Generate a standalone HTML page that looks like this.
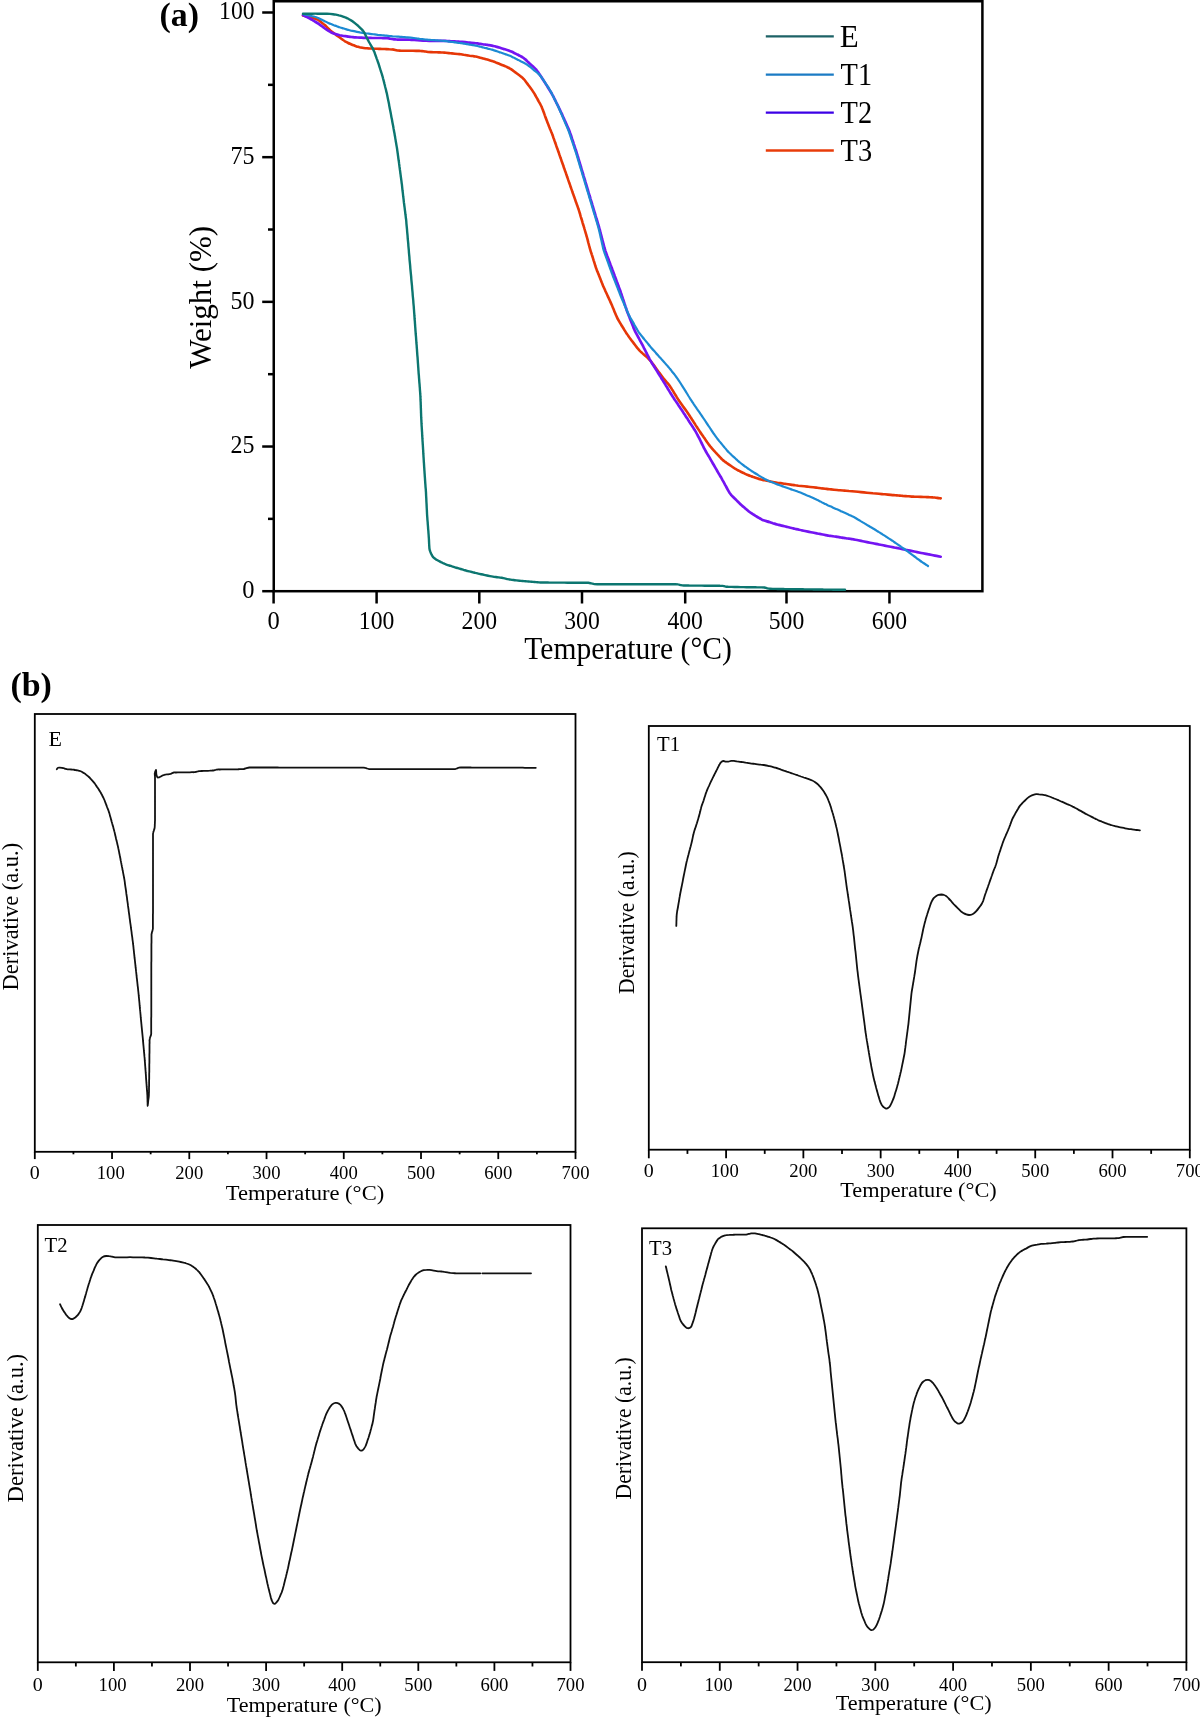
<!DOCTYPE html>
<html><head><meta charset="utf-8"><style>
html,body{margin:0;padding:0;background:#fff;}
svg{display:block;will-change:transform;filter:blur(0.45px);}
text{font-family:"Liberation Serif",serif;fill:#000;}
</style></head><body>
<svg width="1200" height="1718" viewBox="0 0 1200 1718">
<rect width="1200" height="1718" fill="#fff"/>
<rect x="273.75" y="1.25" width="708.65" height="589.95" fill="none" stroke="#000" stroke-width="2.5"/>
<line x1="262.20" y1="591.20" x2="273.75" y2="591.20" stroke="#000" stroke-width="2.5"/>
<text x="254.60" y="598.00" font-size="24.5" text-anchor="end">0</text>
<line x1="262.20" y1="446.53" x2="273.75" y2="446.53" stroke="#000" stroke-width="2.5"/>
<text x="254.60" y="453.33" font-size="24.5" text-anchor="end" textLength="24" lengthAdjust="spacingAndGlyphs">25</text>
<line x1="262.20" y1="301.85" x2="273.75" y2="301.85" stroke="#000" stroke-width="2.5"/>
<text x="254.60" y="308.65" font-size="24.5" text-anchor="end" textLength="24" lengthAdjust="spacingAndGlyphs">50</text>
<line x1="262.20" y1="157.18" x2="273.75" y2="157.18" stroke="#000" stroke-width="2.5"/>
<text x="254.60" y="163.98" font-size="24.5" text-anchor="end" textLength="24" lengthAdjust="spacingAndGlyphs">75</text>
<line x1="262.20" y1="12.50" x2="273.75" y2="12.50" stroke="#000" stroke-width="2.5"/>
<text x="254.60" y="19.30" font-size="24.5" text-anchor="end" textLength="35.5" lengthAdjust="spacingAndGlyphs">100</text>
<line x1="268.00" y1="518.86" x2="273.75" y2="518.86" stroke="#000" stroke-width="2.5"/>
<line x1="268.00" y1="374.19" x2="273.75" y2="374.19" stroke="#000" stroke-width="2.5"/>
<line x1="268.00" y1="229.51" x2="273.75" y2="229.51" stroke="#000" stroke-width="2.5"/>
<line x1="268.00" y1="84.84" x2="273.75" y2="84.84" stroke="#000" stroke-width="2.5"/>
<line x1="273.60" y1="591.20" x2="273.60" y2="603.50" stroke="#000" stroke-width="2.5"/>
<text x="273.60" y="629.00" font-size="24.5" text-anchor="middle">0</text>
<line x1="376.60" y1="591.20" x2="376.60" y2="603.50" stroke="#000" stroke-width="2.5"/>
<text x="376.60" y="629.00" font-size="24.5" text-anchor="middle" textLength="35.5" lengthAdjust="spacingAndGlyphs">100</text>
<line x1="479.30" y1="591.20" x2="479.30" y2="603.50" stroke="#000" stroke-width="2.5"/>
<text x="479.30" y="629.00" font-size="24.5" text-anchor="middle" textLength="35.5" lengthAdjust="spacingAndGlyphs">200</text>
<line x1="582.00" y1="591.20" x2="582.00" y2="603.50" stroke="#000" stroke-width="2.5"/>
<text x="582.00" y="629.00" font-size="24.5" text-anchor="middle" textLength="35.5" lengthAdjust="spacingAndGlyphs">300</text>
<line x1="685.20" y1="591.20" x2="685.20" y2="603.50" stroke="#000" stroke-width="2.5"/>
<text x="685.20" y="629.00" font-size="24.5" text-anchor="middle" textLength="35.5" lengthAdjust="spacingAndGlyphs">400</text>
<line x1="786.50" y1="591.20" x2="786.50" y2="603.50" stroke="#000" stroke-width="2.5"/>
<text x="786.50" y="629.00" font-size="24.5" text-anchor="middle" textLength="35.5" lengthAdjust="spacingAndGlyphs">500</text>
<line x1="889.45" y1="591.20" x2="889.45" y2="603.50" stroke="#000" stroke-width="2.5"/>
<text x="889.45" y="629.00" font-size="24.5" text-anchor="middle" textLength="35.5" lengthAdjust="spacingAndGlyphs">600</text>
<text x="524.30" y="659.00" font-size="31" textLength="207.5" lengthAdjust="spacingAndGlyphs">Temperature (°C)</text>
<text transform="translate(211.40,368.80) rotate(-90)" font-size="31" textLength="143" lengthAdjust="spacingAndGlyphs">Weight (%)</text>
<text x="159.60" y="26.10" font-size="34" font-weight="bold" textLength="39.5" lengthAdjust="spacingAndGlyphs">(a)</text>
<line x1="765.80" y1="36.40" x2="833.80" y2="36.40" stroke="#1d6266" stroke-width="2.3"/>
<text x="839.80" y="46.60" font-size="31">E</text>
<line x1="765.80" y1="74.70" x2="833.80" y2="74.70" stroke="#1b7bc4" stroke-width="2.3"/>
<text x="840.60" y="84.90" font-size="31" textLength="31.5" lengthAdjust="spacingAndGlyphs">T1</text>
<line x1="765.80" y1="112.60" x2="833.80" y2="112.60" stroke="#3c00e6" stroke-width="2.3"/>
<text x="840.60" y="122.80" font-size="31" textLength="31.5" lengthAdjust="spacingAndGlyphs">T2</text>
<line x1="765.80" y1="150.50" x2="833.80" y2="150.50" stroke="#e83c0a" stroke-width="2.3"/>
<text x="840.60" y="160.70" font-size="31" textLength="31.5" lengthAdjust="spacingAndGlyphs">T3</text>
<text x="10.40" y="695.60" font-size="34" font-weight="bold" textLength="41.5" lengthAdjust="spacingAndGlyphs">(b)</text>
<rect x="34.8" y="714.0" width="540.70" height="437.80" fill="none" stroke="#000" stroke-width="1.8"/>
<line x1="34.80" y1="1151.80" x2="34.80" y2="1159.10" stroke="#000" stroke-width="1.8"/>
<text x="34.80" y="1178.80" font-size="19.5" text-anchor="middle" textLength="10" lengthAdjust="spacingAndGlyphs">0</text>
<line x1="73.42" y1="1151.80" x2="73.42" y2="1154.30" stroke="#000" stroke-width="1.8"/>
<line x1="112.04" y1="1151.80" x2="112.04" y2="1159.10" stroke="#000" stroke-width="1.8"/>
<text x="110.74" y="1178.80" font-size="19.5" text-anchor="middle" textLength="28" lengthAdjust="spacingAndGlyphs">100</text>
<line x1="150.66" y1="1151.80" x2="150.66" y2="1154.30" stroke="#000" stroke-width="1.8"/>
<line x1="189.29" y1="1151.80" x2="189.29" y2="1159.10" stroke="#000" stroke-width="1.8"/>
<text x="189.29" y="1178.80" font-size="19.5" text-anchor="middle" textLength="28" lengthAdjust="spacingAndGlyphs">200</text>
<line x1="227.91" y1="1151.80" x2="227.91" y2="1154.30" stroke="#000" stroke-width="1.8"/>
<line x1="266.53" y1="1151.80" x2="266.53" y2="1159.10" stroke="#000" stroke-width="1.8"/>
<text x="266.53" y="1178.80" font-size="19.5" text-anchor="middle" textLength="28" lengthAdjust="spacingAndGlyphs">300</text>
<line x1="305.15" y1="1151.80" x2="305.15" y2="1154.30" stroke="#000" stroke-width="1.8"/>
<line x1="343.77" y1="1151.80" x2="343.77" y2="1159.10" stroke="#000" stroke-width="1.8"/>
<text x="343.77" y="1178.80" font-size="19.5" text-anchor="middle" textLength="28" lengthAdjust="spacingAndGlyphs">400</text>
<line x1="382.39" y1="1151.80" x2="382.39" y2="1154.30" stroke="#000" stroke-width="1.8"/>
<line x1="421.01" y1="1151.80" x2="421.01" y2="1159.10" stroke="#000" stroke-width="1.8"/>
<text x="421.01" y="1178.80" font-size="19.5" text-anchor="middle" textLength="28" lengthAdjust="spacingAndGlyphs">500</text>
<line x1="459.64" y1="1151.80" x2="459.64" y2="1154.30" stroke="#000" stroke-width="1.8"/>
<line x1="498.26" y1="1151.80" x2="498.26" y2="1159.10" stroke="#000" stroke-width="1.8"/>
<text x="498.26" y="1178.80" font-size="19.5" text-anchor="middle" textLength="28" lengthAdjust="spacingAndGlyphs">600</text>
<line x1="536.88" y1="1151.80" x2="536.88" y2="1154.30" stroke="#000" stroke-width="1.8"/>
<line x1="575.50" y1="1151.80" x2="575.50" y2="1159.10" stroke="#000" stroke-width="1.8"/>
<text x="575.50" y="1178.80" font-size="19.5" text-anchor="middle" textLength="28" lengthAdjust="spacingAndGlyphs">700</text>
<text x="48.50" y="745.80" font-size="22">E</text>
<text x="225.80" y="1200.00" font-size="20" textLength="158.4" lengthAdjust="spacingAndGlyphs">Temperature (°C)</text>
<text transform="translate(17.80,990.40) rotate(-90)" font-size="23" textLength="147.5" lengthAdjust="spacingAndGlyphs">Derivative (a.u.)</text>
<rect x="648.8" y="726.0" width="541.00" height="423.70" fill="none" stroke="#000" stroke-width="1.8"/>
<line x1="648.80" y1="1149.70" x2="648.80" y2="1158.30" stroke="#000" stroke-width="1.8"/>
<text x="648.80" y="1177.00" font-size="19.5" text-anchor="middle" textLength="10" lengthAdjust="spacingAndGlyphs">0</text>
<line x1="687.44" y1="1149.70" x2="687.44" y2="1153.90" stroke="#000" stroke-width="1.8"/>
<line x1="726.09" y1="1149.70" x2="726.09" y2="1158.30" stroke="#000" stroke-width="1.8"/>
<text x="724.79" y="1177.00" font-size="19.5" text-anchor="middle" textLength="28" lengthAdjust="spacingAndGlyphs">100</text>
<line x1="764.73" y1="1149.70" x2="764.73" y2="1153.90" stroke="#000" stroke-width="1.8"/>
<line x1="803.37" y1="1149.70" x2="803.37" y2="1158.30" stroke="#000" stroke-width="1.8"/>
<text x="803.37" y="1177.00" font-size="19.5" text-anchor="middle" textLength="28" lengthAdjust="spacingAndGlyphs">200</text>
<line x1="842.01" y1="1149.70" x2="842.01" y2="1153.90" stroke="#000" stroke-width="1.8"/>
<line x1="880.66" y1="1149.70" x2="880.66" y2="1158.30" stroke="#000" stroke-width="1.8"/>
<text x="880.66" y="1177.00" font-size="19.5" text-anchor="middle" textLength="28" lengthAdjust="spacingAndGlyphs">300</text>
<line x1="919.30" y1="1149.70" x2="919.30" y2="1153.90" stroke="#000" stroke-width="1.8"/>
<line x1="957.94" y1="1149.70" x2="957.94" y2="1158.30" stroke="#000" stroke-width="1.8"/>
<text x="957.94" y="1177.00" font-size="19.5" text-anchor="middle" textLength="28" lengthAdjust="spacingAndGlyphs">400</text>
<line x1="996.59" y1="1149.70" x2="996.59" y2="1153.90" stroke="#000" stroke-width="1.8"/>
<line x1="1035.23" y1="1149.70" x2="1035.23" y2="1158.30" stroke="#000" stroke-width="1.8"/>
<text x="1035.23" y="1177.00" font-size="19.5" text-anchor="middle" textLength="28" lengthAdjust="spacingAndGlyphs">500</text>
<line x1="1073.87" y1="1149.70" x2="1073.87" y2="1153.90" stroke="#000" stroke-width="1.8"/>
<line x1="1112.51" y1="1149.70" x2="1112.51" y2="1158.30" stroke="#000" stroke-width="1.8"/>
<text x="1112.51" y="1177.00" font-size="19.5" text-anchor="middle" textLength="28" lengthAdjust="spacingAndGlyphs">600</text>
<line x1="1151.16" y1="1149.70" x2="1151.16" y2="1153.90" stroke="#000" stroke-width="1.8"/>
<line x1="1189.80" y1="1149.70" x2="1189.80" y2="1158.30" stroke="#000" stroke-width="1.8"/>
<text x="1189.80" y="1177.00" font-size="19.5" text-anchor="middle" textLength="28" lengthAdjust="spacingAndGlyphs">700</text>
<text x="657.00" y="750.80" font-size="22" textLength="23" lengthAdjust="spacingAndGlyphs">T1</text>
<text x="840.30" y="1197.00" font-size="20" textLength="156.4" lengthAdjust="spacingAndGlyphs">Temperature (°C)</text>
<text transform="translate(633.80,994.00) rotate(-90)" font-size="23" textLength="142.6" lengthAdjust="spacingAndGlyphs">Derivative (a.u.)</text>
<rect x="37.8" y="1225.0" width="532.70" height="437.30" fill="none" stroke="#000" stroke-width="1.8"/>
<line x1="37.80" y1="1662.30" x2="37.80" y2="1670.90" stroke="#000" stroke-width="1.8"/>
<text x="37.80" y="1690.80" font-size="19.5" text-anchor="middle" textLength="10" lengthAdjust="spacingAndGlyphs">0</text>
<line x1="75.85" y1="1662.30" x2="75.85" y2="1666.50" stroke="#000" stroke-width="1.8"/>
<line x1="113.90" y1="1662.30" x2="113.90" y2="1670.90" stroke="#000" stroke-width="1.8"/>
<text x="112.60" y="1690.80" font-size="19.5" text-anchor="middle" textLength="28" lengthAdjust="spacingAndGlyphs">100</text>
<line x1="151.95" y1="1662.30" x2="151.95" y2="1666.50" stroke="#000" stroke-width="1.8"/>
<line x1="190.00" y1="1662.30" x2="190.00" y2="1670.90" stroke="#000" stroke-width="1.8"/>
<text x="190.00" y="1690.80" font-size="19.5" text-anchor="middle" textLength="28" lengthAdjust="spacingAndGlyphs">200</text>
<line x1="228.05" y1="1662.30" x2="228.05" y2="1666.50" stroke="#000" stroke-width="1.8"/>
<line x1="266.10" y1="1662.30" x2="266.10" y2="1670.90" stroke="#000" stroke-width="1.8"/>
<text x="266.10" y="1690.80" font-size="19.5" text-anchor="middle" textLength="28" lengthAdjust="spacingAndGlyphs">300</text>
<line x1="304.15" y1="1662.30" x2="304.15" y2="1666.50" stroke="#000" stroke-width="1.8"/>
<line x1="342.20" y1="1662.30" x2="342.20" y2="1670.90" stroke="#000" stroke-width="1.8"/>
<text x="342.20" y="1690.80" font-size="19.5" text-anchor="middle" textLength="28" lengthAdjust="spacingAndGlyphs">400</text>
<line x1="380.25" y1="1662.30" x2="380.25" y2="1666.50" stroke="#000" stroke-width="1.8"/>
<line x1="418.30" y1="1662.30" x2="418.30" y2="1670.90" stroke="#000" stroke-width="1.8"/>
<text x="418.30" y="1690.80" font-size="19.5" text-anchor="middle" textLength="28" lengthAdjust="spacingAndGlyphs">500</text>
<line x1="456.35" y1="1662.30" x2="456.35" y2="1666.50" stroke="#000" stroke-width="1.8"/>
<line x1="494.40" y1="1662.30" x2="494.40" y2="1670.90" stroke="#000" stroke-width="1.8"/>
<text x="494.40" y="1690.80" font-size="19.5" text-anchor="middle" textLength="28" lengthAdjust="spacingAndGlyphs">600</text>
<line x1="532.45" y1="1662.30" x2="532.45" y2="1666.50" stroke="#000" stroke-width="1.8"/>
<line x1="570.50" y1="1662.30" x2="570.50" y2="1670.90" stroke="#000" stroke-width="1.8"/>
<text x="570.50" y="1690.80" font-size="19.5" text-anchor="middle" textLength="28" lengthAdjust="spacingAndGlyphs">700</text>
<text x="44.50" y="1251.80" font-size="22" textLength="23" lengthAdjust="spacingAndGlyphs">T2</text>
<text x="226.70" y="1711.70" font-size="20" textLength="155" lengthAdjust="spacingAndGlyphs">Temperature (°C)</text>
<text transform="translate(23.30,1502.40) rotate(-90)" font-size="23" textLength="148.5" lengthAdjust="spacingAndGlyphs">Derivative (a.u.)</text>
<rect x="642.0" y="1228.3" width="544.40" height="433.90" fill="none" stroke="#000" stroke-width="1.8"/>
<line x1="642.00" y1="1662.20" x2="642.00" y2="1670.80" stroke="#000" stroke-width="1.8"/>
<text x="642.00" y="1690.80" font-size="19.5" text-anchor="middle" textLength="10" lengthAdjust="spacingAndGlyphs">0</text>
<line x1="680.89" y1="1662.20" x2="680.89" y2="1666.40" stroke="#000" stroke-width="1.8"/>
<line x1="719.77" y1="1662.20" x2="719.77" y2="1670.80" stroke="#000" stroke-width="1.8"/>
<text x="718.47" y="1690.80" font-size="19.5" text-anchor="middle" textLength="28" lengthAdjust="spacingAndGlyphs">100</text>
<line x1="758.66" y1="1662.20" x2="758.66" y2="1666.40" stroke="#000" stroke-width="1.8"/>
<line x1="797.54" y1="1662.20" x2="797.54" y2="1670.80" stroke="#000" stroke-width="1.8"/>
<text x="797.54" y="1690.80" font-size="19.5" text-anchor="middle" textLength="28" lengthAdjust="spacingAndGlyphs">200</text>
<line x1="836.43" y1="1662.20" x2="836.43" y2="1666.40" stroke="#000" stroke-width="1.8"/>
<line x1="875.31" y1="1662.20" x2="875.31" y2="1670.80" stroke="#000" stroke-width="1.8"/>
<text x="875.31" y="1690.80" font-size="19.5" text-anchor="middle" textLength="28" lengthAdjust="spacingAndGlyphs">300</text>
<line x1="914.20" y1="1662.20" x2="914.20" y2="1666.40" stroke="#000" stroke-width="1.8"/>
<line x1="953.09" y1="1662.20" x2="953.09" y2="1670.80" stroke="#000" stroke-width="1.8"/>
<text x="953.09" y="1690.80" font-size="19.5" text-anchor="middle" textLength="28" lengthAdjust="spacingAndGlyphs">400</text>
<line x1="991.97" y1="1662.20" x2="991.97" y2="1666.40" stroke="#000" stroke-width="1.8"/>
<line x1="1030.86" y1="1662.20" x2="1030.86" y2="1670.80" stroke="#000" stroke-width="1.8"/>
<text x="1030.86" y="1690.80" font-size="19.5" text-anchor="middle" textLength="28" lengthAdjust="spacingAndGlyphs">500</text>
<line x1="1069.74" y1="1662.20" x2="1069.74" y2="1666.40" stroke="#000" stroke-width="1.8"/>
<line x1="1108.63" y1="1662.20" x2="1108.63" y2="1670.80" stroke="#000" stroke-width="1.8"/>
<text x="1108.63" y="1690.80" font-size="19.5" text-anchor="middle" textLength="28" lengthAdjust="spacingAndGlyphs">600</text>
<line x1="1147.51" y1="1662.20" x2="1147.51" y2="1666.40" stroke="#000" stroke-width="1.8"/>
<line x1="1186.40" y1="1662.20" x2="1186.40" y2="1670.80" stroke="#000" stroke-width="1.8"/>
<text x="1186.40" y="1690.80" font-size="19.5" text-anchor="middle" textLength="28" lengthAdjust="spacingAndGlyphs">700</text>
<text x="649.00" y="1255.00" font-size="22" textLength="23" lengthAdjust="spacingAndGlyphs">T3</text>
<text x="835.80" y="1710.00" font-size="20" textLength="155.9" lengthAdjust="spacingAndGlyphs">Temperature (°C)</text>
<text transform="translate(630.80,1499.40) rotate(-90)" font-size="23" textLength="142" lengthAdjust="spacingAndGlyphs">Derivative (a.u.)</text>
<path d="M303.0,15.5C304.0,15.7 304.9,16.0 305.9,16.2C306.9,16.5 307.9,16.7 308.8,16.9C309.8,17.2 310.8,17.4 311.7,17.7C312.7,17.9 313.7,18.1 314.6,18.4C315.6,18.7 316.5,19.1 317.4,19.5C318.2,20.0 319.0,20.6 319.8,21.1C320.7,21.7 321.4,22.4 322.2,23.0C323.0,23.6 323.8,24.2 324.5,24.9C325.3,25.5 326.0,26.2 326.7,26.9C327.4,27.6 328.1,28.3 328.9,29.0C329.6,29.7 330.3,30.4 331.0,31.1C331.8,31.7 332.6,32.3 333.4,32.9C334.2,33.5 335.0,34.1 335.8,34.7C336.6,35.3 337.5,35.8 338.3,36.4C339.1,37.0 339.9,37.6 340.7,38.2C341.5,38.8 342.3,39.4 343.1,40.0C343.9,40.5 344.7,41.1 345.6,41.7C346.4,42.2 347.3,42.6 348.2,43.0C349.1,43.5 350.1,43.8 351.0,44.2C351.9,44.6 352.8,45.0 353.8,45.3C354.7,45.7 355.6,46.1 356.6,46.4C357.5,46.7 358.5,46.9 359.5,47.2C360.4,47.4 361.4,47.6 362.4,47.8C363.4,48.0 364.4,48.1 365.4,48.2C366.4,48.3 367.4,48.3 368.4,48.4C369.3,48.4 370.3,48.5 371.3,48.5C372.3,48.6 373.3,48.6 374.3,48.7C375.3,48.7 376.3,48.8 377.3,48.8C378.3,48.8 379.3,48.9 380.3,48.9C381.3,48.9 382.3,49.0 383.3,49.0C384.3,49.0 385.3,49.1 386.3,49.1C387.3,49.1 388.3,49.1 389.3,49.2C390.3,49.2 391.3,49.2 392.3,49.4C393.3,49.5 394.3,49.7 395.2,49.9C396.2,50.1 397.2,50.4 398.1,50.5C399.1,50.6 400.1,50.6 401.1,50.7C402.1,50.7 403.1,50.7 404.1,50.7C405.1,50.7 406.1,50.7 407.1,50.8C408.1,50.8 409.1,50.8 410.1,50.8C411.1,50.8 412.1,50.8 413.1,50.8C414.1,50.9 415.1,50.9 416.1,50.9C417.1,50.9 418.1,50.9 419.1,50.9C420.1,51.0 421.1,51.0 422.1,51.1C423.1,51.2 424.0,51.4 425.0,51.5C426.0,51.7 426.9,51.9 427.9,52.0C428.9,52.1 429.9,52.1 430.9,52.1C431.9,52.2 432.9,52.2 433.9,52.2C434.9,52.3 435.9,52.3 436.9,52.3C437.9,52.3 438.9,52.4 439.9,52.4C440.9,52.4 441.9,52.5 442.9,52.5C443.9,52.6 444.9,52.7 445.9,52.8C446.9,52.9 447.9,53.0 448.9,53.1C449.9,53.2 450.9,53.3 451.9,53.4C452.9,53.5 453.9,53.6 454.9,53.7C455.8,53.8 456.8,53.9 457.8,54.0C458.8,54.1 459.8,54.2 460.8,54.3C461.8,54.5 462.8,54.6 463.8,54.8C464.8,54.9 465.8,55.1 466.8,55.2C467.7,55.4 468.7,55.5 469.7,55.7C470.7,55.8 471.7,55.9 472.7,56.1C473.7,56.3 474.7,56.4 475.7,56.6C476.6,56.8 477.6,57.0 478.6,57.2C479.5,57.5 480.5,57.8 481.5,58.0C482.4,58.3 483.4,58.6 484.4,58.8C485.3,59.1 486.3,59.4 487.3,59.6C488.2,59.9 489.2,60.2 490.1,60.4C491.1,60.7 492.1,61.0 493.0,61.3C494.0,61.6 494.9,62.0 495.8,62.4C496.7,62.7 497.7,63.1 498.6,63.5C499.5,63.9 500.4,64.3 501.4,64.7C502.3,65.1 503.2,65.4 504.1,65.8C505.0,66.2 506.0,66.6 506.9,67.0C507.8,67.4 508.7,67.8 509.6,68.3C510.5,68.8 511.3,69.3 512.1,69.9C512.9,70.5 513.7,71.1 514.5,71.7C515.3,72.3 516.1,72.9 516.9,73.5C517.7,74.1 518.5,74.7 519.3,75.3C520.1,75.9 520.9,76.5 521.7,77.1C522.4,77.8 523.2,78.4 523.8,79.2C524.5,79.9 525.1,80.7 525.7,81.5C526.3,82.3 526.9,83.1 527.5,83.9C528.1,84.7 528.7,85.5 529.3,86.3C529.9,87.1 530.5,87.9 531.1,88.7C531.7,89.5 532.3,90.3 532.8,91.2C533.4,92.0 533.9,92.8 534.4,93.7C534.9,94.6 535.4,95.4 535.9,96.3C536.4,97.2 536.9,98.1 537.4,98.9C537.8,99.8 538.3,100.7 538.8,101.6C539.3,102.4 539.8,103.3 540.3,104.2C540.7,105.1 541.2,105.9 541.6,106.8C542.0,107.8 542.4,108.7 542.7,109.6C543.1,110.6 543.4,111.5 543.8,112.4C544.1,113.4 544.5,114.3 544.8,115.3C545.1,116.2 545.5,117.2 545.8,118.1C546.2,119.0 546.5,120.0 546.9,120.9C547.2,121.8 547.6,122.8 548.0,123.7C548.3,124.6 548.7,125.5 549.1,126.5C549.5,127.4 549.8,128.3 550.2,129.3C550.6,130.2 551.0,131.1 551.3,132.0C551.7,133.0 552.1,133.9 552.4,134.8C552.8,135.8 553.1,136.7 553.4,137.7C553.8,138.6 554.1,139.6 554.4,140.5C554.8,141.4 555.1,142.4 555.4,143.3C555.8,144.3 556.1,145.2 556.4,146.2C556.8,147.1 557.1,148.0 557.4,149.0C557.8,149.9 558.1,150.9 558.4,151.8C558.8,152.8 559.1,153.7 559.4,154.7C559.7,155.6 560.1,156.5 560.4,157.5C560.7,158.4 561.1,159.4 561.4,160.3C561.7,161.3 562.1,162.2 562.4,163.1C562.7,164.1 563.1,165.0 563.4,166.0C563.7,166.9 564.0,167.9 564.4,168.8C564.7,169.8 565.0,170.7 565.4,171.7C565.7,172.6 566.0,173.5 566.3,174.5C566.7,175.4 567.0,176.4 567.3,177.3C567.7,178.3 568.0,179.2 568.3,180.2C568.6,181.1 569.0,182.0 569.3,183.0C569.6,183.9 570.0,184.9 570.3,185.8C570.6,186.8 571.0,187.7 571.3,188.7C571.6,189.6 572.0,190.5 572.3,191.5C572.6,192.4 572.9,193.4 573.3,194.3C573.6,195.3 573.9,196.2 574.3,197.1C574.6,198.1 574.9,199.0 575.3,200.0C575.6,200.9 575.9,201.9 576.3,202.8C576.6,203.8 576.9,204.7 577.3,205.6C577.6,206.6 577.9,207.5 578.3,208.5C578.6,209.4 578.9,210.4 579.2,211.3C579.5,212.3 579.8,213.2 580.1,214.2C580.3,215.2 580.6,216.1 580.9,217.1C581.2,218.0 581.5,219.0 581.8,219.9C582.1,220.9 582.4,221.9 582.6,222.8C582.9,223.8 583.2,224.7 583.5,225.7C583.8,226.7 584.1,227.6 584.4,228.6C584.7,229.5 584.9,230.5 585.2,231.4C585.5,232.4 585.8,233.4 586.1,234.3C586.4,235.3 586.6,236.3 586.9,237.2C587.2,238.2 587.4,239.1 587.7,240.1C587.9,241.1 588.2,242.0 588.4,243.0C588.7,244.0 589.0,245.0 589.2,245.9C589.5,246.9 589.7,247.8 590.0,248.8C590.3,249.8 590.6,250.7 590.8,251.7C591.1,252.6 591.5,253.6 591.8,254.6C592.1,255.5 592.4,256.5 592.7,257.4C593.0,258.4 593.3,259.3 593.6,260.3C593.9,261.2 594.2,262.2 594.5,263.1C594.8,264.1 595.1,265.0 595.4,266.0C595.7,266.9 596.0,267.9 596.4,268.8C596.7,269.8 597.1,270.7 597.4,271.6C597.8,272.6 598.2,273.5 598.6,274.4C598.9,275.3 599.3,276.3 599.7,277.2C600.0,278.1 600.4,279.1 600.8,280.0C601.2,280.9 601.5,281.8 601.9,282.8C602.3,283.7 602.6,284.6 603.0,285.6C603.4,286.5 603.8,287.4 604.2,288.3C604.6,289.2 605.0,290.1 605.4,291.1C605.9,292.0 606.3,292.9 606.7,293.8C607.1,294.7 607.5,295.6 607.9,296.5C608.4,297.4 608.8,298.3 609.2,299.2C609.6,300.1 610.0,301.1 610.4,302.0C610.9,302.9 611.3,303.8 611.7,304.7C612.1,305.6 612.4,306.6 612.8,307.5C613.2,308.4 613.6,309.3 614.0,310.3C614.3,311.2 614.7,312.1 615.1,313.0C615.5,313.9 615.9,314.9 616.3,315.8C616.7,316.7 617.1,317.6 617.5,318.5C618.0,319.4 618.5,320.3 619.0,321.1C619.5,322.0 620.0,322.8 620.5,323.7C621.0,324.6 621.6,325.4 622.1,326.3C622.6,327.1 623.2,328.0 623.7,328.8C624.2,329.7 624.7,330.5 625.3,331.4C625.8,332.2 626.3,333.1 626.9,333.9C627.4,334.7 628.0,335.6 628.6,336.4C629.1,337.2 629.7,338.0 630.3,338.8C630.9,339.6 631.5,340.4 632.1,341.2C632.8,342.0 633.4,342.8 634.0,343.6C634.6,344.4 635.2,345.2 635.8,346.0C636.4,346.8 637.0,347.6 637.6,348.3C638.2,349.1 638.9,349.9 639.6,350.6C640.3,351.3 641.0,352.0 641.8,352.6C642.5,353.3 643.2,354.0 644.0,354.6C644.7,355.3 645.5,356.0 646.2,356.6C647.0,357.3 647.7,358.0 648.4,358.7C649.2,359.4 649.8,360.1 650.5,360.8C651.1,361.6 651.7,362.4 652.3,363.2C652.9,364.0 653.5,364.8 654.1,365.6C654.7,366.4 655.3,367.2 655.8,368.1C656.4,368.9 657.0,369.7 657.6,370.5C658.2,371.3 658.8,372.1 659.4,372.9C660.0,373.7 660.6,374.5 661.2,375.3C661.8,376.1 662.4,376.9 663.0,377.7C663.6,378.5 664.2,379.3 664.9,380.0C665.5,380.8 666.2,381.6 666.8,382.3C667.5,383.1 668.1,383.8 668.8,384.6C669.4,385.4 670.0,386.2 670.5,387.0C671.1,387.8 671.6,388.7 672.1,389.5C672.7,390.4 673.2,391.2 673.7,392.1C674.2,393.0 674.7,393.8 675.3,394.7C675.8,395.5 676.3,396.4 676.8,397.2C677.4,398.1 677.9,398.9 678.4,399.8C679.0,400.6 679.5,401.4 680.1,402.2C680.7,403.1 681.3,403.9 681.9,404.7C682.5,405.5 683.0,406.3 683.6,407.1C684.2,407.9 684.8,408.7 685.4,409.6C686.0,410.4 686.5,411.2 687.1,412.0C687.7,412.8 688.2,413.7 688.8,414.5C689.3,415.3 689.9,416.2 690.4,417.0C691.0,417.9 691.5,418.7 692.0,419.5C692.6,420.4 693.1,421.2 693.7,422.1C694.2,422.9 694.8,423.7 695.3,424.6C695.8,425.4 696.4,426.3 696.9,427.1C697.5,427.9 698.0,428.8 698.6,429.6C699.1,430.4 699.7,431.3 700.2,432.1C700.8,432.9 701.4,433.8 701.9,434.6C702.5,435.4 703.1,436.2 703.6,437.0C704.2,437.9 704.8,438.7 705.3,439.5C705.9,440.3 706.5,441.2 707.0,442.0C707.6,442.8 708.2,443.7 708.8,444.5C709.3,445.3 709.9,446.1 710.6,446.8C711.2,447.6 711.9,448.3 712.6,449.1C713.2,449.8 713.9,450.6 714.6,451.3C715.2,452.1 715.9,452.8 716.6,453.5C717.3,454.3 717.9,455.0 718.6,455.7C719.3,456.5 720.0,457.2 720.7,457.9C721.3,458.7 722.0,459.4 722.8,460.0C723.5,460.7 724.4,461.3 725.2,461.9C726.0,462.5 726.8,463.0 727.6,463.6C728.4,464.2 729.2,464.7 730.1,465.3C730.9,465.9 731.7,466.5 732.5,467.0C733.3,467.6 734.2,468.2 735.0,468.7C735.9,469.2 736.8,469.6 737.7,470.1C738.5,470.6 739.4,471.0 740.3,471.5C741.2,471.9 742.1,472.3 743.0,472.8C743.9,473.2 744.8,473.7 745.7,474.1C746.6,474.5 747.6,474.9 748.5,475.3C749.4,475.7 750.4,476.0 751.3,476.3C752.2,476.7 753.2,477.0 754.1,477.3C755.1,477.7 756.0,478.0 757.0,478.3C757.9,478.6 758.8,479.0 759.8,479.2C760.8,479.5 761.7,479.7 762.7,479.9C763.7,480.2 764.7,480.3 765.7,480.5C766.6,480.7 767.6,480.9 768.6,481.1C769.6,481.3 770.6,481.5 771.6,481.7C772.5,481.9 773.5,482.0 774.5,482.2C775.5,482.4 776.5,482.5 777.5,482.7C778.5,482.8 779.5,483.0 780.4,483.1C781.4,483.3 782.4,483.4 783.4,483.6C784.4,483.7 785.4,483.9 786.4,484.0C787.4,484.1 788.4,484.3 789.3,484.4C790.3,484.6 791.3,484.7 792.3,484.9C793.3,485.0 794.3,485.1 795.3,485.3C796.3,485.4 797.3,485.5 798.3,485.7C799.3,485.8 800.3,485.9 801.2,486.0C802.2,486.1 803.2,486.2 804.2,486.3C805.2,486.4 806.2,486.5 807.2,486.6C808.2,486.8 809.2,486.9 810.2,487.0C811.2,487.1 812.2,487.2 813.2,487.3C814.2,487.4 815.2,487.5 816.2,487.6C817.2,487.8 818.2,487.9 819.1,488.0C820.1,488.1 821.1,488.2 822.1,488.4C823.1,488.5 824.1,488.6 825.1,488.7C826.1,488.8 827.1,489.0 828.1,489.1C829.1,489.2 830.1,489.3 831.1,489.4C832.1,489.5 833.1,489.6 834.0,489.7C835.0,489.8 836.0,489.9 837.0,490.0C838.0,490.1 839.0,490.2 840.0,490.2C841.0,490.3 842.0,490.4 843.0,490.5C844.0,490.6 845.0,490.6 846.0,490.7C847.0,490.8 848.0,490.9 849.0,491.0C850.0,491.0 851.0,491.1 852.0,491.2C853.0,491.3 854.0,491.4 855.0,491.5C856.0,491.6 857.0,491.7 858.0,491.8C859.0,491.9 860.0,492.0 861.0,492.1C862.0,492.2 863.0,492.3 863.9,492.4C864.9,492.5 865.9,492.6 866.9,492.7C867.9,492.8 868.9,492.9 869.9,493.0C870.9,493.1 871.9,493.2 872.9,493.3C873.9,493.3 874.9,493.4 875.9,493.5C876.9,493.6 877.9,493.7 878.9,493.8C879.9,493.9 880.9,494.0 881.9,494.1C882.9,494.2 883.9,494.3 884.9,494.3C885.9,494.4 886.9,494.5 887.9,494.6C888.8,494.7 889.8,494.8 890.8,494.9C891.8,495.0 892.8,495.1 893.8,495.1C894.8,495.2 895.8,495.3 896.8,495.4C897.8,495.5 898.8,495.5 899.8,495.6C900.8,495.7 901.8,495.8 902.8,495.9C903.8,495.9 904.8,496.0 905.8,496.1C906.8,496.2 907.8,496.3 908.8,496.3C909.8,496.4 910.8,496.5 911.8,496.6C912.8,496.6 913.8,496.7 914.8,496.7C915.8,496.8 916.8,496.8 917.8,496.8C918.8,496.9 919.8,496.9 920.8,496.9C921.8,497.0 922.8,497.0 923.8,497.0C924.8,497.0 925.8,497.1 926.8,497.1C927.8,497.1 928.8,497.2 929.8,497.2C930.8,497.2 931.8,497.3 932.8,497.4C933.8,497.4 934.8,497.6 935.8,497.7C936.7,497.8 937.8,498.0 938.7,498.1C939.4,498.2 940.0,498.3 940.7,498.4" fill="none" stroke="#e63707" stroke-width="2.6" stroke-linejoin="round" stroke-linecap="round"/>
<path d="M303.0,15.0C303.9,15.5 304.8,15.9 305.7,16.4C306.6,16.8 307.4,17.3 308.3,17.8C309.2,18.2 310.1,18.7 311.0,19.2C311.9,19.7 312.7,20.2 313.6,20.7C314.4,21.2 315.3,21.7 316.1,22.3C317.0,22.8 317.8,23.3 318.7,23.9C319.5,24.4 320.3,25.0 321.1,25.6C321.9,26.2 322.7,26.8 323.5,27.4C324.3,28.0 325.1,28.7 325.9,29.2C326.7,29.8 327.6,30.3 328.4,30.8C329.3,31.3 330.2,31.8 331.0,32.3C331.9,32.7 332.8,33.2 333.7,33.5C334.7,33.9 335.6,34.2 336.6,34.4C337.6,34.7 338.5,34.9 339.5,35.2C340.5,35.4 341.5,35.6 342.4,35.8C343.4,36.0 344.4,36.1 345.4,36.2C346.4,36.3 347.4,36.5 348.4,36.6C349.4,36.7 350.4,36.8 351.4,37.0C352.4,37.1 353.4,37.2 354.4,37.3C355.3,37.4 356.3,37.4 357.3,37.5C358.3,37.6 359.3,37.6 360.3,37.6C361.3,37.7 362.3,37.7 363.3,37.8C364.3,37.8 365.3,37.9 366.3,37.9C367.3,37.9 368.3,37.9 369.3,37.9C370.3,37.9 371.3,38.0 372.3,38.0C373.3,38.0 374.4,38.0 375.4,38.0C376.4,38.0 377.4,38.0 378.4,38.0C379.4,38.0 380.4,38.0 381.4,38.0C382.4,38.1 383.4,38.0 384.4,38.1C385.4,38.1 386.4,38.1 387.3,38.2C388.3,38.4 389.3,38.5 390.3,38.7C391.3,38.9 392.3,39.1 393.2,39.2C394.2,39.4 395.2,39.4 396.2,39.5C397.2,39.6 398.2,39.5 399.2,39.6C400.2,39.6 401.2,39.6 402.2,39.6C403.2,39.6 404.2,39.6 405.2,39.6C406.2,39.7 407.2,39.7 408.2,39.7C409.2,39.7 410.2,39.8 411.2,39.8C412.2,39.8 413.2,39.9 414.2,40.0C415.2,40.0 416.2,40.1 417.2,40.2C418.2,40.2 419.2,40.3 420.2,40.4C421.2,40.4 422.2,40.5 423.2,40.6C424.2,40.6 425.2,40.7 426.2,40.7C427.2,40.8 428.2,40.8 429.2,40.8C430.2,40.8 431.2,40.8 432.2,40.8C433.2,40.8 434.2,40.8 435.2,40.8C436.2,40.8 437.2,40.8 438.2,40.8C439.2,40.8 440.2,40.8 441.2,40.8C442.2,40.8 443.2,40.8 444.2,40.9C445.2,40.9 446.2,41.0 447.2,41.0C448.2,41.1 449.2,41.1 450.2,41.2C451.2,41.2 452.2,41.3 453.2,41.3C454.2,41.4 455.2,41.4 456.2,41.5C457.2,41.6 458.2,41.6 459.2,41.7C460.2,41.7 461.2,41.8 462.2,41.9C463.2,42.0 464.2,42.1 465.2,42.2C466.2,42.3 467.2,42.4 468.2,42.5C469.2,42.6 470.2,42.7 471.2,42.8C472.2,42.9 473.2,43.0 474.2,43.1C475.2,43.2 476.2,43.3 477.2,43.4C478.1,43.5 479.1,43.7 480.1,43.8C481.1,44.0 482.1,44.1 483.1,44.3C484.1,44.4 485.1,44.6 486.1,44.7C487.1,44.9 488.0,45.0 489.0,45.2C490.0,45.3 491.0,45.5 492.0,45.6C493.0,45.8 493.9,46.1 494.9,46.3C495.9,46.6 496.8,46.9 497.8,47.1C498.8,47.4 499.7,47.7 500.7,48.0C501.6,48.3 502.6,48.6 503.5,48.9C504.5,49.2 505.5,49.4 506.4,49.7C507.4,50.0 508.3,50.3 509.3,50.7C510.2,51.0 511.1,51.4 512.0,51.8C512.9,52.3 513.8,52.7 514.7,53.2C515.6,53.6 516.5,54.1 517.4,54.5C518.3,55.0 519.2,55.4 520.1,55.9C520.9,56.4 521.8,56.8 522.7,57.4C523.5,57.9 524.3,58.5 525.0,59.2C525.8,59.8 526.5,60.5 527.2,61.2C528.0,61.9 528.7,62.5 529.4,63.2C530.2,63.9 530.9,64.6 531.6,65.3C532.4,66.0 533.1,66.6 533.8,67.3C534.6,68.0 535.3,68.7 536.0,69.4C536.6,70.2 537.2,71.0 537.8,71.8C538.4,72.6 538.9,73.4 539.5,74.2C540.1,75.1 540.6,75.9 541.2,76.8C541.7,77.6 542.3,78.4 542.8,79.3C543.3,80.1 543.9,80.9 544.4,81.8C545.0,82.6 545.5,83.5 546.0,84.3C546.6,85.2 547.1,86.0 547.6,86.9C548.2,87.7 548.7,88.6 549.2,89.4C549.8,90.3 550.3,91.1 550.8,92.0C551.3,92.8 551.8,93.7 552.3,94.6C552.8,95.4 553.2,96.3 553.7,97.2C554.1,98.1 554.6,99.0 555.0,99.9C555.4,100.8 555.9,101.7 556.3,102.6C556.8,103.5 557.2,104.4 557.7,105.3C558.1,106.2 558.6,107.1 559.0,108.0C559.4,108.9 559.9,109.8 560.3,110.7C560.7,111.6 561.1,112.5 561.6,113.4C562.0,114.3 562.4,115.3 562.8,116.2C563.2,117.1 563.6,118.0 564.0,118.9C564.4,119.8 564.9,120.7 565.3,121.6C565.7,122.6 566.1,123.5 566.5,124.4C566.9,125.3 567.3,126.2 567.7,127.1C568.1,128.0 568.6,128.9 568.9,129.9C569.3,130.8 569.7,131.7 570.0,132.7C570.4,133.6 570.7,134.6 571.0,135.5C571.3,136.5 571.6,137.4 571.9,138.4C572.2,139.3 572.5,140.3 572.9,141.2C573.2,142.2 573.5,143.1 573.8,144.1C574.1,145.0 574.4,146.0 574.7,146.9C575.0,147.9 575.4,148.8 575.7,149.8C576.0,150.7 576.3,151.7 576.6,152.6C576.9,153.6 577.2,154.5 577.5,155.5C577.8,156.4 578.1,157.4 578.4,158.4C578.7,159.3 578.9,160.3 579.2,161.2C579.5,162.2 579.8,163.2 580.1,164.1C580.4,165.1 580.7,166.0 581.0,167.0C581.2,168.0 581.5,168.9 581.8,169.9C582.1,170.8 582.4,171.8 582.7,172.7C583.0,173.7 583.3,174.7 583.5,175.6C583.8,176.6 584.1,177.5 584.4,178.5C584.7,179.5 585.0,180.4 585.3,181.4C585.6,182.3 585.8,183.3 586.1,184.3C586.4,185.2 586.7,186.2 587.0,187.1C587.3,188.1 587.6,189.0 587.9,190.0C588.1,191.0 588.4,191.9 588.7,192.9C589.0,193.8 589.3,194.8 589.6,195.8C589.9,196.7 590.2,197.7 590.4,198.6C590.7,199.6 591.0,200.5 591.3,201.5C591.6,202.5 591.9,203.4 592.2,204.4C592.5,205.3 592.8,206.3 593.0,207.3C593.3,208.2 593.6,209.2 593.9,210.1C594.2,211.1 594.5,212.1 594.8,213.0C595.1,214.0 595.3,214.9 595.6,215.9C595.9,216.8 596.2,217.8 596.5,218.8C596.8,219.7 597.1,220.7 597.4,221.6C597.6,222.6 597.9,223.6 598.2,224.5C598.5,225.5 598.8,226.4 599.1,227.4C599.3,228.4 599.6,229.3 599.9,230.3C600.1,231.3 600.4,232.2 600.6,233.2C600.9,234.2 601.1,235.1 601.4,236.1C601.6,237.1 601.9,238.0 602.1,239.0C602.4,240.0 602.7,240.9 602.9,241.9C603.2,242.9 603.4,243.8 603.7,244.8C603.9,245.8 604.2,246.8 604.4,247.7C604.7,248.7 605.0,249.6 605.3,250.6C605.6,251.5 605.9,252.5 606.3,253.4C606.6,254.4 607.0,255.3 607.3,256.2C607.7,257.2 608.0,258.1 608.4,259.0C608.7,260.0 609.1,260.9 609.4,261.9C609.8,262.8 610.1,263.7 610.5,264.7C610.9,265.6 611.2,266.5 611.6,267.5C611.9,268.4 612.3,269.4 612.6,270.3C613.0,271.2 613.3,272.2 613.7,273.1C614.0,274.0 614.4,275.0 614.7,275.9C615.1,276.9 615.4,277.8 615.8,278.7C616.1,279.7 616.5,280.6 616.8,281.5C617.2,282.5 617.5,283.4 617.9,284.4C618.2,285.3 618.6,286.2 618.9,287.2C619.3,288.1 619.6,289.0 620.0,290.0C620.3,290.9 620.6,291.9 620.9,292.8C621.3,293.8 621.6,294.7 621.9,295.7C622.2,296.6 622.5,297.6 622.8,298.5C623.2,299.5 623.5,300.4 623.8,301.4C624.1,302.3 624.4,303.3 624.7,304.2C625.1,305.2 625.4,306.1 625.7,307.1C626.0,308.0 626.3,309.0 626.6,309.9C627.0,310.9 627.3,311.8 627.6,312.7C628.0,313.7 628.4,314.6 628.7,315.5C629.1,316.5 629.5,317.4 629.8,318.3C630.2,319.3 630.6,320.2 630.9,321.1C631.3,322.1 631.7,323.0 632.1,323.9C632.4,324.8 632.8,325.8 633.2,326.7C633.5,327.6 633.9,328.6 634.3,329.5C634.7,330.4 635.1,331.3 635.5,332.2C636.0,333.1 636.5,334.0 637.0,334.9C637.4,335.7 637.9,336.6 638.4,337.5C638.9,338.4 639.4,339.2 639.8,340.1C640.3,341.0 640.8,341.9 641.3,342.8C641.7,343.6 642.2,344.5 642.7,345.4C643.1,346.3 643.6,347.2 644.0,348.1C644.5,349.0 644.9,349.9 645.4,350.8C645.8,351.7 646.3,352.6 646.7,353.5C647.2,354.4 647.6,355.3 648.1,356.1C648.5,357.0 649.0,357.9 649.4,358.8C649.9,359.7 650.4,360.6 650.9,361.4C651.4,362.3 652.0,363.1 652.5,364.0C653.0,364.8 653.6,365.7 654.1,366.5C654.6,367.4 655.2,368.2 655.7,369.1C656.2,369.9 656.8,370.8 657.3,371.6C657.8,372.5 658.4,373.3 658.9,374.2C659.4,375.0 659.9,375.9 660.5,376.7C661.0,377.6 661.5,378.4 662.0,379.3C662.6,380.1 663.1,381.0 663.6,381.8C664.1,382.7 664.7,383.5 665.2,384.4C665.7,385.2 666.2,386.1 666.8,386.9C667.3,387.8 667.8,388.6 668.3,389.5C668.9,390.4 669.4,391.2 669.9,392.1C670.4,392.9 670.9,393.8 671.5,394.6C672.0,395.5 672.5,396.3 673.1,397.1C673.6,398.0 674.2,398.8 674.7,399.7C675.3,400.5 675.9,401.3 676.4,402.1C677.0,403.0 677.5,403.8 678.1,404.6C678.6,405.5 679.2,406.3 679.7,407.1C680.3,408.0 680.9,408.8 681.4,409.6C682.0,410.5 682.5,411.3 683.1,412.1C683.6,413.0 684.2,413.8 684.7,414.6C685.3,415.5 685.8,416.3 686.4,417.2C686.9,418.0 687.5,418.8 688.0,419.7C688.6,420.5 689.1,421.4 689.6,422.2C690.2,423.0 690.7,423.9 691.3,424.7C691.8,425.6 692.4,426.4 692.9,427.2C693.4,428.1 694.0,428.9 694.5,429.8C695.1,430.6 695.6,431.5 696.1,432.3C696.6,433.2 697.1,434.1 697.5,435.0C698.0,435.9 698.4,436.8 698.9,437.6C699.3,438.5 699.8,439.4 700.2,440.3C700.6,441.2 701.1,442.1 701.5,443.0C702.0,443.9 702.4,444.8 702.9,445.7C703.3,446.6 703.8,447.5 704.2,448.4C704.7,449.3 705.2,450.2 705.6,451.0C706.1,451.9 706.6,452.8 707.1,453.6C707.6,454.5 708.2,455.4 708.7,456.2C709.2,457.1 709.7,458.0 710.2,458.8C710.7,459.7 711.2,460.5 711.7,461.4C712.2,462.3 712.7,463.1 713.2,464.0C713.7,464.9 714.2,465.7 714.7,466.6C715.2,467.5 715.7,468.3 716.2,469.2C716.7,470.1 717.2,470.9 717.7,471.8C718.2,472.7 718.7,473.5 719.2,474.4C719.7,475.3 720.3,476.1 720.8,477.0C721.3,477.9 721.8,478.7 722.2,479.6C722.7,480.5 723.2,481.3 723.7,482.2C724.2,483.1 724.7,484.0 725.1,484.9C725.6,485.7 726.1,486.6 726.6,487.5C727.1,488.4 727.5,489.3 728.0,490.1C728.5,491.0 729.0,491.9 729.5,492.7C730.1,493.5 730.7,494.3 731.3,495.1C732.0,495.8 732.7,496.5 733.4,497.2C734.1,497.9 734.8,498.6 735.5,499.3C736.2,500.0 737.0,500.8 737.7,501.5C738.4,502.2 739.1,502.9 739.8,503.6C740.5,504.2 741.3,504.9 742.0,505.6C742.8,506.2 743.6,506.9 744.3,507.5C745.1,508.2 745.8,508.9 746.6,509.5C747.3,510.2 748.1,510.8 748.9,511.5C749.6,512.1 750.5,512.7 751.3,513.2C752.1,513.8 753.0,514.3 753.8,514.8C754.7,515.3 755.5,515.8 756.4,516.3C757.3,516.9 758.1,517.4 759.0,517.9C759.8,518.4 760.7,518.9 761.6,519.4C762.5,519.8 763.4,520.2 764.3,520.5C765.3,520.9 766.2,521.1 767.2,521.4C768.1,521.7 769.1,522.0 770.1,522.3C771.0,522.6 772.0,522.9 772.9,523.2C773.9,523.5 774.8,523.8 775.8,524.1C776.8,524.4 777.7,524.6 778.7,524.9C779.6,525.2 780.6,525.4 781.6,525.6C782.6,525.9 783.5,526.1 784.5,526.3C785.5,526.6 786.5,526.8 787.4,527.0C788.4,527.3 789.4,527.5 790.4,527.7C791.3,527.9 792.3,528.2 793.3,528.4C794.3,528.6 795.2,528.9 796.2,529.1C797.2,529.3 798.2,529.5 799.1,529.7C800.1,529.9 801.1,530.1 802.1,530.4C803.1,530.6 804.0,530.8 805.0,531.0C806.0,531.2 807.0,531.4 808.0,531.6C808.9,531.8 809.9,532.0 810.9,532.2C811.9,532.4 812.9,532.6 813.8,532.8C814.8,533.0 815.8,533.2 816.8,533.4C817.8,533.6 818.7,533.8 819.7,533.9C820.7,534.1 821.7,534.3 822.7,534.5C823.7,534.7 824.6,534.9 825.6,535.1C826.6,535.3 827.6,535.4 828.6,535.6C829.6,535.7 830.6,535.9 831.6,536.0C832.5,536.2 833.5,536.3 834.5,536.5C835.5,536.6 836.5,536.8 837.5,536.9C838.5,537.1 839.5,537.2 840.5,537.4C841.5,537.5 842.4,537.7 843.4,537.8C844.4,538.0 845.4,538.1 846.4,538.3C847.4,538.4 848.4,538.6 849.4,538.7C850.4,538.9 851.4,539.0 852.3,539.2C853.3,539.3 854.3,539.5 855.3,539.7C856.3,539.9 857.3,540.1 858.2,540.3C859.2,540.5 860.2,540.7 861.2,540.9C862.2,541.1 863.1,541.3 864.1,541.5C865.1,541.7 866.1,541.9 867.1,542.1C868.0,542.3 869.0,542.5 870.0,542.7C871.0,542.9 872.0,543.1 873.0,543.3C873.9,543.5 874.9,543.7 875.9,543.9C876.9,544.1 877.9,544.3 878.8,544.5C879.8,544.7 880.8,544.9 881.8,545.0C882.8,545.2 883.7,545.4 884.7,545.6C885.7,545.8 886.7,546.0 887.7,546.2C888.7,546.4 889.6,546.6 890.6,546.8C891.6,547.0 892.6,547.2 893.6,547.4C894.6,547.6 895.5,547.8 896.5,547.9C897.5,548.1 898.5,548.3 899.5,548.5C900.4,548.7 901.4,548.9 902.4,549.1C903.4,549.3 904.4,549.5 905.3,549.7C906.3,549.9 907.3,550.1 908.3,550.3C909.3,550.5 910.3,550.7 911.2,550.9C912.2,551.1 913.2,551.3 914.2,551.5C915.2,551.7 916.1,551.9 917.1,552.1C918.1,552.3 919.1,552.5 920.1,552.7C921.0,552.9 922.0,553.1 923.0,553.3C924.0,553.5 925.0,553.7 926.0,553.9C926.9,554.1 927.9,554.2 928.9,554.4C929.9,554.6 930.9,554.8 931.9,555.0C932.8,555.2 933.8,555.4 934.8,555.6C935.8,555.8 936.8,556.0 937.7,556.1C938.7,556.3 939.7,556.5 940.7,556.7" fill="none" stroke="#7414f2" stroke-width="2.7" stroke-linejoin="round" stroke-linecap="round"/>
<path d="M303.0,14.0C304.0,14.2 304.9,14.5 305.9,14.7C306.9,14.9 307.9,15.1 308.8,15.4C309.8,15.6 310.8,15.8 311.8,16.1C312.7,16.3 313.7,16.5 314.7,16.8C315.6,17.0 316.6,17.3 317.5,17.7C318.4,18.0 319.3,18.5 320.2,18.9C321.1,19.3 322.0,19.8 322.9,20.3C323.8,20.7 324.7,21.2 325.6,21.6C326.5,22.1 327.4,22.5 328.3,22.9C329.2,23.3 330.2,23.7 331.1,24.0C332.0,24.4 332.9,24.8 333.9,25.2C334.8,25.5 335.7,25.9 336.7,26.2C337.6,26.6 338.5,26.9 339.5,27.3C340.4,27.6 341.4,27.9 342.4,28.1C343.3,28.4 344.3,28.7 345.2,29.0C346.2,29.3 347.1,29.6 348.1,29.8C349.1,30.1 350.0,30.3 351.0,30.6C352.0,30.8 353.0,31.0 354.0,31.2C354.9,31.4 355.9,31.6 356.9,31.8C357.9,32.0 358.9,32.2 359.8,32.4C360.8,32.5 361.8,32.7 362.8,32.8C363.8,33.0 364.8,33.1 365.8,33.3C366.8,33.4 367.8,33.6 368.7,33.7C369.7,33.9 370.7,34.0 371.7,34.1C372.7,34.2 373.7,34.3 374.7,34.4C375.7,34.6 376.7,34.6 377.7,34.8C378.7,34.9 379.7,35.0 380.7,35.1C381.7,35.2 382.7,35.3 383.7,35.4C384.7,35.5 385.6,35.6 386.6,35.7C387.6,35.8 388.6,35.9 389.6,36.0C390.6,36.1 391.6,36.2 392.6,36.3C393.6,36.3 394.6,36.4 395.6,36.5C396.6,36.6 397.6,36.6 398.6,36.7C399.6,36.8 400.6,36.8 401.6,36.9C402.6,37.0 403.6,37.0 404.6,37.1C405.6,37.2 406.6,37.3 407.6,37.3C408.6,37.4 409.6,37.5 410.6,37.6C411.6,37.7 412.6,37.8 413.6,38.0C414.5,38.1 415.5,38.2 416.5,38.4C417.5,38.5 418.5,38.6 419.5,38.8C420.5,38.9 421.5,39.0 422.5,39.1C423.5,39.3 424.5,39.4 425.5,39.5C426.5,39.6 427.4,39.7 428.4,39.8C429.4,39.9 430.4,39.9 431.4,40.0C432.4,40.1 433.4,40.1 434.4,40.2C435.4,40.3 436.4,40.3 437.4,40.4C438.4,40.5 439.4,40.5 440.4,40.6C441.4,40.7 442.4,40.8 443.4,40.9C444.4,41.0 445.4,41.1 446.4,41.2C447.4,41.3 448.4,41.5 449.4,41.6C450.4,41.7 451.4,41.9 452.3,42.0C453.3,42.1 454.3,42.3 455.3,42.4C456.3,42.5 457.3,42.6 458.3,42.8C459.3,42.9 460.3,43.1 461.3,43.2C462.3,43.4 463.2,43.5 464.2,43.7C465.2,43.9 466.2,44.0 467.2,44.2C468.2,44.4 469.2,44.5 470.1,44.7C471.1,44.9 472.1,45.0 473.1,45.2C474.1,45.4 475.1,45.5 476.1,45.7C477.0,45.9 478.0,46.2 479.0,46.4C480.0,46.6 480.9,46.9 481.9,47.1C482.9,47.4 483.8,47.6 484.8,47.9C485.8,48.1 486.7,48.3 487.7,48.6C488.7,48.8 489.7,49.1 490.6,49.3C491.6,49.6 492.6,49.8 493.5,50.1C494.5,50.4 495.4,50.8 496.4,51.1C497.3,51.4 498.3,51.7 499.2,52.1C500.1,52.4 501.1,52.7 502.0,53.0C503.0,53.4 503.9,53.7 504.9,54.0C505.8,54.4 506.8,54.7 507.7,55.0C508.6,55.4 509.6,55.7 510.5,56.1C511.4,56.5 512.3,57.0 513.2,57.4C514.1,57.9 515.0,58.3 515.9,58.8C516.8,59.2 517.7,59.7 518.6,60.1C519.5,60.6 520.3,61.0 521.2,61.5C522.1,61.9 523.0,62.3 523.9,62.8C524.8,63.3 525.7,63.7 526.5,64.3C527.4,64.8 528.1,65.4 528.9,66.0C529.7,66.6 530.5,67.3 531.3,67.9C532.1,68.5 532.8,69.2 533.6,69.8C534.4,70.4 535.2,71.1 535.9,71.7C536.7,72.3 537.5,72.9 538.2,73.6C539.0,74.3 539.7,75.0 540.3,75.7C541.0,76.5 541.5,77.3 542.1,78.1C542.7,79.0 543.2,79.8 543.8,80.6C544.3,81.5 544.9,82.3 545.4,83.1C546.0,84.0 546.5,84.8 547.1,85.6C547.6,86.5 548.2,87.3 548.7,88.1C549.3,89.0 549.8,89.8 550.3,90.7C550.8,91.6 551.2,92.5 551.7,93.4C552.1,94.3 552.6,95.2 553.0,96.0C553.5,96.9 553.9,97.8 554.3,98.7C554.8,99.6 555.2,100.5 555.7,101.4C556.1,102.3 556.6,103.2 557.0,104.1C557.4,105.0 557.9,105.9 558.3,106.8C558.7,107.7 559.1,108.6 559.5,109.6C559.9,110.5 560.3,111.4 560.7,112.3C561.1,113.2 561.5,114.2 561.9,115.1C562.3,116.0 562.7,116.9 563.1,117.8C563.5,118.8 563.9,119.7 564.3,120.6C564.6,121.5 565.0,122.4 565.4,123.4C565.8,124.3 566.2,125.2 566.6,126.1C567.0,127.0 567.4,128.0 567.8,128.9C568.1,129.8 568.5,130.7 568.9,131.7C569.2,132.6 569.5,133.6 569.9,134.5C570.2,135.5 570.5,136.4 570.8,137.4C571.1,138.3 571.5,139.3 571.8,140.2C572.1,141.2 572.4,142.1 572.7,143.0C573.0,144.0 573.3,144.9 573.7,145.9C574.0,146.8 574.3,147.8 574.6,148.7C574.9,149.7 575.2,150.6 575.6,151.6C575.9,152.5 576.2,153.5 576.5,154.4C576.8,155.4 577.1,156.4 577.4,157.3C577.6,158.3 577.9,159.2 578.2,160.2C578.5,161.2 578.8,162.1 579.1,163.1C579.4,164.0 579.7,165.0 579.9,165.9C580.2,166.9 580.5,167.9 580.8,168.8C581.1,169.8 581.4,170.7 581.7,171.7C582.0,172.7 582.2,173.6 582.5,174.6C582.8,175.5 583.1,176.5 583.4,177.4C583.7,178.4 584.0,179.4 584.3,180.3C584.5,181.3 584.8,182.2 585.1,183.2C585.4,184.2 585.7,185.1 586.0,186.1C586.3,187.0 586.6,188.0 586.8,188.9C587.1,189.9 587.4,190.9 587.7,191.8C588.0,192.8 588.3,193.7 588.6,194.7C588.9,195.7 589.1,196.6 589.4,197.6C589.7,198.5 590.0,199.5 590.3,200.4C590.6,201.4 590.9,202.4 591.2,203.3C591.4,204.3 591.7,205.2 592.0,206.2C592.3,207.2 592.6,208.1 592.9,209.1C593.2,210.0 593.5,211.0 593.7,211.9C594.0,212.9 594.3,213.9 594.6,214.8C594.9,215.8 595.2,216.7 595.5,217.7C595.8,218.7 596.0,219.6 596.3,220.6C596.6,221.5 596.9,222.5 597.2,223.4C597.5,224.4 597.8,225.4 598.0,226.3C598.3,227.3 598.6,228.2 598.8,229.2C599.1,230.2 599.3,231.2 599.5,232.1C599.8,233.1 600.0,234.1 600.2,235.1C600.4,236.0 600.6,237.0 600.8,238.0C601.1,239.0 601.3,239.9 601.5,240.9C601.7,241.9 601.9,242.9 602.1,243.9C602.4,244.8 602.6,245.8 602.8,246.8C603.0,247.8 603.2,248.7 603.5,249.7C603.8,250.7 604.1,251.6 604.4,252.5C604.7,253.5 605.1,254.4 605.4,255.4C605.8,256.3 606.1,257.3 606.5,258.2C606.8,259.1 607.1,260.1 607.5,261.0C607.8,262.0 608.1,262.9 608.5,263.8C608.8,264.8 609.2,265.7 609.5,266.7C609.8,267.6 610.2,268.6 610.5,269.5C610.9,270.4 611.2,271.4 611.5,272.3C611.9,273.3 612.2,274.2 612.6,275.1C612.9,276.1 613.3,277.0 613.6,277.9C614.0,278.9 614.4,279.8 614.7,280.7C615.1,281.7 615.5,282.6 615.8,283.5C616.2,284.5 616.6,285.4 616.9,286.3C617.3,287.3 617.7,288.2 618.0,289.1C618.4,290.0 618.8,291.0 619.1,291.9C619.5,292.8 619.8,293.8 620.2,294.7C620.6,295.6 620.9,296.6 621.3,297.5C621.7,298.4 622.1,299.3 622.5,300.3C622.9,301.2 623.3,302.1 623.7,303.0C624.1,303.9 624.5,304.9 624.8,305.8C625.2,306.7 625.6,307.6 626.0,308.5C626.4,309.5 626.8,310.4 627.2,311.3C627.6,312.2 628.0,313.1 628.4,314.0C628.9,314.9 629.3,315.8 629.8,316.7C630.3,317.6 630.8,318.5 631.3,319.3C631.8,320.2 632.3,321.1 632.8,321.9C633.3,322.8 633.8,323.7 634.2,324.5C634.7,325.4 635.2,326.3 635.7,327.1C636.2,328.0 636.7,328.9 637.2,329.7C637.7,330.6 638.3,331.5 638.8,332.3C639.4,333.1 640.0,333.9 640.6,334.7C641.2,335.5 641.8,336.3 642.5,337.0C643.1,337.8 643.7,338.6 644.4,339.4C645.0,340.1 645.6,340.9 646.3,341.7C646.9,342.5 647.5,343.2 648.2,344.0C648.8,344.8 649.4,345.6 650.1,346.3C650.7,347.1 651.4,347.8 652.0,348.6C652.7,349.3 653.4,350.1 654.0,350.8C654.7,351.6 655.4,352.3 656.0,353.1C656.7,353.8 657.4,354.6 658.0,355.3C658.7,356.1 659.4,356.8 660.0,357.5C660.7,358.3 661.4,359.0 662.0,359.8C662.7,360.5 663.4,361.3 664.0,362.0C664.7,362.8 665.3,363.5 666.0,364.3C666.7,365.0 667.3,365.8 668.0,366.5C668.6,367.3 669.3,368.0 669.9,368.8C670.6,369.6 671.2,370.4 671.8,371.2C672.4,371.9 673.0,372.7 673.7,373.5C674.3,374.3 674.9,375.1 675.5,375.9C676.1,376.7 676.7,377.5 677.3,378.3C677.9,379.1 678.4,380.0 679.0,380.8C679.5,381.6 680.0,382.5 680.6,383.3C681.1,384.2 681.6,385.0 682.2,385.9C682.7,386.7 683.3,387.6 683.8,388.4C684.3,389.2 684.9,390.1 685.4,390.9C685.9,391.8 686.4,392.6 687.0,393.5C687.5,394.3 688.0,395.2 688.5,396.0C689.1,396.9 689.6,397.7 690.1,398.6C690.7,399.4 691.2,400.3 691.8,401.1C692.3,402.0 692.9,402.8 693.4,403.6C694.0,404.4 694.6,405.3 695.1,406.1C695.7,406.9 696.2,407.7 696.8,408.6C697.4,409.4 697.9,410.2 698.5,411.0C699.1,411.9 699.6,412.7 700.2,413.5C700.8,414.4 701.3,415.2 701.9,416.0C702.5,416.8 703.0,417.7 703.6,418.5C704.1,419.3 704.7,420.1 705.3,421.0C705.8,421.8 706.4,422.6 706.9,423.5C707.5,424.3 708.0,425.1 708.6,426.0C709.1,426.8 709.7,427.6 710.3,428.5C710.8,429.3 711.4,430.1 711.9,431.0C712.5,431.8 713.0,432.6 713.6,433.5C714.2,434.3 714.7,435.1 715.3,435.9C715.9,436.8 716.4,437.6 717.1,438.3C717.7,439.1 718.3,439.9 718.9,440.7C719.6,441.4 720.2,442.2 720.9,443.0C721.5,443.8 722.2,444.5 722.8,445.3C723.4,446.1 724.1,446.8 724.7,447.6C725.4,448.4 726.0,449.1 726.6,449.9C727.3,450.7 727.9,451.4 728.6,452.1C729.3,452.9 730.0,453.6 730.8,454.2C731.5,454.9 732.2,455.6 733.0,456.3C733.7,456.9 734.5,457.6 735.2,458.3C735.9,459.0 736.7,459.6 737.4,460.3C738.2,461.0 738.9,461.6 739.7,462.3C740.4,462.9 741.2,463.6 742.0,464.2C742.8,464.8 743.6,465.4 744.4,466.0C745.2,466.5 746.0,467.1 746.9,467.7C747.7,468.2 748.5,468.8 749.3,469.4C750.2,470.0 751.0,470.5 751.8,471.1C752.6,471.7 753.5,472.2 754.3,472.8C755.1,473.3 756.0,473.8 756.9,474.3C757.7,474.8 758.6,475.4 759.4,475.9C760.3,476.4 761.1,476.9 762.0,477.4C762.9,477.9 763.7,478.5 764.6,478.9C765.5,479.4 766.3,479.9 767.2,480.3C768.1,480.7 769.1,481.1 770.0,481.5C770.9,481.9 771.9,482.2 772.8,482.6C773.7,483.0 774.6,483.3 775.6,483.7C776.5,484.1 777.4,484.4 778.4,484.8C779.3,485.2 780.2,485.5 781.2,485.8C782.1,486.2 783.1,486.5 784.0,486.8C785.0,487.2 785.9,487.5 786.8,487.8C787.8,488.2 788.7,488.5 789.7,488.8C790.6,489.2 791.6,489.5 792.5,489.8C793.5,490.1 794.4,490.5 795.4,490.8C796.3,491.1 797.2,491.4 798.2,491.8C799.1,492.1 800.1,492.5 801.0,492.8C801.9,493.2 802.8,493.6 803.8,494.0C804.7,494.4 805.6,494.8 806.5,495.2C807.5,495.5 808.4,495.9 809.3,496.3C810.2,496.7 811.1,497.1 812.1,497.5C813.0,497.9 813.9,498.3 814.8,498.8C815.7,499.2 816.6,499.6 817.5,500.1C818.4,500.5 819.3,501.0 820.2,501.4C821.1,501.9 821.9,502.3 822.8,502.8C823.7,503.2 824.6,503.7 825.5,504.1C826.4,504.5 827.3,505.0 828.2,505.4C829.2,505.8 830.1,506.2 831.0,506.6C831.9,507.0 832.8,507.5 833.7,507.9C834.6,508.3 835.5,508.7 836.4,509.1C837.4,509.5 838.3,509.9 839.2,510.3C840.1,510.7 841.0,511.2 841.9,511.6C842.8,512.0 843.7,512.4 844.7,512.8C845.6,513.2 846.5,513.6 847.4,514.0C848.3,514.4 849.2,514.9 850.1,515.3C851.0,515.7 851.9,516.1 852.8,516.6C853.7,517.0 854.6,517.5 855.5,518.0C856.3,518.5 857.2,519.0 858.0,519.5C858.9,520.0 859.8,520.6 860.6,521.1C861.5,521.6 862.3,522.1 863.2,522.6C864.1,523.1 864.9,523.6 865.8,524.1C866.6,524.7 867.5,525.2 868.4,525.7C869.2,526.2 870.1,526.7 870.9,527.2C871.8,527.8 872.6,528.3 873.5,528.8C874.4,529.3 875.2,529.8 876.1,530.3C876.9,530.9 877.8,531.4 878.6,531.9C879.5,532.4 880.3,532.9 881.2,533.5C882.0,534.0 882.9,534.6 883.7,535.1C884.5,535.6 885.4,536.2 886.2,536.7C887.1,537.3 887.9,537.8 888.7,538.4C889.6,538.9 890.4,539.4 891.3,540.0C892.1,540.5 892.9,541.1 893.8,541.7C894.6,542.2 895.4,542.8 896.2,543.4C897.1,543.9 897.9,544.5 898.7,545.1C899.5,545.7 900.3,546.2 901.1,546.8C902.0,547.4 902.8,548.0 903.6,548.5C904.4,549.1 905.2,549.7 906.1,550.3C906.9,550.9 907.7,551.4 908.5,552.0C909.3,552.6 910.1,553.2 910.9,553.8C911.7,554.4 912.5,555.0 913.3,555.6C914.1,556.2 914.9,556.8 915.7,557.4C916.5,558.0 917.3,558.7 918.1,559.2C918.9,559.8 919.7,560.4 920.5,561.0C921.3,561.6 922.2,562.1 923.0,562.7C923.8,563.2 924.7,563.8 925.5,564.3C926.3,564.9 927.2,565.4 928.0,566.0" fill="none" stroke="#1c8ad3" stroke-width="2.2" stroke-linejoin="round" stroke-linecap="round"/>
<path d="M303.0,13.8C304.0,13.8 305.0,13.8 306.0,13.8C307.0,13.7 308.0,13.7 309.0,13.7C310.0,13.7 311.0,13.7 312.0,13.7C313.0,13.6 314.0,13.6 315.0,13.6C316.0,13.6 317.0,13.6 318.0,13.7C319.0,13.7 320.0,13.7 321.0,13.7C322.0,13.7 323.0,13.7 324.0,13.8C325.0,13.8 326.0,13.8 327.0,13.8C328.0,13.8 329.0,13.8 330.0,13.9C331.0,14.0 332.0,14.1 333.0,14.2C334.0,14.3 335.0,14.5 335.9,14.7C336.9,14.9 337.9,15.0 338.9,15.3C339.8,15.5 340.8,15.8 341.8,16.1C342.7,16.4 343.7,16.7 344.6,17.1C345.5,17.4 346.4,17.9 347.3,18.3C348.2,18.8 349.1,19.2 350.0,19.7C350.8,20.2 351.6,20.8 352.5,21.3C353.3,21.9 354.1,22.5 354.9,23.1C355.6,23.7 356.4,24.4 357.2,25.0C358.0,25.7 358.7,26.4 359.4,27.1C360.1,27.8 360.8,28.5 361.5,29.2C362.2,29.9 362.9,30.6 363.5,31.4C364.1,32.2 364.5,33.1 365.0,34.0C365.4,34.9 365.8,35.8 366.3,36.7C366.7,37.6 367.2,38.5 367.6,39.4C368.1,40.3 368.6,41.1 369.0,42.0C369.5,42.9 370.0,43.8 370.5,44.6C371.0,45.5 371.5,46.4 372.0,47.2C372.5,48.1 373.0,49.0 373.4,49.9C373.8,50.8 374.2,51.7 374.6,52.6C374.9,53.6 375.2,54.5 375.6,55.5C375.9,56.4 376.3,57.3 376.6,58.3C376.9,59.2 377.3,60.2 377.6,61.1C377.9,62.0 378.3,63.0 378.6,63.9C378.9,64.9 379.2,65.8 379.5,66.8C379.8,67.8 380.1,68.7 380.4,69.7C380.7,70.6 381.0,71.6 381.3,72.5C381.6,73.5 381.9,74.4 382.2,75.4C382.5,76.4 382.8,77.3 383.0,78.3C383.3,79.2 383.5,80.2 383.8,81.2C384.0,82.1 384.3,83.1 384.5,84.1C384.8,85.0 385.0,86.0 385.2,87.0C385.5,88.0 385.7,88.9 386.0,89.9C386.2,90.9 386.4,91.8 386.7,92.8C386.9,93.8 387.1,94.8 387.3,95.8C387.5,96.7 387.7,97.7 387.9,98.7C388.1,99.7 388.3,100.7 388.5,101.6C388.7,102.6 388.9,103.6 389.1,104.6C389.2,105.6 389.4,106.5 389.6,107.5C389.8,108.5 390.0,109.5 390.2,110.5C390.4,111.4 390.6,112.4 390.8,113.4C391.0,114.4 391.1,115.4 391.3,116.4C391.5,117.3 391.7,118.3 391.9,119.3C392.1,120.3 392.2,121.3 392.4,122.3C392.6,123.2 392.8,124.2 393.0,125.2C393.2,126.2 393.4,127.2 393.5,128.2C393.7,129.1 393.9,130.1 394.0,131.1C394.2,132.1 394.4,133.1 394.6,134.1C394.7,135.1 394.9,136.0 395.1,137.0C395.2,138.0 395.4,139.0 395.6,140.0C395.7,141.0 395.9,142.0 396.1,142.9C396.2,143.9 396.4,144.9 396.6,145.9C396.8,146.9 396.9,147.9 397.1,148.9C397.2,149.9 397.3,150.8 397.5,151.8C397.6,152.8 397.8,153.8 397.9,154.8C398.0,155.8 398.2,156.8 398.3,157.8C398.4,158.8 398.6,159.8 398.7,160.8C398.9,161.7 399.0,162.7 399.1,163.7C399.3,164.7 399.4,165.7 399.5,166.7C399.7,167.7 399.8,168.7 399.9,169.7C400.1,170.7 400.2,171.7 400.3,172.6C400.4,173.6 400.6,174.6 400.7,175.6C400.8,176.6 401.0,177.6 401.1,178.6C401.2,179.6 401.4,180.6 401.5,181.6C401.6,182.6 401.7,183.6 401.9,184.5C402.0,185.5 402.1,186.5 402.2,187.5C402.3,188.5 402.4,189.5 402.5,190.5C402.7,191.5 402.8,192.5 402.9,193.5C403.0,194.5 403.1,195.5 403.2,196.5C403.4,197.5 403.5,198.5 403.6,199.4C403.7,200.4 403.8,201.4 403.9,202.4C404.1,203.4 404.2,204.4 404.3,205.4C404.4,206.4 404.6,207.4 404.7,208.4C404.8,209.4 404.9,210.4 405.1,211.4C405.2,212.4 405.3,213.3 405.4,214.3C405.6,215.3 405.7,216.3 405.8,217.3C405.9,218.3 406.1,219.3 406.2,220.3C406.3,221.3 406.4,222.3 406.4,223.3C406.5,224.3 406.6,225.3 406.7,226.3C406.8,227.3 406.9,228.3 407.0,229.3C407.1,230.3 407.1,231.2 407.2,232.2C407.3,233.2 407.4,234.2 407.5,235.2C407.6,236.2 407.7,237.2 407.7,238.2C407.8,239.2 407.9,240.2 408.0,241.2C408.1,242.2 408.2,243.2 408.3,244.2C408.3,245.2 408.4,246.2 408.5,247.2C408.6,248.2 408.7,249.2 408.8,250.2C408.9,251.2 408.9,252.2 409.0,253.2C409.1,254.2 409.2,255.2 409.3,256.2C409.4,257.2 409.5,258.2 409.5,259.1C409.6,260.1 409.7,261.1 409.8,262.1C409.9,263.1 410.0,264.1 410.1,265.1C410.2,266.1 410.3,267.1 410.3,268.1C410.4,269.1 410.5,270.1 410.6,271.1C410.7,272.1 410.8,273.1 410.9,274.1C411.0,275.1 411.1,276.1 411.2,277.1C411.2,278.1 411.3,279.1 411.4,280.1C411.5,281.1 411.6,282.1 411.7,283.1C411.8,284.0 411.9,285.0 412.0,286.0C412.1,287.0 412.1,288.0 412.2,289.0C412.3,290.0 412.4,291.0 412.5,292.0C412.6,293.0 412.7,294.0 412.7,295.0C412.8,296.0 412.9,297.0 413.0,298.0C413.1,299.0 413.2,300.0 413.3,301.0C413.3,302.0 413.4,303.0 413.5,304.0C413.6,305.0 413.7,306.0 413.8,307.0C413.8,308.0 413.9,309.0 414.0,310.0C414.1,311.0 414.1,312.0 414.2,312.9C414.3,313.9 414.4,314.9 414.4,315.9C414.5,316.9 414.6,317.9 414.6,318.9C414.7,319.9 414.8,320.9 414.9,321.9C414.9,322.9 415.0,323.9 415.1,324.9C415.1,325.9 415.2,326.9 415.3,327.9C415.4,328.9 415.4,329.9 415.5,330.9C415.6,331.9 415.7,332.9 415.7,333.9C415.8,334.9 415.9,335.9 416.0,336.9C416.1,337.9 416.1,338.9 416.2,339.9C416.3,340.9 416.4,341.9 416.4,342.9C416.5,343.9 416.6,344.9 416.7,345.9C416.7,346.9 416.8,347.9 416.9,348.9C417.0,349.8 417.0,350.8 417.1,351.8C417.2,352.8 417.3,353.8 417.3,354.8C417.4,355.8 417.5,356.8 417.6,357.8C417.6,358.8 417.7,359.8 417.8,360.8C417.8,361.8 417.9,362.8 418.0,363.8C418.1,364.8 418.1,365.8 418.2,366.8C418.3,367.8 418.4,368.8 418.4,369.8C418.5,370.8 418.6,371.8 418.6,372.8C418.7,373.8 418.8,374.8 418.9,375.8C418.9,376.8 419.0,377.8 419.1,378.8C419.2,379.8 419.3,380.8 419.3,381.8C419.4,382.8 419.5,383.8 419.6,384.8C419.6,385.8 419.7,386.8 419.8,387.7C419.9,388.7 419.9,389.7 420.0,390.7C420.1,391.7 420.2,392.7 420.2,393.7C420.3,394.7 420.4,395.7 420.4,396.7C420.5,397.7 420.5,398.7 420.5,399.7C420.6,400.7 420.6,401.7 420.7,402.7C420.7,403.7 420.7,404.7 420.8,405.7C420.8,406.7 420.8,407.7 420.9,408.7C420.9,409.7 421.0,410.7 421.0,411.7C421.0,412.7 421.1,413.7 421.1,414.7C421.1,415.7 421.2,416.7 421.2,417.7C421.3,418.7 421.3,419.7 421.4,420.7C421.4,421.7 421.5,422.7 421.5,423.7C421.6,424.7 421.6,425.7 421.7,426.7C421.8,427.7 421.8,428.7 421.9,429.7C421.9,430.7 422.0,431.7 422.1,432.7C422.1,433.7 422.2,434.7 422.2,435.7C422.3,436.7 422.4,437.7 422.4,438.7C422.5,439.7 422.5,440.7 422.6,441.7C422.7,442.7 422.7,443.7 422.8,444.7C422.9,445.7 422.9,446.7 423.0,447.7C423.0,448.7 423.1,449.7 423.2,450.7C423.2,451.7 423.3,452.7 423.3,453.7C423.4,454.7 423.5,455.6 423.5,456.6C423.6,457.6 423.7,458.6 423.7,459.6C423.8,460.6 423.8,461.6 423.9,462.6C424.0,463.6 424.0,464.6 424.1,465.6C424.1,466.6 424.2,467.6 424.3,468.6C424.3,469.6 424.4,470.6 424.5,471.6C424.5,472.6 424.6,473.6 424.7,474.6C424.7,475.6 424.8,476.6 424.9,477.6C425.0,478.6 425.0,479.6 425.1,480.6C425.2,481.6 425.2,482.6 425.3,483.6C425.4,484.6 425.5,485.6 425.5,486.6C425.6,487.6 425.7,488.6 425.8,489.6C425.8,490.6 425.9,491.6 426.0,492.6C426.0,493.6 426.1,494.6 426.1,495.6C426.2,496.6 426.2,497.6 426.3,498.6C426.3,499.6 426.4,500.6 426.4,501.6C426.5,502.6 426.5,503.6 426.6,504.6C426.6,505.6 426.7,506.6 426.7,507.5C426.8,508.5 426.8,509.5 426.9,510.5C426.9,511.5 427.0,512.5 427.0,513.5C427.1,514.5 427.1,515.5 427.2,516.5C427.3,517.5 427.4,518.5 427.4,519.5C427.5,520.5 427.6,521.5 427.7,522.5C427.7,523.5 427.8,524.5 427.9,525.5C428.0,526.5 428.1,527.5 428.1,528.5C428.2,529.5 428.3,530.5 428.4,531.5C428.4,532.5 428.5,533.5 428.6,534.5C428.7,535.5 428.7,536.5 428.8,537.5C428.9,538.5 428.9,539.5 429.0,540.5C429.0,541.5 429.1,542.5 429.1,543.5C429.2,544.5 429.2,545.5 429.3,546.5C429.3,547.5 429.4,548.5 429.6,549.4C429.8,550.4 430.2,551.3 430.5,552.2C430.9,553.2 431.3,554.1 431.8,555.0C432.3,555.8 432.8,556.7 433.4,557.4C434.1,558.1 434.9,558.7 435.7,559.2C436.5,559.8 437.4,560.2 438.3,560.7C439.2,561.2 440.1,561.6 441.0,562.1C441.9,562.5 442.8,563.0 443.7,563.4C444.6,563.8 445.5,564.2 446.4,564.6C447.4,564.9 448.3,565.2 449.3,565.5C450.2,565.8 451.2,566.1 452.1,566.4C453.1,566.7 454.0,567.0 455.0,567.3C456.0,567.6 456.9,567.9 457.9,568.2C458.8,568.5 459.8,568.8 460.8,569.0C461.7,569.3 462.7,569.6 463.6,569.9C464.6,570.2 465.6,570.4 466.5,570.7C467.5,570.9 468.5,571.2 469.4,571.4C470.4,571.7 471.4,571.9 472.3,572.1C473.3,572.4 474.3,572.6 475.3,572.9C476.2,573.1 477.2,573.4 478.2,573.6C479.1,573.8 480.1,574.0 481.1,574.2C482.1,574.4 483.1,574.6 484.0,574.8C485.0,575.1 486.0,575.3 487.0,575.5C487.9,575.7 488.9,575.9 489.9,576.1C490.9,576.3 491.9,576.5 492.9,576.6C493.8,576.8 494.8,576.9 495.8,577.0C496.8,577.2 497.8,577.3 498.8,577.4C499.8,577.6 500.8,577.7 501.8,577.8C502.8,578.0 503.7,578.2 504.7,578.4C505.7,578.6 506.7,578.9 507.6,579.1C508.6,579.3 509.6,579.5 510.6,579.6C511.6,579.8 512.6,579.9 513.6,580.0C514.5,580.2 515.5,580.3 516.5,580.4C517.5,580.5 518.5,580.6 519.5,580.7C520.5,580.8 521.5,580.9 522.5,581.0C523.5,581.1 524.5,581.2 525.5,581.3C526.5,581.4 527.5,581.4 528.5,581.5C529.5,581.6 530.5,581.7 531.5,581.8C532.5,581.9 533.5,581.9 534.5,582.0C535.5,582.1 536.5,582.2 537.5,582.3C538.4,582.4 539.4,582.4 540.4,582.5C541.4,582.5 542.4,582.5 543.4,582.5C544.4,582.5 545.4,582.5 546.4,582.5C547.4,582.5 548.4,582.6 549.4,582.6C550.4,582.6 551.4,582.6 552.4,582.6C553.4,582.6 554.4,582.6 555.4,582.6C556.4,582.6 557.4,582.6 558.4,582.6C559.4,582.6 560.4,582.6 561.4,582.6C562.4,582.6 563.4,582.6 564.4,582.6C565.4,582.7 566.4,582.7 567.4,582.7C568.4,582.7 569.4,582.7 570.4,582.7C571.4,582.7 572.4,582.7 573.4,582.7C574.4,582.7 575.4,582.7 576.4,582.7C577.4,582.7 578.4,582.7 579.4,582.7C580.4,582.7 581.4,582.7 582.4,582.8C583.4,582.8 584.4,582.8 585.4,582.8C586.4,582.8 587.5,582.7 588.4,582.8C589.4,582.9 590.4,583.2 591.3,583.4C592.3,583.6 593.2,584.0 594.2,584.1C595.2,584.2 596.2,584.2 597.2,584.2C598.2,584.2 599.2,584.2 600.2,584.2C601.2,584.2 602.2,584.2 603.2,584.2C604.2,584.2 605.2,584.2 606.2,584.2C607.2,584.2 608.2,584.2 609.2,584.2C610.2,584.2 611.2,584.2 612.2,584.2C613.2,584.2 614.2,584.2 615.2,584.2C616.2,584.2 617.2,584.2 618.2,584.2C619.2,584.2 620.2,584.2 621.2,584.2C622.2,584.2 623.2,584.2 624.2,584.2C625.2,584.2 626.2,584.2 627.2,584.2C628.2,584.2 629.2,584.2 630.2,584.2C631.2,584.2 632.2,584.2 633.2,584.2C634.2,584.2 635.2,584.2 636.2,584.2C637.2,584.2 638.2,584.2 639.2,584.2C640.2,584.2 641.2,584.2 642.2,584.2C643.2,584.2 644.2,584.2 645.2,584.2C646.2,584.2 647.2,584.2 648.2,584.2C649.2,584.2 650.2,584.2 651.2,584.2C652.2,584.2 653.2,584.2 654.2,584.2C655.2,584.2 656.2,584.2 657.2,584.2C658.2,584.2 659.2,584.2 660.2,584.2C661.2,584.2 662.2,584.2 663.2,584.2C664.2,584.2 665.2,584.2 666.2,584.2C667.2,584.2 668.2,584.2 669.2,584.2C670.2,584.2 671.2,584.2 672.2,584.2C673.2,584.2 674.2,584.2 675.2,584.2C676.2,584.2 677.2,584.2 678.1,584.4C679.1,584.5 680.0,584.9 681.0,585.1C682.0,585.3 682.9,585.4 683.9,585.5C684.9,585.6 685.9,585.5 686.9,585.5C687.9,585.5 688.9,585.6 689.9,585.6C690.9,585.6 691.9,585.6 692.9,585.6C693.9,585.6 694.9,585.6 695.9,585.6C696.9,585.6 697.9,585.6 698.9,585.6C699.9,585.6 700.9,585.6 701.9,585.6C702.9,585.7 703.9,585.7 704.9,585.7C705.9,585.7 706.9,585.7 707.9,585.7C708.9,585.7 709.9,585.7 710.9,585.7C711.9,585.7 712.9,585.7 713.9,585.7C714.9,585.7 715.9,585.7 716.9,585.8C717.9,585.8 718.9,585.7 719.9,585.8C720.9,585.8 721.9,585.8 722.9,585.9C723.8,586.1 724.7,586.5 725.6,586.6C726.6,586.8 727.6,586.8 728.6,586.9C729.6,586.9 730.6,586.9 731.6,586.9C732.6,586.9 733.6,586.9 734.6,587.0C735.6,587.0 736.6,587.0 737.6,587.0C738.6,587.0 739.6,587.0 740.6,587.1C741.6,587.1 742.6,587.1 743.6,587.1C744.6,587.1 745.6,587.1 746.6,587.2C747.6,587.2 748.6,587.2 749.6,587.2C750.6,587.2 751.6,587.3 752.6,587.3C753.6,587.3 754.6,587.3 755.6,587.3C756.6,587.3 757.6,587.4 758.6,587.4C759.6,587.4 760.6,587.4 761.6,587.4C762.6,587.4 763.6,587.4 764.5,587.5C765.5,587.7 766.3,588.1 767.2,588.3C768.1,588.5 769.1,588.7 770.0,588.8C771.0,588.9 772.0,588.9 773.0,588.9C774.0,588.9 775.0,588.9 776.0,588.9C777.0,588.9 778.0,589.0 779.0,589.0C780.0,589.0 781.0,589.0 782.0,589.0C783.0,589.0 784.0,589.1 785.0,589.1C786.0,589.1 787.0,589.1 788.0,589.1C789.0,589.1 790.0,589.1 791.0,589.2C792.0,589.2 793.0,589.2 794.0,589.2C795.0,589.2 796.0,589.2 797.0,589.3C798.0,589.3 799.0,589.3 800.0,589.3C801.0,589.3 802.0,589.3 803.0,589.3C804.0,589.3 805.0,589.4 806.0,589.4C807.0,589.4 808.0,589.4 809.0,589.4C810.0,589.4 811.0,589.4 812.0,589.4C813.0,589.4 814.0,589.5 815.0,589.5C816.0,589.5 817.0,589.5 818.0,589.5C819.0,589.5 820.0,589.5 821.0,589.5C822.0,589.5 823.0,589.6 824.0,589.6C825.0,589.6 826.0,589.6 827.0,589.6C828.0,589.6 829.0,589.6 830.0,589.6C831.0,589.6 832.0,589.7 833.0,589.7C834.0,589.7 835.0,589.7 836.0,589.7C837.0,589.7 838.0,589.7 839.0,589.7C840.0,589.7 841.0,589.8 842.0,589.8C843.0,589.8 844.0,589.8 845.0,589.8" fill="none" stroke="#0c7670" stroke-width="2.4" stroke-linejoin="round" stroke-linecap="round"/>
<path d="M56.8,769.2C57.2,768.7 57.4,768.1 58.0,767.8C58.5,767.5 59.2,767.6 59.9,767.6C60.5,767.6 61.2,767.7 61.9,767.8C62.5,767.9 63.2,768.0 63.8,768.2C64.5,768.4 65.0,768.7 65.7,768.9C66.3,769.1 67.0,769.3 67.6,769.3C68.3,769.4 68.9,769.4 69.6,769.4C70.3,769.4 70.9,769.4 71.6,769.5C72.3,769.5 72.9,769.6 73.6,769.7C74.2,769.8 74.9,769.9 75.6,770.1C76.2,770.2 76.9,770.3 77.5,770.4C78.2,770.6 78.8,770.7 79.5,770.9C80.1,771.1 80.7,771.3 81.3,771.5C81.9,771.8 82.5,772.2 83.0,772.6C83.6,772.9 84.2,773.3 84.7,773.6C85.3,774.0 85.8,774.4 86.3,774.9C86.8,775.3 87.4,775.7 87.9,776.1C88.4,776.5 88.9,777.0 89.4,777.4C89.8,777.9 90.3,778.4 90.7,778.9C91.2,779.4 91.6,779.9 92.1,780.4C92.5,780.9 93.0,781.4 93.4,781.9C93.8,782.4 94.3,782.9 94.7,783.4C95.0,784.0 95.4,784.5 95.8,785.1C96.2,785.6 96.6,786.2 96.9,786.7C97.3,787.3 97.7,787.8 98.1,788.4C98.4,788.9 98.8,789.5 99.1,790.1C99.5,790.6 99.9,791.2 100.2,791.7C100.6,792.3 100.9,792.9 101.2,793.5C101.5,794.0 101.8,794.7 102.1,795.3C102.4,795.8 102.7,796.4 103.0,797.0C103.3,797.6 103.6,798.2 103.9,798.8C104.2,799.4 104.4,800.1 104.7,800.7C104.9,801.3 105.1,801.9 105.4,802.6C105.6,803.2 105.9,803.8 106.1,804.4C106.3,805.0 106.6,805.7 106.8,806.3C107.1,806.9 107.3,807.5 107.5,808.1C107.8,808.8 108.0,809.4 108.3,810.0C108.5,810.6 108.7,811.3 108.9,811.9C109.1,812.5 109.3,813.2 109.5,813.8C109.7,814.5 109.8,815.1 110.0,815.7C110.2,816.4 110.4,817.0 110.6,817.7C110.7,818.3 110.9,819.0 111.1,819.6C111.3,820.2 111.5,820.9 111.6,821.5C111.8,822.2 112.0,822.8 112.2,823.5C112.4,824.1 112.5,824.7 112.7,825.4C112.9,826.0 113.1,826.7 113.3,827.3C113.4,827.9 113.6,828.6 113.8,829.2C114.0,829.9 114.1,830.5 114.3,831.2C114.5,831.8 114.6,832.5 114.8,833.1C114.9,833.8 115.1,834.4 115.2,835.1C115.4,835.7 115.5,836.4 115.7,837.0C115.8,837.7 116.0,838.3 116.1,839.0C116.3,839.6 116.4,840.2 116.6,840.9C116.8,841.5 116.9,842.2 117.1,842.8C117.2,843.5 117.4,844.1 117.5,844.8C117.7,845.4 117.8,846.1 118.0,846.7C118.1,847.4 118.3,848.0 118.4,848.7C118.6,849.3 118.7,850.0 118.8,850.7C118.9,851.3 119.1,852.0 119.2,852.6C119.3,853.3 119.4,853.9 119.6,854.6C119.7,855.2 119.8,855.9 120.0,856.5C120.1,857.2 120.2,857.8 120.4,858.5C120.5,859.2 120.6,859.8 120.7,860.5C120.9,861.1 121.0,861.8 121.1,862.4C121.3,863.1 121.4,863.7 121.5,864.4C121.6,865.0 121.8,865.7 121.9,866.4C122.0,867.0 122.1,867.7 122.3,868.3C122.4,869.0 122.5,869.6 122.6,870.3C122.8,870.9 122.9,871.6 123.0,872.2C123.1,872.9 123.3,873.6 123.4,874.2C123.5,874.9 123.6,875.5 123.8,876.2C123.9,876.8 124.0,877.5 124.1,878.1C124.3,878.8 124.4,879.5 124.5,880.1C124.6,880.8 124.7,881.4 124.8,882.1C124.9,882.8 124.9,883.4 125.0,884.1C125.1,884.7 125.2,885.4 125.3,886.1C125.4,886.7 125.5,887.4 125.6,888.0C125.7,888.7 125.8,889.4 125.9,890.0C126.0,890.7 126.1,891.3 126.2,892.0C126.2,892.7 126.3,893.3 126.4,894.0C126.5,894.6 126.6,895.3 126.7,896.0C126.8,896.6 126.9,897.3 127.0,897.9C127.1,898.6 127.1,899.3 127.2,899.9C127.3,900.6 127.4,901.2 127.5,901.9C127.6,902.6 127.7,903.2 127.8,903.9C127.9,904.6 127.9,905.2 128.0,905.9C128.1,906.5 128.2,907.2 128.3,907.9C128.4,908.5 128.5,909.2 128.6,909.8C128.6,910.5 128.7,911.2 128.8,911.8C128.9,912.5 129.0,913.1 129.1,913.8C129.2,914.5 129.3,915.1 129.4,915.8C129.4,916.4 129.5,917.1 129.6,917.8C129.7,918.4 129.8,919.1 129.9,919.8C130.0,920.4 130.1,921.1 130.1,921.7C130.2,922.4 130.3,923.1 130.4,923.7C130.5,924.4 130.6,925.0 130.7,925.7C130.8,926.4 130.9,927.0 130.9,927.7C131.0,928.3 131.1,929.0 131.2,929.7C131.3,930.3 131.4,931.0 131.5,931.6C131.6,932.3 131.7,933.0 131.7,933.6C131.8,934.3 131.9,935.0 132.0,935.6C132.1,936.3 132.2,936.9 132.3,937.6C132.4,938.3 132.4,938.9 132.5,939.6C132.6,940.2 132.7,940.9 132.8,941.6C132.9,942.2 133.0,942.9 133.0,943.5C133.1,944.2 133.2,944.9 133.3,945.5C133.3,946.2 133.4,946.9 133.5,947.5C133.5,948.2 133.6,948.8 133.7,949.5C133.8,950.2 133.8,950.8 133.9,951.5C134.0,952.2 134.0,952.8 134.1,953.5C134.2,954.2 134.3,954.8 134.3,955.5C134.4,956.1 134.5,956.8 134.5,957.5C134.6,958.1 134.7,958.8 134.8,959.5C134.8,960.1 134.9,960.8 135.0,961.4C135.1,962.1 135.1,962.8 135.2,963.4C135.3,964.1 135.4,964.8 135.4,965.4C135.5,966.1 135.6,966.7 135.6,967.4C135.7,968.1 135.8,968.7 135.9,969.4C135.9,970.1 136.0,970.7 136.1,971.4C136.2,972.0 136.2,972.7 136.3,973.4C136.4,974.0 136.5,974.7 136.5,975.4C136.6,976.0 136.7,976.7 136.7,977.3C136.8,978.0 136.9,978.7 137.0,979.3C137.0,980.0 137.1,980.7 137.2,981.3C137.3,982.0 137.3,982.6 137.4,983.3C137.5,984.0 137.6,984.6 137.6,985.3C137.7,986.0 137.8,986.6 137.9,987.3C137.9,987.9 138.0,988.6 138.1,989.3C138.1,989.9 138.2,990.6 138.3,991.3C138.4,991.9 138.4,992.6 138.5,993.3C138.6,993.9 138.7,994.6 138.7,995.2C138.8,995.9 138.8,996.6 138.9,997.2C139.0,997.9 139.0,998.6 139.1,999.2C139.1,999.9 139.2,1000.6 139.3,1001.2C139.3,1001.9 139.4,1002.5 139.5,1003.2C139.5,1003.9 139.6,1004.5 139.6,1005.2C139.7,1005.9 139.8,1006.5 139.8,1007.2C139.9,1007.9 139.9,1008.5 140.0,1009.2C140.1,1009.8 140.1,1010.5 140.2,1011.2C140.3,1011.8 140.3,1012.5 140.4,1013.2C140.4,1013.8 140.5,1014.5 140.6,1015.2C140.6,1015.8 140.7,1016.5 140.7,1017.2C140.8,1017.8 140.9,1018.5 140.9,1019.1C141.0,1019.8 141.1,1020.5 141.1,1021.1C141.2,1021.8 141.3,1022.5 141.3,1023.1C141.4,1023.8 141.5,1024.5 141.5,1025.1C141.6,1025.8 141.6,1026.4 141.7,1027.1C141.8,1027.8 141.8,1028.4 141.9,1029.1C142.0,1029.8 142.0,1030.4 142.1,1031.1C142.2,1031.8 142.2,1032.4 142.3,1033.1C142.3,1033.7 142.4,1034.4 142.5,1035.1C142.5,1035.7 142.6,1036.4 142.7,1037.1C142.7,1037.7 142.8,1038.4 142.9,1039.1C142.9,1039.7 143.0,1040.4 143.0,1041.0C143.1,1041.7 143.2,1042.4 143.2,1043.0C143.3,1043.7 143.3,1044.4 143.4,1045.0C143.5,1045.7 143.5,1046.4 143.6,1047.0C143.6,1047.7 143.7,1048.3 143.8,1049.0C143.8,1049.7 143.9,1050.3 143.9,1051.0C144.0,1051.7 144.1,1052.3 144.1,1053.0C144.2,1053.7 144.3,1054.3 144.3,1055.0C144.4,1055.7 144.4,1056.3 144.5,1057.0C144.6,1057.6 144.6,1058.3 144.7,1059.0C144.7,1059.6 144.8,1060.3 144.8,1061.0C144.9,1061.6 144.9,1062.3 145.0,1063.0C145.0,1063.6 145.1,1064.3 145.1,1065.0C145.2,1065.6 145.2,1066.3 145.3,1067.0C145.3,1067.6 145.4,1068.3 145.4,1068.9C145.5,1069.6 145.5,1070.3 145.6,1070.9C145.6,1071.6 145.7,1072.3 145.7,1072.9C145.8,1073.6 145.8,1074.3 145.9,1074.9C145.9,1075.6 146.0,1076.3 146.0,1076.9C146.0,1077.6 146.1,1078.3 146.1,1078.9C146.2,1079.6 146.2,1080.3 146.3,1080.9C146.3,1081.6 146.4,1082.2 146.4,1082.9C146.5,1083.6 146.5,1084.2 146.6,1084.9C146.6,1085.6 146.7,1086.2 146.7,1086.9C146.8,1087.6 146.8,1088.2 146.9,1088.9C146.9,1089.6 147.0,1090.2 147.0,1090.9C147.1,1091.6 147.2,1092.2 147.2,1092.9C147.2,1093.5 147.3,1094.2 147.3,1094.9C147.4,1095.5 147.4,1096.2 147.4,1096.9C147.4,1097.5 147.4,1098.2 147.5,1098.9C147.5,1099.5 147.5,1100.2 147.5,1100.9C147.5,1101.5 147.6,1102.2 147.6,1102.9C147.6,1103.5 147.6,1104.3 147.6,1104.9C147.7,1105.3 147.7,1105.9 147.7,1105.9C147.8,1105.9 147.9,1104.7 147.9,1104.1C148.0,1103.5 148.0,1102.8 148.1,1102.1C148.2,1101.5 148.2,1100.8 148.3,1100.2C148.4,1099.5 148.5,1098.8 148.6,1098.2C148.7,1097.5 148.8,1096.9 148.8,1096.2C148.9,1095.5 148.9,1094.9 148.9,1094.2C148.9,1093.5 148.9,1092.9 149.0,1092.2C149.0,1091.5 149.0,1090.9 149.0,1090.2C149.0,1089.5 149.0,1088.9 149.0,1088.2C149.0,1087.5 149.0,1086.9 149.1,1086.2C149.1,1085.5 149.1,1084.9 149.1,1084.2C149.1,1083.5 149.1,1082.9 149.1,1082.2C149.1,1081.5 149.1,1080.9 149.1,1080.2C149.2,1079.5 149.2,1078.9 149.2,1078.2C149.2,1077.5 149.2,1076.9 149.2,1076.2C149.2,1075.5 149.2,1074.9 149.2,1074.2C149.2,1073.5 149.2,1072.9 149.3,1072.2C149.3,1071.5 149.3,1070.9 149.3,1070.2C149.3,1069.5 149.3,1068.9 149.3,1068.2C149.3,1067.5 149.3,1066.9 149.3,1066.2C149.3,1065.5 149.3,1064.9 149.3,1064.2C149.4,1063.5 149.4,1062.9 149.4,1062.2C149.4,1061.5 149.4,1060.9 149.4,1060.2C149.4,1059.5 149.4,1058.9 149.4,1058.2C149.4,1057.5 149.4,1056.9 149.4,1056.2C149.4,1055.5 149.4,1054.9 149.4,1054.2C149.5,1053.5 149.5,1052.9 149.5,1052.2C149.5,1051.5 149.5,1050.9 149.5,1050.2C149.5,1049.5 149.5,1048.9 149.5,1048.2C149.5,1047.5 149.5,1046.9 149.5,1046.2C149.5,1045.5 149.5,1044.9 149.5,1044.2C149.6,1043.5 149.6,1042.9 149.6,1042.2C149.6,1041.5 149.5,1040.9 149.6,1040.2C149.6,1039.5 149.7,1038.9 149.9,1038.2C150.0,1037.6 150.3,1037.0 150.5,1036.4C150.8,1035.7 151.0,1035.1 151.1,1034.5C151.3,1033.8 151.2,1033.1 151.2,1032.5C151.2,1031.8 151.2,1031.1 151.2,1030.5C151.2,1029.8 151.2,1029.1 151.2,1028.5C151.2,1027.8 151.2,1027.1 151.2,1026.5C151.2,1025.8 151.2,1025.1 151.2,1024.5C151.2,1023.8 151.2,1023.1 151.2,1022.5C151.2,1021.8 151.2,1021.1 151.2,1020.5C151.2,1019.8 151.2,1019.1 151.2,1018.5C151.2,1017.8 151.3,1017.1 151.3,1016.5C151.3,1015.8 151.3,1015.1 151.3,1014.5C151.3,1013.8 151.3,1013.1 151.3,1012.5C151.3,1011.8 151.3,1011.1 151.3,1010.5C151.3,1009.8 151.3,1009.1 151.3,1008.5C151.3,1007.8 151.3,1007.1 151.3,1006.5C151.3,1005.8 151.3,1005.1 151.3,1004.5C151.3,1003.8 151.3,1003.1 151.3,1002.5C151.3,1001.8 151.3,1001.1 151.3,1000.5C151.3,999.8 151.3,999.1 151.3,998.5C151.3,997.8 151.3,997.1 151.3,996.5C151.3,995.8 151.3,995.1 151.3,994.5C151.3,993.8 151.3,993.1 151.3,992.5C151.3,991.8 151.3,991.1 151.3,990.5C151.3,989.8 151.3,989.1 151.3,988.5C151.3,987.8 151.3,987.1 151.3,986.5C151.3,985.8 151.3,985.1 151.3,984.5C151.3,983.8 151.3,983.1 151.3,982.5C151.3,981.8 151.3,981.1 151.3,980.5C151.3,979.8 151.3,979.1 151.3,978.5C151.3,977.8 151.3,977.1 151.3,976.5C151.3,975.8 151.3,975.1 151.3,974.5C151.3,973.8 151.3,973.1 151.3,972.5C151.3,971.8 151.3,971.1 151.3,970.5C151.3,969.8 151.3,969.1 151.3,968.5C151.3,967.8 151.3,967.1 151.3,966.5C151.3,965.8 151.3,965.1 151.3,964.5C151.3,963.8 151.3,963.1 151.3,962.5C151.4,961.8 151.4,961.1 151.4,960.5C151.4,959.8 151.4,959.1 151.4,958.5C151.4,957.8 151.4,957.1 151.4,956.5C151.4,955.8 151.4,955.1 151.4,954.5C151.4,953.8 151.4,953.1 151.4,952.5C151.4,951.8 151.4,951.1 151.4,950.5C151.4,949.8 151.4,949.1 151.4,948.5C151.4,947.8 151.4,947.1 151.4,946.5C151.4,945.8 151.4,945.1 151.4,944.5C151.4,943.8 151.5,943.1 151.5,942.5C151.5,941.8 151.5,941.1 151.5,940.5C151.5,939.8 151.5,939.1 151.5,938.5C151.5,937.8 151.5,937.1 151.5,936.5C151.5,935.8 151.5,935.1 151.5,934.5C151.6,933.8 151.8,933.2 151.9,932.5C152.1,931.9 152.3,931.2 152.5,930.6C152.6,929.9 152.8,929.3 152.9,928.6C152.9,928.0 152.9,927.3 152.9,926.6C152.9,926.0 152.9,925.3 152.9,924.6C152.9,924.0 152.9,923.3 152.9,922.6C152.9,922.0 152.9,921.3 152.9,920.6C152.9,920.0 152.9,919.3 152.9,918.6C152.9,918.0 152.9,917.3 152.9,916.6C152.9,916.0 152.9,915.3 152.9,914.6C153.0,914.0 153.0,913.3 153.0,912.6C153.0,912.0 153.0,911.3 153.0,910.6C153.0,910.0 153.0,909.3 153.0,908.6C153.0,908.0 153.0,907.3 153.0,906.6C153.0,906.0 153.0,905.3 153.0,904.6C153.0,904.0 153.0,903.3 153.0,902.6C153.0,902.0 153.0,901.3 153.0,900.6C153.0,900.0 153.0,899.3 153.0,898.6C153.0,898.0 153.0,897.3 153.0,896.6C153.0,896.0 153.0,895.3 153.0,894.6C153.0,894.0 153.0,893.3 153.0,892.6C153.0,892.0 153.0,891.3 153.0,890.6C153.0,890.0 153.0,889.3 153.0,888.6C153.0,888.0 153.0,887.3 153.0,886.6C153.0,886.0 153.0,885.3 153.0,884.6C153.0,884.0 153.0,883.3 153.0,882.6C153.0,882.0 153.0,881.3 153.0,880.6C153.0,880.0 153.0,879.3 153.0,878.6C153.0,878.0 153.0,877.3 153.0,876.6C153.0,876.0 153.0,875.3 153.0,874.6C153.0,874.0 153.0,873.3 153.0,872.6C153.0,872.0 153.0,871.3 153.0,870.6C153.0,870.0 153.0,869.3 153.0,868.6C153.0,868.0 153.0,867.3 153.0,866.6C153.0,866.0 153.0,865.3 153.0,864.6C153.0,864.0 153.0,863.3 153.0,862.6C153.0,862.0 153.0,861.3 153.0,860.6C153.0,860.0 153.0,859.3 153.0,858.6C153.0,858.0 153.0,857.3 153.0,856.6C153.0,856.0 153.0,855.3 153.0,854.6C153.0,854.0 153.0,853.3 153.0,852.6C153.0,852.0 153.0,851.3 153.0,850.6C153.0,850.0 153.0,849.3 153.0,848.6C153.0,848.0 153.0,847.3 153.0,846.6C153.0,846.0 153.0,845.3 153.0,844.6C153.0,844.0 153.0,843.3 153.0,842.6C153.0,842.0 153.0,841.3 153.0,840.6C153.0,840.0 153.0,839.3 153.0,838.6C153.0,838.0 153.0,837.3 153.0,836.6C153.0,836.0 153.0,835.3 153.0,834.6C153.0,834.0 153.0,833.3 153.2,832.7C153.3,832.0 153.6,831.4 153.8,830.8C154.0,830.1 154.2,829.5 154.4,828.9C154.6,828.2 154.7,827.6 154.7,826.9C154.8,826.3 154.8,825.6 154.8,824.9C154.8,824.2 154.9,823.6 154.9,822.9C154.9,822.2 154.9,821.6 155.0,820.9C155.0,820.2 155.0,819.6 155.0,818.9C155.0,818.2 155.0,817.6 155.0,816.9C155.0,816.2 155.0,815.6 155.0,814.9C155.0,814.2 155.0,813.6 155.0,812.9C155.0,812.2 155.0,811.6 155.0,810.9C155.0,810.2 155.0,809.6 155.0,808.9C155.0,808.2 155.0,807.6 155.0,806.9C155.0,806.2 155.0,805.6 155.0,804.9C155.0,804.2 155.0,803.6 155.0,802.9C155.0,802.2 155.0,801.6 155.0,800.9C155.0,800.2 155.0,799.6 155.0,798.9C155.0,798.2 155.0,797.6 155.0,796.9C155.0,796.2 155.0,795.6 155.0,794.9C155.0,794.2 155.0,793.6 155.0,792.9C155.0,792.2 155.0,791.6 155.0,790.9C155.0,790.2 155.0,789.6 155.0,788.9C155.0,788.2 155.0,787.6 155.0,786.9C155.0,786.2 155.0,785.6 155.0,784.9C155.0,784.2 155.0,783.6 155.0,782.9C155.0,782.2 155.0,781.6 155.0,780.9C155.0,780.2 155.0,779.6 155.0,778.9C155.0,778.2 155.0,777.6 155.0,776.9C155.0,776.2 154.9,775.6 154.8,774.9C154.8,774.3 154.7,773.6 154.8,773.0C154.9,772.3 155.2,771.6 155.4,771.1C155.6,770.7 155.9,770.0 156.0,770.0C156.1,770.1 156.1,771.2 156.2,771.8C156.2,772.5 156.2,773.2 156.3,773.8C156.4,774.5 156.5,775.1 156.7,775.7C156.9,776.4 157.1,777.2 157.5,777.5C157.9,777.7 158.5,777.5 159.1,777.4C159.6,777.2 160.3,776.8 160.8,776.5C161.4,776.2 162.0,775.8 162.5,775.5C163.1,775.2 163.8,774.9 164.4,774.8C165.0,774.6 165.7,774.5 166.4,774.4C167.0,774.3 167.7,774.4 168.4,774.3C169.0,774.2 169.7,774.2 170.3,774.0C170.9,773.8 171.5,773.4 172.1,773.1C172.7,772.9 173.3,772.6 173.9,772.5C174.6,772.4 175.3,772.5 175.9,772.5C176.6,772.4 177.3,772.4 177.9,772.4C178.6,772.4 179.3,772.4 179.9,772.4C180.6,772.4 181.3,772.4 181.9,772.4C182.6,772.4 183.3,772.4 183.9,772.4C184.6,772.3 185.3,772.3 185.9,772.3C186.6,772.3 187.3,772.3 187.9,772.3C188.6,772.3 189.3,772.3 189.9,772.3C190.6,772.3 191.3,772.3 191.9,772.2C192.6,772.2 193.3,772.3 193.9,772.2C194.6,772.2 195.3,772.1 195.9,771.9C196.5,771.8 197.2,771.5 197.8,771.4C198.5,771.2 199.1,771.2 199.8,771.1C200.5,771.1 201.1,771.1 201.8,771.0C202.5,771.0 203.1,771.0 203.8,770.9C204.5,770.9 205.1,770.9 205.8,770.9C206.4,770.8 207.1,770.8 207.8,770.8C208.4,770.7 209.1,770.7 209.8,770.7C210.4,770.6 211.1,770.6 211.8,770.6C212.4,770.5 213.1,770.5 213.8,770.3C214.4,770.2 215.0,769.9 215.7,769.8C216.3,769.7 217.0,769.5 217.6,769.5C218.3,769.4 219.0,769.5 219.6,769.5C220.3,769.5 221.0,769.5 221.6,769.4C222.3,769.4 223.0,769.4 223.6,769.4C224.3,769.4 225.0,769.4 225.6,769.4C226.3,769.4 227.0,769.4 227.6,769.4C228.3,769.4 229.0,769.4 229.6,769.4C230.3,769.3 231.0,769.3 231.6,769.3C232.3,769.3 233.0,769.3 233.6,769.3C234.3,769.3 235.0,769.3 235.6,769.3C236.3,769.3 237.0,769.3 237.6,769.3C238.3,769.3 239.0,769.2 239.6,769.2C240.3,769.2 241.0,769.2 241.6,769.2C242.3,769.2 243.0,769.2 243.6,769.1C244.3,768.9 244.9,768.7 245.5,768.4C246.1,768.2 246.8,768.0 247.4,767.8C248.0,767.7 248.7,767.6 249.4,767.5C250.0,767.5 250.7,767.5 251.4,767.5C252.0,767.5 252.7,767.5 253.4,767.5C254.0,767.5 254.7,767.5 255.4,767.5C256.0,767.5 256.7,767.5 257.4,767.5C258.0,767.5 258.7,767.5 259.4,767.5C260.0,767.5 260.7,767.5 261.4,767.5C262.0,767.5 262.7,767.5 263.4,767.5C264.0,767.5 264.7,767.5 265.4,767.5C266.0,767.5 266.7,767.5 267.4,767.5C268.0,767.5 268.7,767.5 269.4,767.5C270.0,767.5 270.7,767.5 271.4,767.5C272.0,767.5 272.7,767.5 273.4,767.5C274.0,767.5 274.7,767.5 275.4,767.5C276.0,767.5 276.7,767.5 277.4,767.5C278.0,767.6 278.7,767.6 279.4,767.6C280.0,767.6 280.7,767.6 281.4,767.6C282.0,767.6 282.7,767.6 283.4,767.6C284.0,767.6 284.7,767.6 285.4,767.6C286.0,767.6 286.7,767.6 287.4,767.6C288.0,767.6 288.7,767.6 289.4,767.6C290.0,767.6 290.7,767.6 291.4,767.6C292.0,767.6 292.7,767.6 293.4,767.6C294.0,767.6 294.7,767.6 295.4,767.6C296.0,767.6 296.7,767.6 297.4,767.6C298.0,767.6 298.7,767.6 299.4,767.6C300.0,767.6 300.7,767.6 301.4,767.6C302.0,767.6 302.7,767.6 303.4,767.6C304.0,767.6 304.7,767.6 305.4,767.6C306.0,767.6 306.7,767.6 307.4,767.6C308.0,767.6 308.7,767.6 309.4,767.6C310.0,767.6 310.7,767.6 311.4,767.6C312.0,767.6 312.7,767.6 313.4,767.6C314.0,767.6 314.7,767.6 315.4,767.6C316.0,767.6 316.7,767.6 317.4,767.6C318.0,767.6 318.7,767.6 319.4,767.6C320.0,767.6 320.7,767.6 321.4,767.6C322.0,767.6 322.7,767.6 323.4,767.6C324.0,767.6 324.7,767.6 325.4,767.6C326.0,767.6 326.7,767.6 327.4,767.6C328.0,767.6 328.7,767.6 329.4,767.6C330.0,767.6 330.7,767.6 331.4,767.6C332.0,767.6 332.7,767.6 333.4,767.6C334.0,767.6 334.7,767.6 335.4,767.6C336.0,767.7 336.7,767.7 337.4,767.7C338.0,767.7 338.7,767.7 339.4,767.7C340.0,767.7 340.7,767.7 341.4,767.7C342.0,767.7 342.7,767.7 343.4,767.7C344.0,767.7 344.7,767.7 345.4,767.7C346.0,767.7 346.7,767.7 347.4,767.7C348.0,767.7 348.7,767.7 349.4,767.7C350.0,767.7 350.7,767.7 351.4,767.7C352.0,767.7 352.7,767.7 353.4,767.7C354.0,767.7 354.7,767.7 355.4,767.7C356.0,767.7 356.7,767.7 357.4,767.7C358.0,767.7 358.7,767.7 359.4,767.7C360.0,767.7 360.7,767.7 361.4,767.7C362.0,767.7 362.7,767.7 363.4,767.7C364.0,767.7 364.7,767.7 365.3,767.9C366.0,768.0 366.6,768.3 367.2,768.5C367.9,768.7 368.5,769.0 369.1,769.1C369.8,769.2 370.4,769.2 371.1,769.2C371.8,769.2 372.4,769.2 373.1,769.2C373.8,769.2 374.4,769.2 375.1,769.2C375.8,769.2 376.4,769.2 377.1,769.2C377.8,769.2 378.4,769.2 379.1,769.2C379.8,769.2 380.4,769.2 381.1,769.2C381.8,769.2 382.4,769.2 383.1,769.2C383.8,769.2 384.4,769.2 385.1,769.2C385.8,769.2 386.4,769.2 387.1,769.2C387.8,769.2 388.4,769.2 389.1,769.2C389.8,769.2 390.4,769.2 391.1,769.2C391.8,769.2 392.4,769.2 393.1,769.2C393.8,769.2 394.4,769.2 395.1,769.2C395.8,769.2 396.4,769.2 397.1,769.2C397.8,769.2 398.4,769.2 399.1,769.2C399.8,769.2 400.4,769.2 401.1,769.2C401.8,769.2 402.4,769.2 403.1,769.2C403.8,769.2 404.4,769.2 405.1,769.2C405.8,769.2 406.4,769.2 407.1,769.2C407.8,769.2 408.4,769.2 409.1,769.2C409.8,769.2 410.4,769.2 411.1,769.2C411.8,769.2 412.4,769.2 413.1,769.2C413.8,769.2 414.4,769.2 415.1,769.2C415.8,769.2 416.4,769.2 417.1,769.2C417.8,769.2 418.4,769.2 419.1,769.2C419.8,769.2 420.4,769.2 421.1,769.2C421.8,769.2 422.4,769.2 423.1,769.2C423.8,769.2 424.5,769.2 425.1,769.2C425.8,769.2 426.5,769.2 427.1,769.2C427.8,769.2 428.5,769.2 429.1,769.2C429.8,769.2 430.5,769.2 431.1,769.2C431.8,769.2 432.5,769.2 433.1,769.2C433.8,769.2 434.5,769.2 435.1,769.2C435.8,769.2 436.5,769.2 437.1,769.2C437.8,769.2 438.5,769.2 439.1,769.2C439.8,769.2 440.5,769.2 441.1,769.2C441.8,769.2 442.5,769.2 443.1,769.2C443.8,769.2 444.5,769.2 445.1,769.2C445.8,769.2 446.5,769.2 447.1,769.2C447.8,769.2 448.5,769.2 449.1,769.2C449.8,769.2 450.5,769.2 451.1,769.2C451.8,769.2 452.5,769.2 453.1,769.2C453.8,769.2 454.5,769.2 455.1,769.1C455.7,769.0 456.3,768.6 457.0,768.4C457.6,768.2 458.2,767.8 458.8,767.7C459.5,767.5 460.1,767.5 460.8,767.5C461.5,767.5 462.1,767.5 462.8,767.5C463.5,767.5 464.1,767.5 464.8,767.5C465.5,767.5 466.1,767.5 466.8,767.5C467.5,767.5 468.1,767.5 468.8,767.5C469.5,767.5 470.1,767.5 470.8,767.5C471.5,767.5 472.1,767.6 472.8,767.6C473.5,767.6 474.1,767.6 474.8,767.6C475.5,767.6 476.1,767.6 476.8,767.6C477.5,767.6 478.1,767.6 478.8,767.6C479.5,767.6 480.1,767.6 480.8,767.6C481.5,767.6 482.1,767.6 482.8,767.6C483.5,767.6 484.1,767.6 484.8,767.6C485.5,767.6 486.1,767.6 486.8,767.6C487.5,767.6 488.1,767.6 488.8,767.6C489.5,767.6 490.1,767.6 490.8,767.6C491.5,767.6 492.1,767.6 492.8,767.6C493.5,767.6 494.1,767.6 494.8,767.6C495.5,767.6 496.1,767.6 496.8,767.6C497.5,767.6 498.1,767.7 498.8,767.7C499.5,767.7 500.1,767.7 500.8,767.7C501.5,767.7 502.1,767.7 502.8,767.7C503.5,767.7 504.1,767.7 504.8,767.7C505.5,767.7 506.1,767.7 506.8,767.7C507.5,767.7 508.1,767.7 508.8,767.7C509.5,767.7 510.1,767.7 510.8,767.7C511.5,767.7 512.1,767.7 512.8,767.7C513.5,767.7 514.1,767.7 514.8,767.7C515.5,767.7 516.1,767.7 516.8,767.7C517.5,767.7 518.1,767.7 518.8,767.7C519.5,767.7 520.1,767.7 520.8,767.7C521.5,767.7 522.1,767.7 522.8,767.7C523.5,767.8 524.1,767.8 524.8,767.8C525.5,767.8 526.1,767.8 526.8,767.8C527.5,767.8 528.1,767.8 528.8,767.8C529.5,767.8 530.1,767.8 530.8,767.8C531.5,767.8 532.1,767.8 532.8,767.8C533.5,767.8 534.2,767.8 534.8,767.8C535.2,767.8 535.5,767.8 535.8,767.8" fill="none" stroke="#111" stroke-width="1.8" stroke-linejoin="round" stroke-linecap="round"/>
<path d="M676.3,925.9C676.3,924.9 676.4,923.9 676.4,922.9C676.4,921.9 676.4,920.9 676.5,919.9C676.5,918.9 676.5,917.9 676.6,916.9C676.6,915.9 676.7,914.9 676.8,913.9C676.9,912.9 677.1,911.9 677.2,911.0C677.4,910.0 677.6,909.0 677.8,908.0C678.0,907.0 678.1,906.0 678.3,905.0C678.5,904.1 678.6,903.1 678.8,902.1C679.0,901.1 679.1,900.1 679.3,899.1C679.5,898.1 679.6,897.1 679.8,896.2C679.9,895.2 680.1,894.2 680.3,893.2C680.5,892.2 680.7,891.2 680.9,890.3C681.1,889.3 681.3,888.3 681.5,887.3C681.7,886.3 681.9,885.4 682.1,884.4C682.3,883.4 682.5,882.4 682.7,881.4C682.9,880.4 683.0,879.5 683.2,878.5C683.4,877.5 683.6,876.5 683.8,875.5C684.0,874.6 684.2,873.6 684.4,872.6C684.6,871.6 684.8,870.6 685.0,869.6C685.2,868.7 685.4,867.7 685.6,866.7C685.8,865.7 686.0,864.7 686.2,863.8C686.4,862.8 686.6,861.8 686.9,860.8C687.1,859.9 687.4,858.9 687.6,857.9C687.9,857.0 688.1,856.0 688.4,855.0C688.6,854.1 688.9,853.1 689.1,852.1C689.4,851.2 689.6,850.2 689.9,849.2C690.1,848.3 690.4,847.3 690.7,846.3C690.9,845.4 691.2,844.4 691.4,843.4C691.7,842.4 691.9,841.5 692.1,840.5C692.3,839.5 692.5,838.5 692.7,837.6C692.9,836.6 693.1,835.6 693.4,834.6C693.6,833.6 693.8,832.7 694.1,831.7C694.4,830.8 694.7,829.8 695.0,828.9C695.3,827.9 695.7,827.0 696.0,826.0C696.3,825.1 696.6,824.1 696.9,823.2C697.2,822.2 697.5,821.3 697.8,820.3C698.1,819.3 698.4,818.4 698.6,817.4C698.9,816.5 699.2,815.5 699.4,814.5C699.7,813.6 699.9,812.6 700.2,811.6C700.4,810.6 700.6,809.7 700.9,808.7C701.1,807.7 701.4,806.8 701.7,805.8C702.0,804.9 702.4,803.9 702.7,803.0C703.1,802.1 703.4,801.1 703.7,800.2C704.0,799.2 704.3,798.3 704.6,797.3C704.9,796.4 705.2,795.4 705.5,794.4C705.8,793.5 706.1,792.5 706.5,791.6C706.8,790.7 707.2,789.7 707.6,788.8C708.0,787.9 708.4,787.0 708.9,786.1C709.3,785.2 709.7,784.3 710.1,783.4C710.6,782.5 711.0,781.6 711.4,780.7C711.8,779.8 712.3,778.9 712.7,778.0C713.2,777.1 713.6,776.2 714.1,775.3C714.5,774.4 715.0,773.5 715.4,772.6C715.9,771.7 716.3,770.8 716.8,769.9C717.2,769.0 717.7,768.1 718.1,767.2C718.6,766.4 719.0,765.4 719.5,764.6C720.0,763.7 720.4,762.8 721.1,762.2C721.7,761.6 722.5,761.1 723.3,761.0C724.1,760.9 725.0,761.5 725.8,761.6C726.7,761.7 727.6,761.7 728.4,761.6C729.3,761.5 730.2,761.0 731.1,760.9C732.0,760.8 733.0,760.9 734.0,760.9C735.0,761.0 735.9,761.2 736.9,761.4C737.9,761.5 738.9,761.6 739.9,761.8C740.9,761.9 741.9,762.1 742.9,762.2C743.9,762.4 744.9,762.5 745.8,762.7C746.8,762.8 747.8,763.0 748.8,763.1C749.8,763.3 750.8,763.4 751.8,763.6C752.8,763.7 753.8,763.8 754.8,763.9C755.7,764.1 756.7,764.2 757.7,764.3C758.7,764.4 759.7,764.5 760.7,764.7C761.7,764.8 762.7,764.9 763.7,765.0C764.7,765.2 765.7,765.3 766.7,765.5C767.6,765.7 768.6,766.0 769.6,766.2C770.5,766.4 771.5,766.7 772.5,766.9C773.5,767.2 774.4,767.4 775.4,767.7C776.3,768.0 777.3,768.3 778.3,768.6C779.2,768.9 780.1,769.2 781.1,769.6C782.0,769.9 783.0,770.2 783.9,770.6C784.9,770.9 785.8,771.2 786.8,771.6C787.7,771.9 788.6,772.2 789.6,772.5C790.5,772.9 791.5,773.2 792.4,773.5C793.4,773.9 794.3,774.2 795.3,774.5C796.2,774.8 797.1,775.2 798.1,775.5C799.0,775.8 800.0,776.2 800.9,776.5C801.9,776.8 802.8,777.1 803.8,777.5C804.7,777.8 805.7,778.1 806.6,778.4C807.6,778.7 808.5,779.0 809.5,779.4C810.4,779.7 811.3,780.1 812.2,780.5C813.1,780.9 814.0,781.4 814.8,781.9C815.7,782.5 816.4,783.1 817.2,783.8C817.9,784.4 818.7,785.1 819.3,785.9C820.0,786.6 820.7,787.3 821.3,788.1C821.9,788.9 822.5,789.7 823.1,790.5C823.7,791.3 824.2,792.2 824.7,793.0C825.2,793.9 825.7,794.8 826.2,795.6C826.7,796.5 827.2,797.4 827.6,798.3C828.0,799.2 828.4,800.1 828.7,801.1C829.1,802.0 829.4,802.9 829.8,803.9C830.1,804.8 830.4,805.8 830.7,806.7C831.1,807.7 831.3,808.6 831.6,809.6C831.9,810.5 832.2,811.5 832.5,812.5C832.8,813.4 833.1,814.4 833.3,815.3C833.6,816.3 833.9,817.3 834.1,818.2C834.4,819.2 834.6,820.2 834.9,821.1C835.1,822.1 835.4,823.1 835.6,824.1C835.9,825.0 836.1,826.0 836.3,827.0C836.6,827.9 836.8,828.9 837.0,829.9C837.2,830.9 837.4,831.8 837.6,832.8C837.8,833.8 838.0,834.8 838.2,835.8C838.4,836.8 838.6,837.7 838.8,838.7C839.0,839.7 839.1,840.7 839.3,841.7C839.5,842.7 839.7,843.6 839.9,844.6C840.1,845.6 840.3,846.6 840.5,847.6C840.6,848.6 840.8,849.5 841.0,850.5C841.2,851.5 841.4,852.5 841.6,853.5C841.8,854.4 842.0,855.4 842.1,856.4C842.3,857.4 842.5,858.4 842.6,859.4C842.8,860.4 843.0,861.3 843.1,862.3C843.3,863.3 843.5,864.3 843.6,865.3C843.8,866.3 844.0,867.3 844.1,868.3C844.3,869.2 844.4,870.2 844.6,871.2C844.7,872.2 844.8,873.2 845.0,874.2C845.1,875.2 845.2,876.2 845.4,877.2C845.5,878.2 845.6,879.2 845.8,880.2C845.9,881.1 846.0,882.1 846.2,883.1C846.3,884.1 846.4,885.1 846.6,886.1C846.7,887.1 846.9,888.1 847.0,889.1C847.2,890.1 847.3,891.0 847.5,892.0C847.6,893.0 847.8,894.0 847.9,895.0C848.1,896.0 848.2,897.0 848.4,898.0C848.5,899.0 848.7,900.0 848.8,900.9C849.0,901.9 849.1,902.9 849.3,903.9C849.4,904.9 849.5,905.9 849.7,906.9C849.8,907.9 850.0,908.9 850.1,909.9C850.3,910.8 850.4,911.8 850.6,912.8C850.7,913.8 850.9,914.8 851.0,915.8C851.2,916.8 851.3,917.8 851.5,918.8C851.6,919.8 851.8,920.7 851.9,921.7C852.1,922.7 852.2,923.7 852.4,924.7C852.5,925.7 852.7,926.7 852.8,927.7C852.9,928.7 853.0,929.7 853.2,930.6C853.3,931.6 853.4,932.6 853.5,933.6C853.6,934.6 853.7,935.6 853.9,936.6C854.0,937.6 854.1,938.6 854.2,939.6C854.3,940.6 854.4,941.6 854.5,942.6C854.6,943.6 854.7,944.6 854.8,945.6C854.9,946.6 855.0,947.6 855.1,948.6C855.2,949.5 855.3,950.5 855.5,951.5C855.6,952.5 855.7,953.5 855.8,954.5C855.9,955.5 856.0,956.5 856.1,957.5C856.2,958.5 856.3,959.5 856.4,960.5C856.5,961.5 856.6,962.5 856.7,963.5C856.8,964.5 856.9,965.5 857.0,966.5C857.1,967.5 857.2,968.5 857.3,969.5C857.4,970.4 857.6,971.4 857.7,972.4C857.8,973.4 857.9,974.4 858.0,975.4C858.1,976.4 858.3,977.4 858.4,978.4C858.5,979.4 858.7,980.4 858.8,981.4C858.9,982.4 859.1,983.4 859.2,984.3C859.3,985.3 859.5,986.3 859.6,987.3C859.7,988.3 859.9,989.3 860.0,990.3C860.1,991.3 860.3,992.3 860.4,993.3C860.5,994.3 860.7,995.3 860.8,996.2C860.9,997.2 861.1,998.2 861.2,999.2C861.3,1000.2 861.5,1001.2 861.6,1002.2C861.7,1003.2 861.9,1004.2 862.0,1005.2C862.1,1006.2 862.3,1007.2 862.4,1008.1C862.5,1009.1 862.7,1010.1 862.8,1011.1C862.9,1012.1 863.1,1013.1 863.2,1014.1C863.3,1015.1 863.5,1016.1 863.6,1017.1C863.7,1018.1 863.9,1019.1 864.0,1020.1C864.1,1021.0 864.3,1022.0 864.4,1023.0C864.5,1024.0 864.6,1025.0 864.8,1026.0C864.9,1027.0 865.0,1028.0 865.1,1029.0C865.3,1030.0 865.4,1031.0 865.5,1032.0C865.7,1033.0 865.8,1033.9 866.0,1034.9C866.1,1035.9 866.3,1036.9 866.4,1037.9C866.6,1038.9 866.8,1039.9 866.9,1040.9C867.1,1041.8 867.3,1042.8 867.4,1043.8C867.6,1044.8 867.8,1045.8 867.9,1046.8C868.1,1047.8 868.3,1048.8 868.4,1049.7C868.6,1050.7 868.8,1051.7 868.9,1052.7C869.1,1053.7 869.3,1054.7 869.4,1055.7C869.6,1056.6 869.8,1057.6 869.9,1058.6C870.1,1059.6 870.3,1060.6 870.4,1061.6C870.6,1062.6 870.8,1063.5 871.0,1064.5C871.1,1065.5 871.3,1066.5 871.5,1067.5C871.7,1068.5 871.9,1069.4 872.1,1070.4C872.3,1071.4 872.5,1072.4 872.7,1073.4C872.9,1074.3 873.1,1075.3 873.3,1076.3C873.5,1077.3 873.7,1078.3 874.0,1079.2C874.2,1080.2 874.5,1081.2 874.7,1082.1C875.0,1083.1 875.2,1084.1 875.5,1085.0C875.7,1086.0 876.0,1087.0 876.2,1088.0C876.5,1088.9 876.7,1089.9 877.0,1090.9C877.3,1091.8 877.5,1092.8 877.8,1093.7C878.1,1094.7 878.4,1095.7 878.6,1096.6C878.9,1097.6 879.2,1098.5 879.5,1099.5C879.8,1100.4 880.1,1101.4 880.5,1102.3C880.9,1103.2 881.3,1104.1 881.8,1105.0C882.4,1105.8 883.0,1106.6 883.7,1107.2C884.3,1107.8 885.2,1108.4 885.9,1108.5C886.7,1108.6 887.7,1108.3 888.3,1107.8C889.1,1107.4 889.7,1106.5 890.2,1105.7C890.7,1104.9 891.1,1104.0 891.5,1103.1C892.0,1102.2 892.4,1101.3 892.7,1100.3C893.1,1099.4 893.5,1098.5 893.8,1097.6C894.2,1096.6 894.5,1095.6 894.7,1094.7C895.0,1093.7 895.3,1092.8 895.6,1091.8C895.9,1090.9 896.2,1089.9 896.5,1088.9C896.8,1088.0 897.1,1087.0 897.3,1086.1C897.6,1085.1 897.8,1084.1 898.1,1083.2C898.3,1082.2 898.5,1081.2 898.8,1080.2C899.0,1079.3 899.2,1078.3 899.5,1077.3C899.7,1076.3 899.9,1075.4 900.2,1074.4C900.4,1073.4 900.6,1072.5 900.9,1071.5C901.1,1070.5 901.3,1069.5 901.5,1068.6C901.7,1067.6 901.9,1066.6 902.1,1065.6C902.3,1064.6 902.5,1063.7 902.7,1062.7C902.9,1061.7 903.1,1060.7 903.3,1059.7C903.5,1058.7 903.7,1057.8 903.9,1056.8C904.1,1055.8 904.3,1054.8 904.5,1053.8C904.6,1052.8 904.8,1051.9 904.9,1050.9C905.0,1049.9 905.1,1048.9 905.3,1047.9C905.4,1046.9 905.5,1045.9 905.7,1044.9C905.8,1043.9 905.9,1042.9 906.0,1041.9C906.2,1040.9 906.3,1039.9 906.4,1039.0C906.6,1038.0 906.7,1037.0 906.8,1036.0C907.0,1035.0 907.1,1034.0 907.2,1033.0C907.4,1032.0 907.5,1031.0 907.6,1030.0C907.8,1029.0 907.9,1028.0 908.0,1027.0C908.1,1026.1 908.3,1025.1 908.4,1024.1C908.5,1023.1 908.6,1022.1 908.7,1021.1C908.8,1020.1 908.9,1019.1 909.0,1018.1C909.1,1017.1 909.2,1016.1 909.3,1015.1C909.4,1014.1 909.5,1013.1 909.6,1012.1C909.7,1011.1 909.8,1010.1 909.9,1009.1C910.0,1008.1 910.1,1007.1 910.2,1006.2C910.3,1005.2 910.4,1004.2 910.5,1003.2C910.6,1002.2 910.7,1001.2 910.8,1000.2C910.9,999.2 911.0,998.2 911.1,997.2C911.2,996.2 911.3,995.2 911.4,994.2C911.5,993.2 911.7,992.2 911.8,991.2C912.0,990.2 912.1,989.3 912.3,988.3C912.5,987.3 912.6,986.3 912.8,985.3C913.0,984.3 913.1,983.3 913.3,982.3C913.5,981.4 913.6,980.4 913.8,979.4C914.0,978.4 914.1,977.4 914.3,976.4C914.4,975.4 914.6,974.5 914.8,973.5C914.9,972.5 915.1,971.5 915.2,970.5C915.4,969.5 915.5,968.5 915.6,967.5C915.8,966.5 915.9,965.5 916.0,964.5C916.2,963.6 916.3,962.6 916.4,961.6C916.6,960.6 916.7,959.6 916.9,958.6C917.1,957.6 917.3,956.6 917.4,955.7C917.6,954.7 917.8,953.7 918.0,952.7C918.2,951.7 918.4,950.7 918.6,949.8C918.8,948.8 919.0,947.8 919.3,946.8C919.5,945.9 919.7,944.9 920.0,943.9C920.2,943.0 920.5,942.0 920.7,941.0C920.9,940.0 921.2,939.1 921.4,938.1C921.6,937.1 921.8,936.1 922.0,935.1C922.2,934.2 922.4,933.2 922.6,932.2C922.8,931.2 923.0,930.2 923.2,929.3C923.4,928.3 923.7,927.3 923.9,926.3C924.1,925.4 924.4,924.4 924.6,923.4C924.9,922.5 925.1,921.5 925.4,920.5C925.6,919.6 925.9,918.6 926.2,917.6C926.5,916.7 926.8,915.7 927.1,914.8C927.4,913.8 927.7,912.9 928.0,911.9C928.3,911.0 928.6,910.0 928.9,909.1C929.3,908.1 929.6,907.2 929.9,906.2C930.2,905.3 930.6,904.3 930.9,903.4C931.3,902.5 931.7,901.5 932.1,900.7C932.6,899.8 933.1,898.9 933.7,898.2C934.4,897.4 935.1,896.7 935.9,896.2C936.6,895.6 937.5,895.1 938.4,894.8C939.3,894.6 940.3,894.5 941.2,894.5C942.2,894.6 943.2,894.7 944.1,895.0C945.0,895.3 945.8,895.9 946.6,896.4C947.4,897.0 948.1,897.8 948.7,898.5C949.4,899.2 950.1,900.0 950.7,900.7C951.4,901.5 952.0,902.3 952.7,903.0C953.3,903.8 954.0,904.5 954.7,905.2C955.4,905.9 956.2,906.6 956.9,907.3C957.6,908.0 958.3,908.7 959.0,909.4C959.7,910.1 960.4,910.9 961.1,911.5C961.9,912.1 962.7,912.7 963.6,913.2C964.4,913.6 965.3,914.1 966.3,914.4C967.2,914.7 968.2,914.9 969.1,915.0C970.0,915.0 971.0,914.9 971.9,914.5C972.7,914.2 973.5,913.6 974.3,913.0C975.1,912.4 975.8,911.7 976.5,910.9C977.1,910.2 977.7,909.4 978.3,908.6C978.9,907.8 979.5,907.0 980.1,906.2C980.7,905.4 981.3,904.6 981.8,903.7C982.3,902.9 982.7,902.0 983.1,901.1C983.4,900.1 983.7,899.2 984.0,898.2C984.3,897.3 984.6,896.3 984.9,895.3C985.2,894.4 985.5,893.4 985.9,892.5C986.2,891.6 986.5,890.6 986.9,889.7C987.2,888.7 987.5,887.8 987.9,886.8C988.2,885.9 988.5,885.0 988.9,884.0C989.2,883.1 989.5,882.1 989.9,881.2C990.2,880.2 990.5,879.3 990.9,878.4C991.2,877.4 991.5,876.5 991.9,875.5C992.2,874.6 992.5,873.6 992.9,872.7C993.2,871.8 993.6,870.8 993.9,869.9C994.3,869.0 994.7,868.0 995.1,867.1C995.4,866.2 995.8,865.2 996.1,864.3C996.4,863.3 996.7,862.4 996.9,861.4C997.2,860.4 997.4,859.5 997.7,858.5C998.0,857.5 998.2,856.6 998.5,855.6C998.8,854.7 999.1,853.7 999.4,852.8C999.7,851.8 1000.1,850.9 1000.4,849.9C1000.7,849.0 1001.0,848.0 1001.3,847.1C1001.7,846.1 1002.0,845.2 1002.3,844.2C1002.6,843.3 1003.0,842.3 1003.3,841.4C1003.7,840.5 1004.0,839.5 1004.4,838.6C1004.8,837.7 1005.2,836.8 1005.6,835.9C1006.0,834.9 1006.4,834.0 1006.8,833.1C1007.2,832.2 1007.6,831.3 1008.0,830.4C1008.4,829.4 1008.7,828.5 1009.1,827.6C1009.5,826.6 1009.8,825.7 1010.2,824.8C1010.5,823.8 1010.9,822.9 1011.2,821.9C1011.6,821.0 1011.9,820.1 1012.3,819.2C1012.7,818.3 1013.2,817.4 1013.7,816.5C1014.1,815.6 1014.7,814.7 1015.1,813.9C1015.6,813.0 1016.1,812.1 1016.6,811.3C1017.1,810.4 1017.6,809.5 1018.1,808.7C1018.6,807.8 1019.1,806.9 1019.7,806.1C1020.3,805.3 1021.0,804.6 1021.7,803.9C1022.3,803.1 1023.1,802.4 1023.8,801.7C1024.5,801.0 1025.2,800.3 1025.9,799.6C1026.6,798.9 1027.3,798.2 1028.1,797.6C1028.9,797.0 1029.7,796.5 1030.6,796.0C1031.4,795.6 1032.4,795.2 1033.3,794.9C1034.2,794.6 1035.2,794.3 1036.2,794.2C1037.1,794.1 1038.1,794.2 1039.1,794.3C1040.1,794.3 1041.0,794.6 1042.0,794.7C1043.0,794.9 1044.0,795.0 1045.0,795.2C1046.0,795.4 1046.9,795.7 1047.9,796.0C1048.8,796.3 1049.8,796.7 1050.7,797.0C1051.6,797.4 1052.5,797.8 1053.5,798.2C1054.4,798.6 1055.3,798.9 1056.2,799.3C1057.1,799.7 1058.1,800.1 1059.0,800.5C1059.9,800.9 1060.8,801.3 1061.7,801.7C1062.7,802.1 1063.6,802.5 1064.5,802.9C1065.4,803.3 1066.3,803.7 1067.2,804.1C1068.2,804.5 1069.1,804.9 1070.0,805.3C1070.9,805.7 1071.8,806.1 1072.7,806.6C1073.6,807.0 1074.5,807.5 1075.4,808.0C1076.2,808.4 1077.1,808.9 1078.0,809.4C1078.8,809.9 1079.7,810.4 1080.6,810.9C1081.5,811.4 1082.3,811.9 1083.2,812.4C1084.1,812.9 1084.9,813.4 1085.8,813.9C1086.7,814.3 1087.6,814.8 1088.5,815.2C1089.4,815.7 1090.3,816.2 1091.2,816.6C1092.1,817.1 1093.0,817.5 1093.8,818.0C1094.7,818.4 1095.6,818.9 1096.5,819.3C1097.4,819.7 1098.3,820.2 1099.2,820.6C1100.1,821.0 1101.1,821.4 1102.0,821.8C1102.9,822.2 1103.9,822.5 1104.8,822.8C1105.7,823.1 1106.7,823.5 1107.6,823.8C1108.6,824.1 1109.5,824.5 1110.5,824.8C1111.4,825.1 1112.4,825.4 1113.3,825.7C1114.3,826.0 1115.3,826.2 1116.2,826.4C1117.2,826.7 1118.2,826.9 1119.2,827.1C1120.1,827.3 1121.1,827.5 1122.1,827.7C1123.1,827.9 1124.1,828.1 1125.0,828.3C1126.0,828.5 1127.0,828.7 1128.0,828.8C1129.0,829.0 1130.0,829.1 1131.0,829.2C1132.0,829.4 1133.0,829.5 1133.9,829.6C1134.9,829.7 1135.9,829.9 1136.9,830.0C1137.9,830.1 1138.9,830.3 1139.9,830.4" fill="none" stroke="#111" stroke-width="1.8" stroke-linejoin="round" stroke-linecap="round"/>
<path d="M60.0,1304.2C60.4,1305.1 60.9,1306.0 61.3,1306.9C61.8,1307.8 62.2,1308.7 62.7,1309.5C63.2,1310.4 63.7,1311.3 64.3,1312.1C64.8,1312.9 65.4,1313.8 66.0,1314.6C66.6,1315.3 67.2,1316.1 67.9,1316.8C68.6,1317.5 69.4,1318.2 70.2,1318.6C70.9,1318.9 71.8,1319.1 72.6,1319.0C73.4,1318.9 74.3,1318.2 75.0,1317.7C75.8,1317.2 76.6,1316.4 77.2,1315.7C77.9,1315.0 78.5,1314.2 79.0,1313.3C79.6,1312.5 80.1,1311.7 80.5,1310.8C81.0,1309.9 81.3,1309.0 81.7,1308.0C82.0,1307.1 82.3,1306.1 82.6,1305.2C82.9,1304.2 83.2,1303.3 83.5,1302.3C83.8,1301.4 84.1,1300.4 84.3,1299.4C84.6,1298.5 84.9,1297.5 85.2,1296.6C85.4,1295.6 85.7,1294.6 86.0,1293.7C86.3,1292.7 86.5,1291.7 86.8,1290.8C87.1,1289.8 87.4,1288.9 87.6,1287.9C87.9,1286.9 88.2,1286.0 88.5,1285.0C88.8,1284.1 89.1,1283.1 89.4,1282.2C89.7,1281.2 90.0,1280.2 90.3,1279.3C90.6,1278.3 90.9,1277.4 91.3,1276.4C91.6,1275.5 91.9,1274.6 92.3,1273.6C92.7,1272.7 93.1,1271.8 93.5,1270.9C93.9,1269.9 94.3,1269.0 94.6,1268.1C95.0,1267.2 95.4,1266.2 95.9,1265.4C96.3,1264.5 96.8,1263.6 97.3,1262.8C97.9,1261.9 98.5,1261.2 99.1,1260.4C99.8,1259.6 100.4,1258.8 101.1,1258.2C101.8,1257.5 102.5,1256.9 103.4,1256.6C104.2,1256.2 105.2,1256.1 106.2,1256.0C107.2,1256.0 108.2,1256.0 109.1,1256.2C110.1,1256.3 111.1,1256.6 112.1,1256.7C113.0,1256.9 114.0,1257.2 115.0,1257.3C116.0,1257.4 117.0,1257.4 118.0,1257.4C119.0,1257.4 120.0,1257.4 121.0,1257.4C122.0,1257.4 123.0,1257.3 124.0,1257.3C125.0,1257.3 126.0,1257.3 127.0,1257.3C128.0,1257.2 129.0,1257.2 130.0,1257.2C131.0,1257.2 132.0,1257.2 133.0,1257.3C134.0,1257.3 135.0,1257.3 136.0,1257.3C137.0,1257.3 138.0,1257.3 139.0,1257.4C140.0,1257.4 141.0,1257.4 142.0,1257.4C143.0,1257.4 144.0,1257.4 145.0,1257.5C146.0,1257.5 147.0,1257.6 148.0,1257.7C149.0,1257.8 150.0,1257.9 151.0,1258.0C152.0,1258.1 153.0,1258.2 154.0,1258.3C155.0,1258.4 156.0,1258.5 156.9,1258.7C157.9,1258.8 158.9,1258.9 159.9,1259.0C160.9,1259.1 161.9,1259.2 162.9,1259.4C163.9,1259.5 164.9,1259.6 165.9,1259.7C166.9,1259.8 167.9,1259.9 168.9,1260.1C169.9,1260.2 170.9,1260.3 171.9,1260.4C172.8,1260.6 173.8,1260.7 174.8,1260.8C175.8,1261.0 176.8,1261.2 177.8,1261.4C178.8,1261.6 179.7,1261.8 180.7,1262.0C181.7,1262.2 182.7,1262.4 183.6,1262.7C184.6,1262.9 185.6,1263.2 186.5,1263.5C187.5,1263.8 188.4,1264.1 189.3,1264.5C190.2,1264.9 191.1,1265.3 192.0,1265.9C192.8,1266.4 193.6,1267.0 194.3,1267.6C195.1,1268.3 195.9,1268.9 196.6,1269.6C197.4,1270.2 198.1,1270.9 198.7,1271.7C199.4,1272.4 200.0,1273.3 200.6,1274.0C201.2,1274.8 201.8,1275.7 202.4,1276.5C203.0,1277.3 203.5,1278.1 204.1,1278.9C204.7,1279.7 205.2,1280.6 205.8,1281.4C206.3,1282.2 206.9,1283.1 207.4,1283.9C208.0,1284.8 208.5,1285.6 208.9,1286.5C209.4,1287.4 209.8,1288.3 210.2,1289.2C210.7,1290.1 211.1,1291.0 211.5,1291.9C211.9,1292.8 212.3,1293.7 212.7,1294.7C213.1,1295.6 213.4,1296.5 213.7,1297.5C214.1,1298.4 214.4,1299.4 214.7,1300.3C215.0,1301.3 215.3,1302.2 215.6,1303.2C215.9,1304.1 216.2,1305.1 216.5,1306.1C216.8,1307.0 217.0,1308.0 217.3,1308.9C217.6,1309.9 217.9,1310.9 218.2,1311.8C218.4,1312.8 218.7,1313.8 219.0,1314.7C219.3,1315.7 219.5,1316.6 219.8,1317.6C220.0,1318.6 220.3,1319.5 220.5,1320.5C220.8,1321.5 221.0,1322.5 221.2,1323.4C221.5,1324.4 221.7,1325.4 221.9,1326.4C222.1,1327.3 222.4,1328.3 222.6,1329.3C222.8,1330.3 223.0,1331.2 223.2,1332.2C223.4,1333.2 223.6,1334.2 223.8,1335.2C224.0,1336.2 224.2,1337.1 224.4,1338.1C224.6,1339.1 224.8,1340.1 225.0,1341.1C225.1,1342.0 225.3,1343.0 225.5,1344.0C225.7,1345.0 225.9,1346.0 226.1,1346.9C226.3,1347.9 226.5,1348.9 226.7,1349.9C226.9,1350.9 227.1,1351.9 227.3,1352.8C227.5,1353.8 227.7,1354.8 227.9,1355.8C228.1,1356.8 228.3,1357.7 228.5,1358.7C228.7,1359.7 228.9,1360.7 229.0,1361.7C229.2,1362.7 229.4,1363.6 229.6,1364.6C229.8,1365.6 230.0,1366.6 230.2,1367.6C230.4,1368.5 230.6,1369.5 230.8,1370.5C231.0,1371.5 231.2,1372.5 231.4,1373.5C231.6,1374.4 231.8,1375.4 232.0,1376.4C232.2,1377.4 232.4,1378.4 232.6,1379.3C232.7,1380.3 232.9,1381.3 233.1,1382.3C233.3,1383.3 233.5,1384.3 233.6,1385.3C233.8,1386.2 234.0,1387.2 234.2,1388.2C234.3,1389.2 234.5,1390.2 234.7,1391.2C234.8,1392.2 235.0,1393.1 235.1,1394.1C235.3,1395.1 235.4,1396.1 235.5,1397.1C235.6,1398.1 235.7,1399.1 235.8,1400.1C235.9,1401.1 236.0,1402.1 236.1,1403.1C236.2,1404.1 236.3,1405.1 236.5,1406.1C236.6,1407.1 236.7,1408.0 236.9,1409.0C237.0,1410.0 237.2,1411.0 237.4,1412.0C237.5,1413.0 237.7,1414.0 237.8,1415.0C238.0,1416.0 238.2,1416.9 238.3,1417.9C238.5,1418.9 238.6,1419.9 238.8,1420.9C239.0,1421.9 239.1,1422.9 239.3,1423.9C239.4,1424.8 239.6,1425.8 239.8,1426.8C239.9,1427.8 240.1,1428.8 240.2,1429.8C240.4,1430.8 240.6,1431.8 240.7,1432.8C240.9,1433.7 241.0,1434.7 241.2,1435.7C241.4,1436.7 241.5,1437.7 241.7,1438.7C241.8,1439.7 242.0,1440.7 242.2,1441.6C242.3,1442.6 242.5,1443.6 242.6,1444.6C242.8,1445.6 243.0,1446.6 243.1,1447.6C243.3,1448.6 243.4,1449.5 243.6,1450.5C243.8,1451.5 243.9,1452.5 244.1,1453.5C244.2,1454.5 244.4,1455.5 244.6,1456.5C244.7,1457.5 244.9,1458.4 245.1,1459.4C245.2,1460.4 245.4,1461.4 245.5,1462.4C245.7,1463.4 245.9,1464.4 246.0,1465.4C246.2,1466.3 246.4,1467.3 246.5,1468.3C246.7,1469.3 246.9,1470.3 247.0,1471.3C247.2,1472.3 247.3,1473.3 247.5,1474.2C247.7,1475.2 247.8,1476.2 248.0,1477.2C248.2,1478.2 248.3,1479.2 248.5,1480.2C248.7,1481.2 248.8,1482.1 249.0,1483.1C249.1,1484.1 249.3,1485.1 249.5,1486.1C249.6,1487.1 249.8,1488.1 250.0,1489.0C250.1,1490.0 250.3,1491.0 250.5,1492.0C250.6,1493.0 250.8,1494.0 250.9,1495.0C251.1,1496.0 251.3,1496.9 251.4,1497.9C251.6,1498.9 251.8,1499.9 251.9,1500.9C252.1,1501.9 252.3,1502.9 252.4,1503.9C252.6,1504.8 252.7,1505.8 252.9,1506.8C253.1,1507.8 253.2,1508.8 253.4,1509.8C253.6,1510.8 253.7,1511.8 253.9,1512.7C254.1,1513.7 254.2,1514.7 254.4,1515.7C254.5,1516.7 254.7,1517.7 254.9,1518.7C255.0,1519.7 255.2,1520.6 255.4,1521.6C255.5,1522.6 255.7,1523.6 255.9,1524.6C256.0,1525.6 256.2,1526.6 256.3,1527.6C256.5,1528.5 256.7,1529.5 256.8,1530.5C257.0,1531.5 257.2,1532.5 257.4,1533.5C257.5,1534.5 257.7,1535.4 257.9,1536.4C258.1,1537.4 258.3,1538.4 258.5,1539.4C258.6,1540.4 258.8,1541.3 259.0,1542.3C259.2,1543.3 259.4,1544.3 259.6,1545.3C259.8,1546.3 259.9,1547.2 260.1,1548.2C260.3,1549.2 260.5,1550.2 260.7,1551.2C260.9,1552.2 261.1,1553.2 261.2,1554.1C261.4,1555.1 261.6,1556.1 261.8,1557.1C262.0,1558.1 262.2,1559.0 262.4,1560.0C262.6,1561.0 262.8,1562.0 263.0,1563.0C263.2,1563.9 263.4,1564.9 263.6,1565.9C263.8,1566.9 264.1,1567.9 264.3,1568.8C264.5,1569.8 264.7,1570.8 264.9,1571.8C265.1,1572.8 265.3,1573.7 265.5,1574.7C265.7,1575.7 266.0,1576.7 266.2,1577.6C266.4,1578.6 266.6,1579.6 266.8,1580.6C267.0,1581.6 267.2,1582.5 267.4,1583.5C267.7,1584.5 267.9,1585.5 268.1,1586.4C268.4,1587.4 268.6,1588.4 268.8,1589.4C269.1,1590.3 269.3,1591.3 269.5,1592.3C269.8,1593.2 270.0,1594.2 270.3,1595.2C270.5,1596.2 270.7,1597.1 271.0,1598.1C271.3,1599.0 271.6,1600.0 272.0,1600.9C272.4,1601.7 272.8,1602.8 273.3,1603.3C273.8,1603.7 274.4,1604.0 274.9,1603.8C275.5,1603.7 276.2,1602.8 276.7,1602.1C277.3,1601.4 277.9,1600.5 278.4,1599.7C278.9,1598.8 279.3,1597.9 279.7,1597.0C280.1,1596.1 280.5,1595.1 280.9,1594.2C281.3,1593.3 281.7,1592.4 282.0,1591.4C282.3,1590.5 282.7,1589.5 282.9,1588.6C283.2,1587.6 283.4,1586.6 283.7,1585.7C283.9,1584.7 284.2,1583.7 284.4,1582.8C284.7,1581.8 284.9,1580.8 285.1,1579.8C285.4,1578.9 285.6,1577.9 285.9,1576.9C286.1,1576.0 286.3,1575.0 286.6,1574.0C286.8,1573.0 287.1,1572.1 287.3,1571.1C287.5,1570.1 287.7,1569.2 288.0,1568.2C288.2,1567.2 288.4,1566.2 288.6,1565.2C288.8,1564.3 289.0,1563.3 289.2,1562.3C289.4,1561.3 289.7,1560.4 289.9,1559.4C290.1,1558.4 290.3,1557.4 290.5,1556.4C290.7,1555.5 290.9,1554.5 291.1,1553.5C291.3,1552.5 291.6,1551.5 291.8,1550.6C292.0,1549.6 292.2,1548.6 292.4,1547.6C292.6,1546.7 292.8,1545.7 293.0,1544.7C293.2,1543.7 293.4,1542.7 293.6,1541.7C293.8,1540.8 294.0,1539.8 294.2,1538.8C294.4,1537.8 294.6,1536.8 294.8,1535.9C295.0,1534.9 295.2,1533.9 295.4,1532.9C295.6,1531.9 295.8,1531.0 296.0,1530.0C296.2,1529.0 296.4,1528.0 296.6,1527.0C296.8,1526.0 297.0,1525.1 297.2,1524.1C297.4,1523.1 297.6,1522.1 297.8,1521.1C298.0,1520.2 298.2,1519.2 298.4,1518.2C298.6,1517.2 298.8,1516.2 299.0,1515.3C299.2,1514.3 299.4,1513.3 299.6,1512.3C299.8,1511.3 300.0,1510.4 300.2,1509.4C300.4,1508.4 300.6,1507.4 300.8,1506.5C301.1,1505.5 301.3,1504.5 301.5,1503.5C301.7,1502.5 301.9,1501.6 302.1,1500.6C302.3,1499.6 302.5,1498.6 302.7,1497.6C302.9,1496.7 303.2,1495.7 303.4,1494.7C303.6,1493.7 303.8,1492.8 304.1,1491.8C304.3,1490.8 304.5,1489.8 304.7,1488.9C305.0,1487.9 305.2,1486.9 305.4,1485.9C305.6,1485.0 305.9,1484.0 306.1,1483.0C306.3,1482.0 306.6,1481.1 306.8,1480.1C307.0,1479.1 307.2,1478.1 307.5,1477.2C307.7,1476.2 307.9,1475.2 308.2,1474.2C308.4,1473.3 308.7,1472.3 309.0,1471.4C309.2,1470.4 309.5,1469.4 309.8,1468.5C310.1,1467.5 310.3,1466.5 310.6,1465.6C310.9,1464.6 311.2,1463.7 311.4,1462.7C311.7,1461.7 312.0,1460.8 312.2,1459.8C312.5,1458.8 312.7,1457.9 313.0,1456.9C313.2,1455.9 313.4,1454.9 313.7,1454.0C313.9,1453.0 314.2,1452.0 314.4,1451.1C314.7,1450.1 314.9,1449.1 315.1,1448.1C315.4,1447.2 315.6,1446.2 315.9,1445.2C316.2,1444.3 316.4,1443.3 316.7,1442.4C317.0,1441.4 317.3,1440.4 317.6,1439.5C317.9,1438.5 318.2,1437.6 318.5,1436.6C318.8,1435.6 319.0,1434.7 319.3,1433.7C319.6,1432.8 319.9,1431.8 320.2,1430.9C320.5,1429.9 320.8,1428.9 321.1,1428.0C321.4,1427.0 321.8,1426.1 322.1,1425.2C322.4,1424.2 322.8,1423.3 323.1,1422.3C323.5,1421.4 323.8,1420.5 324.2,1419.5C324.5,1418.6 324.9,1417.6 325.2,1416.7C325.6,1415.8 325.9,1414.8 326.3,1413.9C326.7,1413.0 327.1,1412.1 327.6,1411.2C328.1,1410.3 328.6,1409.5 329.1,1408.6C329.6,1407.7 330.0,1406.9 330.7,1406.1C331.3,1405.3 331.9,1404.6 332.7,1404.1C333.5,1403.5 334.4,1403.0 335.2,1402.9C336.1,1402.7 337.0,1402.8 337.8,1403.1C338.7,1403.4 339.5,1404.1 340.2,1404.7C340.9,1405.4 341.4,1406.2 342.0,1407.0C342.6,1407.8 343.1,1408.7 343.5,1409.6C344.0,1410.5 344.4,1411.4 344.7,1412.3C345.1,1413.2 345.4,1414.2 345.7,1415.1C346.0,1416.1 346.3,1417.0 346.7,1418.0C347.0,1418.9 347.3,1419.9 347.6,1420.8C347.9,1421.8 348.2,1422.7 348.6,1423.7C348.9,1424.6 349.2,1425.6 349.5,1426.5C349.8,1427.5 350.1,1428.4 350.5,1429.4C350.8,1430.3 351.1,1431.3 351.4,1432.2C351.7,1433.2 352.0,1434.1 352.4,1435.1C352.7,1436.0 353.0,1437.0 353.3,1437.9C353.6,1438.9 353.9,1439.8 354.3,1440.8C354.6,1441.7 354.9,1442.7 355.2,1443.6C355.6,1444.5 356.0,1445.4 356.5,1446.3C357.1,1447.1 357.7,1447.9 358.3,1448.6C359.0,1449.3 359.6,1450.2 360.3,1450.5C360.9,1450.7 361.7,1450.7 362.3,1450.4C363.0,1450.1 363.6,1449.2 364.1,1448.5C364.7,1447.7 365.2,1446.9 365.6,1446.0C366.0,1445.1 366.3,1444.1 366.7,1443.2C367.0,1442.2 367.3,1441.3 367.6,1440.3C367.9,1439.4 368.3,1438.4 368.6,1437.5C368.9,1436.5 369.2,1435.6 369.5,1434.6C369.7,1433.7 370.0,1432.7 370.3,1431.7C370.5,1430.8 370.8,1429.8 371.1,1428.8C371.3,1427.9 371.6,1426.9 371.8,1425.9C372.1,1425.0 372.4,1424.0 372.6,1423.0C372.8,1422.0 373.0,1421.1 373.2,1420.1C373.3,1419.1 373.5,1418.1 373.6,1417.1C373.7,1416.1 373.9,1415.1 374.0,1414.1C374.2,1413.1 374.3,1412.2 374.4,1411.2C374.6,1410.2 374.7,1409.2 374.9,1408.2C375.0,1407.2 375.2,1406.2 375.3,1405.2C375.5,1404.2 375.6,1403.2 375.8,1402.2C375.9,1401.3 376.0,1400.3 376.2,1399.3C376.4,1398.3 376.5,1397.3 376.7,1396.3C376.9,1395.3 377.1,1394.4 377.3,1393.4C377.5,1392.4 377.7,1391.4 377.9,1390.4C378.1,1389.5 378.3,1388.5 378.5,1387.5C378.7,1386.5 378.9,1385.5 379.1,1384.6C379.3,1383.6 379.5,1382.6 379.7,1381.6C379.9,1380.6 380.1,1379.6 380.3,1378.7C380.4,1377.7 380.6,1376.7 380.8,1375.7C381.0,1374.7 381.2,1373.7 381.4,1372.8C381.6,1371.8 381.8,1370.8 382.0,1369.8C382.2,1368.8 382.4,1367.9 382.6,1366.9C382.8,1365.9 383.0,1364.9 383.2,1363.9C383.4,1363.0 383.7,1362.0 383.9,1361.0C384.2,1360.1 384.4,1359.1 384.7,1358.1C384.9,1357.1 385.2,1356.2 385.4,1355.2C385.7,1354.2 385.9,1353.3 386.2,1352.3C386.5,1351.3 386.7,1350.4 387.0,1349.4C387.2,1348.4 387.5,1347.5 387.7,1346.5C388.0,1345.5 388.2,1344.6 388.4,1343.6C388.7,1342.6 388.9,1341.6 389.1,1340.7C389.4,1339.7 389.6,1338.7 389.8,1337.7C390.1,1336.8 390.3,1335.8 390.6,1334.8C390.9,1333.9 391.2,1332.9 391.5,1332.0C391.7,1331.0 392.0,1330.1 392.3,1329.1C392.6,1328.1 392.9,1327.2 393.2,1326.2C393.4,1325.2 393.7,1324.3 394.0,1323.3C394.2,1322.3 394.5,1321.4 394.7,1320.4C395.0,1319.5 395.3,1318.5 395.6,1317.5C395.9,1316.6 396.2,1315.6 396.5,1314.7C396.7,1313.7 397.1,1312.8 397.4,1311.8C397.7,1310.8 398.0,1309.9 398.3,1308.9C398.6,1308.0 398.9,1307.0 399.2,1306.1C399.5,1305.1 399.8,1304.2 400.2,1303.2C400.5,1302.3 400.8,1301.3 401.2,1300.4C401.6,1299.5 402.0,1298.6 402.5,1297.7C402.9,1296.8 403.3,1295.9 403.8,1295.0C404.2,1294.1 404.7,1293.2 405.1,1292.3C405.6,1291.4 406.0,1290.5 406.5,1289.7C406.9,1288.8 407.4,1287.9 407.8,1287.0C408.3,1286.1 408.7,1285.2 409.2,1284.3C409.7,1283.4 410.2,1282.6 410.7,1281.7C411.2,1280.8 411.7,1280.0 412.3,1279.1C412.8,1278.3 413.3,1277.4 414.0,1276.7C414.6,1275.9 415.3,1275.2 416.0,1274.5C416.7,1273.9 417.5,1273.2 418.3,1272.7C419.1,1272.1 420.0,1271.6 420.9,1271.2C421.8,1270.8 422.7,1270.5 423.7,1270.2C424.6,1270.0 425.6,1269.9 426.6,1269.9C427.6,1269.8 428.6,1269.9 429.6,1269.9C430.6,1270.0 431.6,1270.1 432.6,1270.3C433.5,1270.5 434.5,1270.7 435.5,1270.9C436.5,1271.1 437.5,1271.2 438.4,1271.3C439.4,1271.4 440.4,1271.4 441.4,1271.5C442.4,1271.6 443.4,1271.6 444.4,1271.8C445.4,1271.9 446.4,1272.1 447.4,1272.3C448.3,1272.5 449.3,1272.7 450.3,1272.9C451.3,1273.0 452.3,1273.1 453.3,1273.2C454.3,1273.2 455.3,1273.3 456.3,1273.3C457.3,1273.3 458.3,1273.3 459.3,1273.3C460.3,1273.3 461.3,1273.3 462.3,1273.3C463.3,1273.3 464.3,1273.3 465.3,1273.3C466.3,1273.3 467.3,1273.3 468.3,1273.3C469.3,1273.3 470.3,1273.3 471.3,1273.3C472.3,1273.3 473.3,1273.3 474.3,1273.3C475.3,1273.3 476.3,1273.3 477.3,1273.3C478.3,1273.3 479.3,1273.3 480.3,1273.3" fill="none" stroke="#111" stroke-width="1.8" stroke-linejoin="round" stroke-linecap="round"/>
<path d="M665.8,1266.3C666.0,1267.3 666.3,1268.2 666.5,1269.2C666.7,1270.2 667.0,1271.2 667.2,1272.1C667.4,1273.1 667.7,1274.1 667.9,1275.1C668.1,1276.0 668.4,1277.0 668.6,1278.0C668.8,1279.0 669.0,1279.9 669.3,1280.9C669.5,1281.9 669.7,1282.9 669.9,1283.8C670.1,1284.8 670.4,1285.8 670.6,1286.8C670.8,1287.7 671.0,1288.7 671.2,1289.7C671.5,1290.7 671.7,1291.6 672.0,1292.6C672.2,1293.6 672.5,1294.5 672.7,1295.5C673.0,1296.5 673.3,1297.4 673.5,1298.4C673.8,1299.4 674.1,1300.3 674.3,1301.3C674.6,1302.2 674.8,1303.2 675.1,1304.2C675.4,1305.1 675.7,1306.1 676.0,1307.1C676.2,1308.0 676.6,1309.0 676.9,1309.9C677.2,1310.9 677.5,1311.8 677.8,1312.8C678.1,1313.7 678.5,1314.7 678.8,1315.6C679.1,1316.6 679.4,1317.5 679.7,1318.4C680.1,1319.4 680.4,1320.3 680.9,1321.2C681.3,1322.1 681.9,1322.9 682.5,1323.7C683.1,1324.4 683.7,1325.2 684.4,1325.9C685.1,1326.6 685.7,1327.4 686.5,1327.8C687.3,1328.1 688.3,1328.3 689.0,1328.2C689.7,1328.0 690.5,1327.4 691.0,1326.8C691.6,1326.1 691.8,1325.1 692.2,1324.2C692.5,1323.3 692.8,1322.3 693.2,1321.4C693.5,1320.4 693.8,1319.5 694.1,1318.5C694.3,1317.6 694.6,1316.6 694.9,1315.6C695.1,1314.7 695.3,1313.7 695.6,1312.7C695.8,1311.7 696.1,1310.8 696.3,1309.8C696.5,1308.8 696.8,1307.9 697.0,1306.9C697.3,1305.9 697.5,1304.9 697.7,1304.0C698.0,1303.0 698.2,1302.0 698.5,1301.1C698.7,1300.1 698.9,1299.1 699.2,1298.2C699.4,1297.2 699.7,1296.2 699.9,1295.2C700.2,1294.3 700.4,1293.3 700.7,1292.3C700.9,1291.4 701.1,1290.4 701.4,1289.4C701.6,1288.5 701.9,1287.5 702.1,1286.5C702.4,1285.5 702.6,1284.6 702.9,1283.6C703.1,1282.6 703.4,1281.7 703.7,1280.7C703.9,1279.7 704.2,1278.8 704.5,1277.8C704.7,1276.9 705.0,1275.9 705.3,1274.9C705.5,1274.0 705.8,1273.0 706.0,1272.0C706.3,1271.1 706.6,1270.1 706.8,1269.1C707.1,1268.2 707.4,1267.2 707.6,1266.2C707.9,1265.3 708.1,1264.3 708.4,1263.3C708.7,1262.4 708.9,1261.4 709.2,1260.4C709.5,1259.5 709.7,1258.5 710.0,1257.6C710.2,1256.6 710.5,1255.6 710.8,1254.7C711.0,1253.7 711.3,1252.7 711.6,1251.8C711.9,1250.8 712.1,1249.8 712.5,1248.9C712.8,1248.0 713.3,1247.1 713.7,1246.2C714.2,1245.3 714.7,1244.5 715.2,1243.6C715.7,1242.8 716.2,1241.9 716.7,1241.0C717.3,1240.2 717.8,1239.4 718.5,1238.7C719.2,1238.1 720.1,1237.6 720.9,1237.1C721.7,1236.6 722.7,1236.1 723.6,1235.8C724.5,1235.5 725.5,1235.2 726.4,1235.1C727.4,1234.9 728.4,1234.9 729.4,1234.9C730.4,1234.8 731.4,1234.8 732.4,1234.8C733.4,1234.8 734.4,1234.7 735.4,1234.7C736.4,1234.7 737.4,1234.7 738.4,1234.7C739.4,1234.7 740.4,1234.7 741.4,1234.7C742.4,1234.7 743.4,1234.7 744.4,1234.7C745.4,1234.6 746.4,1234.5 747.3,1234.3C748.3,1234.1 749.2,1233.8 750.2,1233.6C751.2,1233.5 752.1,1233.3 753.1,1233.3C754.1,1233.3 755.1,1233.5 756.1,1233.6C757.1,1233.8 758.1,1233.9 759.0,1234.1C760.0,1234.3 761.0,1234.6 761.9,1234.8C762.9,1235.1 763.9,1235.4 764.8,1235.7C765.8,1236.0 766.7,1236.3 767.7,1236.6C768.6,1236.9 769.6,1237.1 770.5,1237.5C771.5,1237.8 772.4,1238.1 773.3,1238.5C774.2,1238.9 775.1,1239.4 776.0,1239.9C776.9,1240.4 777.7,1240.9 778.6,1241.4C779.4,1241.9 780.3,1242.4 781.1,1242.9C782.0,1243.5 782.8,1244.0 783.7,1244.6C784.5,1245.1 785.3,1245.7 786.1,1246.3C786.9,1246.9 787.7,1247.5 788.5,1248.1C789.3,1248.7 790.1,1249.3 790.9,1249.9C791.7,1250.5 792.5,1251.1 793.3,1251.8C794.0,1252.4 794.8,1253.1 795.5,1253.7C796.3,1254.4 797.0,1255.0 797.8,1255.7C798.5,1256.4 799.3,1257.0 800.0,1257.7C800.8,1258.4 801.5,1259.1 802.2,1259.8C802.9,1260.5 803.6,1261.2 804.3,1261.9C805.0,1262.7 805.6,1263.4 806.3,1264.2C806.9,1264.9 807.6,1265.7 808.1,1266.5C808.7,1267.3 809.2,1268.2 809.7,1269.1C810.2,1269.9 810.6,1270.8 811.0,1271.7C811.5,1272.6 811.9,1273.5 812.3,1274.5C812.7,1275.4 813.0,1276.3 813.4,1277.3C813.7,1278.2 814.1,1279.1 814.4,1280.1C814.7,1281.0 815.1,1282.0 815.4,1282.9C815.7,1283.9 816.0,1284.8 816.3,1285.8C816.6,1286.7 816.9,1287.7 817.2,1288.6C817.5,1289.6 817.7,1290.6 818.0,1291.5C818.2,1292.5 818.5,1293.5 818.7,1294.4C818.9,1295.4 819.1,1296.4 819.4,1297.4C819.6,1298.3 819.8,1299.3 820.0,1300.3C820.1,1301.3 820.3,1302.3 820.5,1303.2C820.7,1304.2 820.9,1305.2 821.1,1306.2C821.3,1307.2 821.5,1308.2 821.7,1309.1C821.9,1310.1 822.1,1311.1 822.3,1312.1C822.5,1313.1 822.7,1314.0 822.9,1315.0C823.1,1316.0 823.3,1317.0 823.4,1318.0C823.6,1319.0 823.8,1319.9 824.0,1320.9C824.2,1321.9 824.3,1322.9 824.5,1323.9C824.7,1324.9 824.8,1325.9 825.0,1326.8C825.1,1327.8 825.2,1328.8 825.4,1329.8C825.5,1330.8 825.7,1331.8 825.8,1332.8C825.9,1333.8 826.0,1334.8 826.2,1335.8C826.3,1336.8 826.4,1337.7 826.5,1338.7C826.7,1339.7 826.8,1340.7 826.9,1341.7C827.1,1342.7 827.2,1343.7 827.3,1344.7C827.4,1345.7 827.6,1346.7 827.7,1347.7C827.8,1348.7 828.0,1349.6 828.1,1350.6C828.2,1351.6 828.4,1352.6 828.5,1353.6C828.7,1354.6 828.8,1355.6 829.0,1356.6C829.1,1357.6 829.3,1358.6 829.4,1359.5C829.5,1360.5 829.6,1361.5 829.7,1362.5C829.9,1363.5 830.0,1364.5 830.1,1365.5C830.2,1366.5 830.3,1367.5 830.4,1368.5C830.4,1369.5 830.5,1370.5 830.6,1371.5C830.7,1372.5 830.8,1373.5 830.9,1374.5C831.0,1375.5 831.1,1376.5 831.2,1377.5C831.3,1378.5 831.4,1379.4 831.5,1380.4C831.6,1381.4 831.7,1382.4 831.8,1383.4C831.9,1384.4 832.0,1385.4 832.1,1386.4C832.2,1387.4 832.3,1388.4 832.4,1389.4C832.5,1390.4 832.6,1391.4 832.7,1392.4C832.8,1393.4 832.9,1394.4 833.0,1395.4C833.1,1396.4 833.2,1397.4 833.3,1398.4C833.4,1399.4 833.5,1400.4 833.6,1401.3C833.7,1402.3 833.8,1403.3 833.9,1404.3C834.0,1405.3 834.1,1406.3 834.2,1407.3C834.3,1408.3 834.4,1409.3 834.5,1410.3C834.6,1411.3 834.7,1412.3 834.8,1413.3C834.9,1414.3 835.0,1415.3 835.1,1416.3C835.2,1417.3 835.3,1418.3 835.4,1419.3C835.5,1420.3 835.6,1421.3 835.7,1422.2C835.9,1423.2 836.0,1424.2 836.1,1425.2C836.2,1426.2 836.3,1427.2 836.4,1428.2C836.5,1429.2 836.6,1430.2 836.8,1431.2C836.9,1432.2 837.0,1433.2 837.1,1434.2C837.3,1435.2 837.4,1436.2 837.5,1437.1C837.7,1438.1 837.8,1439.1 837.9,1440.1C838.0,1441.1 838.1,1442.1 838.2,1443.1C838.4,1444.1 838.5,1445.1 838.6,1446.1C838.7,1447.1 838.8,1448.1 838.9,1449.1C839.0,1450.1 839.1,1451.1 839.2,1452.1C839.3,1453.0 839.4,1454.0 839.5,1455.0C839.6,1456.0 839.7,1457.0 839.8,1458.0C839.9,1459.0 840.0,1460.0 840.1,1461.0C840.2,1462.0 840.3,1463.0 840.4,1464.0C840.5,1465.0 840.6,1466.0 840.7,1467.0C840.8,1468.0 840.9,1469.0 841.0,1470.0C841.1,1471.0 841.2,1472.0 841.2,1473.0C841.3,1474.0 841.4,1475.0 841.5,1476.0C841.6,1477.0 841.6,1477.9 841.7,1478.9C841.8,1479.9 841.9,1480.9 842.0,1481.9C842.1,1482.9 842.2,1483.9 842.3,1484.9C842.4,1485.9 842.5,1486.9 842.6,1487.9C842.8,1488.9 842.9,1489.9 843.0,1490.9C843.1,1491.9 843.2,1492.9 843.3,1493.9C843.4,1494.9 843.5,1495.9 843.6,1496.9C843.7,1497.9 843.8,1498.8 843.9,1499.8C844.0,1500.8 844.1,1501.8 844.2,1502.8C844.3,1503.8 844.4,1504.8 844.5,1505.8C844.6,1506.8 844.7,1507.8 844.8,1508.8C844.9,1509.8 845.0,1510.8 845.1,1511.8C845.2,1512.8 845.3,1513.8 845.4,1514.8C845.5,1515.8 845.7,1516.8 845.8,1517.7C845.9,1518.7 846.0,1519.7 846.1,1520.7C846.2,1521.7 846.3,1522.7 846.4,1523.7C846.6,1524.7 846.7,1525.7 846.8,1526.7C846.9,1527.7 847.0,1528.7 847.1,1529.7C847.2,1530.7 847.4,1531.7 847.5,1532.7C847.6,1533.6 847.7,1534.6 847.9,1535.6C848.0,1536.6 848.1,1537.6 848.3,1538.6C848.4,1539.6 848.5,1540.6 848.6,1541.6C848.8,1542.6 848.9,1543.6 849.0,1544.6C849.2,1545.5 849.3,1546.5 849.4,1547.5C849.6,1548.5 849.7,1549.5 849.8,1550.5C850.0,1551.5 850.1,1552.5 850.2,1553.5C850.4,1554.5 850.5,1555.5 850.6,1556.5C850.8,1557.4 850.9,1558.4 851.1,1559.4C851.2,1560.4 851.3,1561.4 851.5,1562.4C851.6,1563.4 851.8,1564.4 851.9,1565.4C852.1,1566.3 852.2,1567.3 852.4,1568.3C852.5,1569.3 852.7,1570.3 852.8,1571.3C853.0,1572.3 853.1,1573.3 853.3,1574.3C853.5,1575.2 853.6,1576.2 853.8,1577.2C853.9,1578.2 854.1,1579.2 854.3,1580.2C854.4,1581.2 854.6,1582.2 854.8,1583.1C854.9,1584.1 855.1,1585.1 855.2,1586.1C855.4,1587.1 855.6,1588.1 855.8,1589.1C856.0,1590.0 856.2,1591.0 856.4,1592.0C856.6,1593.0 856.8,1594.0 857.0,1594.9C857.2,1595.9 857.4,1596.9 857.6,1597.9C857.8,1598.9 858.0,1599.8 858.2,1600.8C858.4,1601.8 858.7,1602.8 858.9,1603.7C859.2,1604.7 859.4,1605.7 859.7,1606.6C859.9,1607.6 860.2,1608.6 860.5,1609.5C860.7,1610.5 861.0,1611.5 861.2,1612.4C861.5,1613.4 861.8,1614.3 862.1,1615.3C862.4,1616.2 862.8,1617.2 863.2,1618.1C863.6,1619.0 864.0,1619.9 864.4,1620.8C864.7,1621.8 865.1,1622.7 865.5,1623.6C866.0,1624.5 866.4,1625.4 867.0,1626.2C867.5,1627.0 868.2,1627.8 868.9,1628.4C869.5,1629.1 870.2,1629.9 871.0,1630.0C871.7,1630.2 872.5,1630.0 873.1,1629.7C873.8,1629.3 874.5,1628.4 875.1,1627.7C875.7,1626.9 876.2,1626.0 876.6,1625.2C877.1,1624.3 877.4,1623.3 877.8,1622.4C878.1,1621.5 878.5,1620.5 878.9,1619.6C879.2,1618.7 879.6,1617.7 879.9,1616.8C880.2,1615.8 880.5,1614.9 880.8,1613.9C881.1,1613.0 881.4,1612.0 881.7,1611.1C882.0,1610.1 882.3,1609.2 882.5,1608.2C882.8,1607.2 883.1,1606.3 883.3,1605.3C883.6,1604.3 883.8,1603.3 884.0,1602.4C884.2,1601.4 884.4,1600.4 884.6,1599.4C884.8,1598.4 884.9,1597.5 885.1,1596.5C885.3,1595.5 885.5,1594.5 885.7,1593.5C885.9,1592.6 886.1,1591.6 886.3,1590.6C886.4,1589.6 886.6,1588.6 886.7,1587.6C886.9,1586.6 887.1,1585.7 887.2,1584.7C887.4,1583.7 887.5,1582.7 887.7,1581.7C887.8,1580.7 888.0,1579.7 888.2,1578.7C888.3,1577.7 888.5,1576.8 888.6,1575.8C888.8,1574.8 889.0,1573.8 889.1,1572.8C889.3,1571.8 889.4,1570.8 889.6,1569.9C889.8,1568.9 889.9,1567.9 890.1,1566.9C890.3,1565.9 890.4,1564.9 890.6,1563.9C890.7,1562.9 890.9,1561.9 891.0,1561.0C891.1,1560.0 891.3,1559.0 891.4,1558.0C891.6,1557.0 891.7,1556.0 891.9,1555.0C892.0,1554.0 892.1,1553.0 892.3,1552.0C892.4,1551.1 892.6,1550.1 892.7,1549.1C892.8,1548.1 893.0,1547.1 893.1,1546.1C893.2,1545.1 893.4,1544.1 893.5,1543.1C893.6,1542.1 893.8,1541.1 893.9,1540.2C894.1,1539.2 894.2,1538.2 894.3,1537.2C894.5,1536.2 894.6,1535.2 894.7,1534.2C894.9,1533.2 895.0,1532.2 895.1,1531.2C895.3,1530.2 895.4,1529.3 895.5,1528.3C895.7,1527.3 895.8,1526.3 895.9,1525.3C896.1,1524.3 896.2,1523.3 896.3,1522.3C896.5,1521.3 896.6,1520.3 896.7,1519.3C896.9,1518.3 897.0,1517.4 897.1,1516.4C897.2,1515.4 897.4,1514.4 897.5,1513.4C897.6,1512.4 897.8,1511.4 897.9,1510.4C898.0,1509.4 898.1,1508.4 898.3,1507.4C898.4,1506.4 898.5,1505.4 898.6,1504.5C898.8,1503.5 898.9,1502.5 899.0,1501.5C899.2,1500.5 899.3,1499.5 899.4,1498.5C899.5,1497.5 899.7,1496.5 899.8,1495.5C899.9,1494.5 900.0,1493.5 900.1,1492.5C900.2,1491.6 900.3,1490.6 900.4,1489.6C900.5,1488.6 900.6,1487.6 900.7,1486.6C900.8,1485.6 900.9,1484.6 901.0,1483.6C901.1,1482.6 901.2,1481.6 901.4,1480.6C901.5,1479.6 901.6,1478.6 901.8,1477.6C901.9,1476.6 902.1,1475.7 902.3,1474.7C902.4,1473.7 902.6,1472.7 902.7,1471.7C902.9,1470.7 903.0,1469.7 903.2,1468.7C903.3,1467.8 903.5,1466.8 903.6,1465.8C903.8,1464.8 903.9,1463.8 904.1,1462.8C904.2,1461.8 904.4,1460.8 904.5,1459.8C904.7,1458.8 904.8,1457.9 904.9,1456.9C905.1,1455.9 905.2,1454.9 905.4,1453.9C905.5,1452.9 905.6,1451.9 905.8,1450.9C905.9,1449.9 906.0,1448.9 906.2,1447.9C906.3,1447.0 906.4,1446.0 906.6,1445.0C906.7,1444.0 906.8,1443.0 906.9,1442.0C907.1,1441.0 907.2,1440.0 907.3,1439.0C907.5,1438.0 907.6,1437.0 907.8,1436.0C907.9,1435.1 908.0,1434.1 908.2,1433.1C908.3,1432.1 908.5,1431.1 908.6,1430.1C908.7,1429.1 908.9,1428.1 909.1,1427.1C909.2,1426.2 909.4,1425.2 909.5,1424.2C909.7,1423.2 909.8,1422.2 910.0,1421.2C910.2,1420.2 910.4,1419.2 910.5,1418.3C910.7,1417.3 910.9,1416.3 911.1,1415.3C911.3,1414.3 911.5,1413.3 911.7,1412.4C911.9,1411.4 912.0,1410.4 912.3,1409.4C912.5,1408.5 912.7,1407.5 912.9,1406.5C913.2,1405.5 913.4,1404.6 913.6,1403.6C913.9,1402.6 914.1,1401.6 914.4,1400.7C914.7,1399.7 915.0,1398.8 915.3,1397.8C915.6,1396.9 915.9,1395.9 916.3,1395.0C916.6,1394.0 916.9,1393.1 917.3,1392.2C917.7,1391.2 918.1,1390.3 918.5,1389.4C918.9,1388.5 919.3,1387.6 919.8,1386.7C920.2,1385.8 920.6,1384.9 921.2,1384.1C921.7,1383.3 922.3,1382.5 923.1,1381.8C923.8,1381.2 924.6,1380.6 925.4,1380.2C926.3,1379.9 927.3,1379.8 928.1,1379.9C929.0,1380.0 930.0,1380.4 930.8,1380.9C931.6,1381.4 932.2,1382.2 932.9,1382.9C933.5,1383.6 934.1,1384.5 934.7,1385.3C935.3,1386.1 935.8,1386.9 936.4,1387.7C936.9,1388.6 937.5,1389.4 938.0,1390.3C938.5,1391.1 938.9,1392.0 939.4,1392.9C939.9,1393.8 940.4,1394.6 940.9,1395.5C941.4,1396.4 941.9,1397.2 942.4,1398.1C942.8,1399.0 943.3,1399.9 943.7,1400.8C944.2,1401.7 944.6,1402.6 945.1,1403.5C945.5,1404.4 946.0,1405.3 946.4,1406.2C946.9,1407.0 947.3,1407.9 947.8,1408.8C948.2,1409.7 948.7,1410.6 949.1,1411.5C949.6,1412.4 950.0,1413.3 950.4,1414.2C950.9,1415.1 951.3,1416.0 951.8,1416.9C952.2,1417.8 952.7,1418.7 953.3,1419.5C953.8,1420.3 954.4,1421.1 955.1,1421.7C955.8,1422.4 956.6,1423.0 957.4,1423.3C958.2,1423.6 959.3,1423.6 960.1,1423.4C960.9,1423.2 961.7,1422.6 962.4,1422.0C963.0,1421.4 963.5,1420.5 964.0,1419.7C964.5,1418.8 965.0,1417.9 965.4,1417.0C965.8,1416.1 966.2,1415.2 966.6,1414.3C967.0,1413.4 967.3,1412.4 967.7,1411.5C968.0,1410.5 968.4,1409.6 968.7,1408.7C969.1,1407.7 969.4,1406.8 969.7,1405.8C970.1,1404.9 970.3,1403.9 970.6,1403.0C970.9,1402.0 971.2,1401.1 971.4,1400.1C971.7,1399.1 972.0,1398.2 972.2,1397.2C972.5,1396.2 972.8,1395.3 973.0,1394.3C973.3,1393.3 973.5,1392.4 973.8,1391.4C974.0,1390.4 974.2,1389.5 974.5,1388.5C974.7,1387.5 974.9,1386.5 975.1,1385.5C975.3,1384.6 975.5,1383.6 975.7,1382.6C975.9,1381.6 976.1,1380.6 976.3,1379.7C976.5,1378.7 976.7,1377.7 976.9,1376.7C977.1,1375.7 977.3,1374.8 977.5,1373.8C977.7,1372.8 977.9,1371.8 978.1,1370.8C978.3,1369.9 978.5,1368.9 978.7,1367.9C978.9,1366.9 979.2,1366.0 979.4,1365.0C979.6,1364.0 979.8,1363.0 980.0,1362.0C980.2,1361.1 980.4,1360.1 980.6,1359.1C980.8,1358.1 981.1,1357.2 981.3,1356.2C981.5,1355.2 981.7,1354.2 982.0,1353.3C982.2,1352.3 982.4,1351.3 982.6,1350.3C982.8,1349.4 983.1,1348.4 983.3,1347.4C983.5,1346.4 983.7,1345.5 984.0,1344.5C984.2,1343.5 984.4,1342.5 984.6,1341.6C984.8,1340.6 985.0,1339.6 985.3,1338.6C985.5,1337.6 985.7,1336.7 985.9,1335.7C986.1,1334.7 986.3,1333.7 986.5,1332.7C986.7,1331.8 986.9,1330.8 987.1,1329.8C987.3,1328.8 987.5,1327.8 987.7,1326.9C987.9,1325.9 988.1,1324.9 988.3,1323.9C988.5,1322.9 988.7,1322.0 988.9,1321.0C989.1,1320.0 989.3,1319.0 989.5,1318.0C989.7,1317.1 989.9,1316.1 990.1,1315.1C990.3,1314.1 990.5,1313.1 990.7,1312.2C991.0,1311.2 991.2,1310.2 991.5,1309.3C991.7,1308.3 992.0,1307.3 992.3,1306.4C992.5,1305.4 992.8,1304.5 993.1,1303.5C993.4,1302.5 993.6,1301.6 993.9,1300.6C994.2,1299.6 994.4,1298.7 994.7,1297.7C995.0,1296.8 995.3,1295.8 995.6,1294.9C996.0,1293.9 996.3,1293.0 996.6,1292.0C996.9,1291.1 997.3,1290.1 997.6,1289.2C997.9,1288.2 998.2,1287.3 998.6,1286.3C998.9,1285.4 999.3,1284.5 999.6,1283.5C1000.0,1282.6 1000.4,1281.7 1000.8,1280.8C1001.2,1279.8 1001.6,1278.9 1002.0,1278.0C1002.4,1277.1 1002.7,1276.2 1003.2,1275.3C1003.6,1274.4 1004.0,1273.4 1004.4,1272.6C1004.9,1271.7 1005.3,1270.8 1005.8,1269.9C1006.3,1269.0 1006.7,1268.1 1007.2,1267.2C1007.7,1266.3 1008.2,1265.5 1008.7,1264.7C1009.3,1263.8 1009.8,1263.0 1010.4,1262.2C1011.0,1261.4 1011.6,1260.5 1012.2,1259.7C1012.8,1259.0 1013.5,1258.2 1014.1,1257.5C1014.8,1256.8 1015.5,1256.1 1016.2,1255.4C1017.0,1254.7 1017.6,1253.9 1018.4,1253.3C1019.1,1252.6 1019.9,1252.0 1020.7,1251.5C1021.6,1250.9 1022.5,1250.5 1023.3,1250.0C1024.2,1249.5 1025.1,1249.0 1026.0,1248.6C1026.9,1248.1 1027.7,1247.6 1028.6,1247.1C1029.5,1246.7 1030.4,1246.2 1031.3,1245.9C1032.3,1245.6 1033.2,1245.3 1034.2,1245.1C1035.2,1244.9 1036.2,1244.7 1037.1,1244.6C1038.1,1244.4 1039.1,1244.2 1040.1,1244.1C1041.1,1244.0 1042.1,1243.8 1043.1,1243.8C1044.1,1243.7 1045.1,1243.6 1046.1,1243.6C1047.1,1243.5 1048.1,1243.5 1049.1,1243.4C1050.1,1243.3 1051.1,1243.3 1052.1,1243.2C1053.1,1243.1 1054.1,1243.0 1055.0,1242.9C1056.0,1242.8 1057.0,1242.6 1058.0,1242.5C1059.0,1242.4 1060.0,1242.3 1061.0,1242.2C1062.0,1242.1 1063.0,1242.1 1064.0,1242.1C1065.0,1242.0 1066.0,1242.0 1067.0,1241.9C1068.0,1241.9 1069.0,1241.8 1070.0,1241.8C1071.0,1241.7 1072.0,1241.7 1073.0,1241.5C1073.9,1241.4 1074.9,1241.1 1075.8,1240.9C1076.8,1240.7 1077.7,1240.3 1078.7,1240.1C1079.7,1240.0 1080.7,1239.9 1081.7,1239.8C1082.7,1239.7 1083.7,1239.8 1084.7,1239.7C1085.7,1239.7 1086.7,1239.6 1087.6,1239.5C1088.6,1239.4 1089.6,1239.2 1090.6,1239.0C1091.6,1238.9 1092.5,1238.7 1093.5,1238.6C1094.5,1238.5 1095.5,1238.5 1096.5,1238.5C1097.5,1238.4 1098.5,1238.4 1099.5,1238.4C1100.5,1238.4 1101.5,1238.4 1102.5,1238.4C1103.5,1238.4 1104.5,1238.4 1105.5,1238.4C1106.5,1238.3 1107.5,1238.3 1108.5,1238.3C1109.5,1238.3 1110.5,1238.3 1111.5,1238.3C1112.5,1238.3 1113.5,1238.3 1114.5,1238.3C1115.5,1238.2 1116.5,1238.3 1117.5,1238.2C1118.5,1238.1 1119.4,1237.9 1120.4,1237.7C1121.4,1237.5 1122.3,1237.1 1123.2,1237.0C1124.2,1236.9 1125.2,1236.8 1126.2,1236.8C1127.2,1236.8 1128.2,1236.8 1129.2,1236.8C1130.2,1236.8 1131.2,1236.8 1132.2,1236.8C1133.2,1236.8 1134.2,1236.8 1135.2,1236.8C1136.2,1236.8 1137.2,1236.8 1138.2,1236.8C1139.2,1236.8 1140.2,1236.8 1141.2,1236.8C1142.2,1236.8 1143.2,1236.8 1144.2,1236.8C1145.2,1236.8 1146.2,1236.8 1147.2,1236.8" fill="none" stroke="#111" stroke-width="1.8" stroke-linejoin="round" stroke-linecap="round"/>
<path d="M482.30,1273.30 L531.00,1273.30" fill="none" stroke="#111" stroke-width="1.8" stroke-linejoin="round" stroke-linecap="round"/>
</svg>
</body></html>
